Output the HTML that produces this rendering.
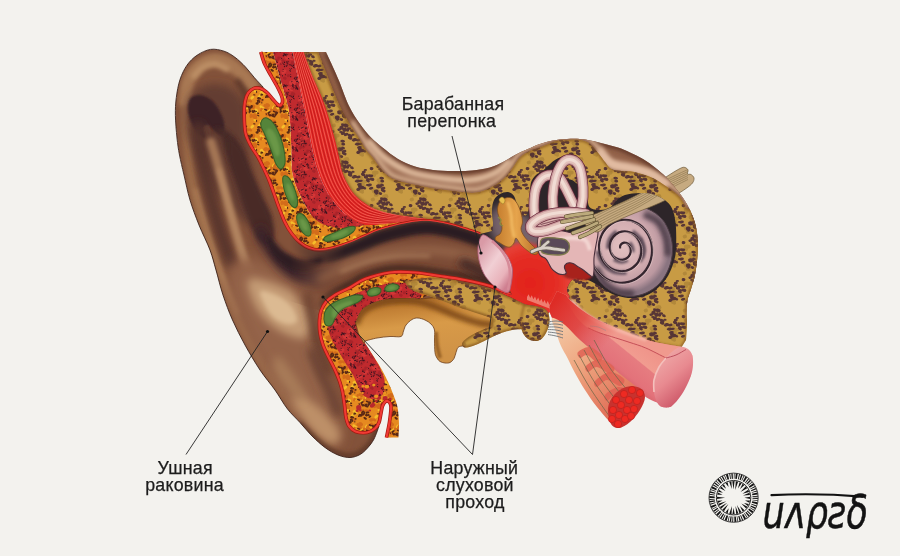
<!DOCTYPE html>
<html lang="ru"><head><meta charset="utf-8"><title>Строение уха</title>
<style>
html,body{margin:0;padding:0;background:#f3f2ee;}
body{width:900px;height:556px;overflow:hidden;position:relative;font-family:"Liberation Sans",sans-serif;}
svg{position:absolute;left:0;top:0;display:block}
text{font-family:"Liberation Sans",sans-serif;fill:#1b1b1b}
</style></head><body>
<svg width="900" height="556" viewBox="0 0 900 556">
<defs>
<filter id="b1" filterUnits="userSpaceOnUse" x="0" y="0" width="900" height="556"><feGaussianBlur stdDeviation="1"/></filter>
<filter id="b2" filterUnits="userSpaceOnUse" x="0" y="0" width="900" height="556"><feGaussianBlur stdDeviation="2.2"/></filter>
<filter id="b4" filterUnits="userSpaceOnUse" x="0" y="0" width="900" height="556"><feGaussianBlur stdDeviation="4"/></filter>
<filter id="b7" filterUnits="userSpaceOnUse" x="0" y="0" width="900" height="556"><feGaussianBlur stdDeviation="7"/></filter>
<filter id="b05" filterUnits="userSpaceOnUse" x="0" y="0" width="900" height="556"><feGaussianBlur stdDeviation="0.5"/></filter>
<clipPath id="cAur"><path d="M263.5,87.5C262,85.9 257.5,81.2 254.5,77.8C251.5,74.4 248.8,70.5 245.5,67C242.2,63.5 238.3,59.7 234.7,57.1C231.1,54.5 228,52.5 224,51.2C220,49.9 215,48.7 210.5,49.4C206,50.1 200.9,52.7 197,55.3C193.1,57.9 189.8,61.2 187,65.2C184.2,69.2 181.8,74.2 180,79.6C178.2,85 177.1,91.6 176.3,97.6C175.5,103.6 175.3,108.8 175.4,115.5C175.5,122.2 176.3,131.4 177,138C177.7,144.6 178.3,148.8 179.5,155C180.7,161.2 182.2,167.5 184,175C185.8,182.5 187.5,191.7 190,200C192.5,208.3 195.7,216.7 199,225C202.3,233.3 207.2,242.5 210,250C212.8,257.5 213.8,262.5 216,270C218.2,277.5 220.2,286.7 223,295C225.8,303.3 228.8,311.7 232.5,320C236.2,328.3 240.4,336.7 245,345C249.6,353.3 255,362.5 260,370C265,377.5 270.4,383.5 275,390C279.6,396.5 283.3,403.6 287.5,409C291.7,414.4 295.9,418 300,422.5C304.1,427 307.8,431.8 312,436C316.2,440.2 320.7,444.3 325,447.5C329.3,450.7 333.8,453.3 338,455C342.2,456.7 346.3,457.6 350,457.5C353.7,457.4 357.1,456.1 360,454.5C362.9,452.9 365.2,450.6 367.5,448C369.8,445.4 372.1,442.7 374,439C375.9,435.3 378.2,428.2 379,426L372,420 L350,400 L340,300 L525,300 L525,215 L300,215 L262,150 L258,100Z"/></clipPath>
<pattern id="pBone" width="39" height="37" patternUnits="userSpaceOnUse"><rect width="39" height="37" fill="#c89b44"/><path d="M7.1,1.7a2,1.3 -10 1,0 4,-0.7a2,1.3 -10 1,0 -4,0.7zM7.1,38.7a2,1.3 -10 1,0 4,-0.7a2,1.3 -10 1,0 -4,0.7zM9.4,0.5a2.8,1.9 13 1,0 5.4,1.3a2.8,1.9 13 1,0 -5.4,-1.3zM9.4,37.5a2.8,1.9 13 1,0 5.4,1.3a2.8,1.9 13 1,0 -5.4,-1.3zM-7.9,12.1a3.2,2.3 -9 1,0 6.3,-1.1a3.2,2.3 -9 1,0 -6.3,1.1zM31.1,12.1a3.2,2.3 -9 1,0 6.3,-1.1a3.2,2.3 -9 1,0 -6.3,1.1zM19.1,28.5a3,2 -16 1,0 5.8,-1.7a3,2 -16 1,0 -5.8,1.7zM20.9,24.5a3.4,2.1 2 1,0 6.8,0.3a3.4,2.1 2 1,0 -6.8,-0.3zM11.2,-3.2a2.6,1.7 -3 1,0 5.2,-0.3a2.6,1.7 -3 1,0 -5.2,0.3zM11.2,33.8a2.6,1.7 -3 1,0 5.2,-0.3a2.6,1.7 -3 1,0 -5.2,0.3zM6.7,-3.3a3.2,2.4 -22 1,0 5.9,-2.5a3.2,2.4 -22 1,0 -5.9,2.5zM6.7,33.7a3.2,2.4 -22 1,0 5.9,-2.5a3.2,2.4 -22 1,0 -5.9,2.5zM22.8,7.2a3,2.3 20 1,0 5.6,2.1a3,2.3 20 1,0 -5.6,-2.1zM23,9.8a2.3,1.5 4 1,0 4.5,0.4a2.3,1.5 4 1,0 -4.5,-0.4zM20,4.5a2.3,1.5 5 1,0 4.7,0.5a2.3,1.5 5 1,0 -4.7,-0.5zM20,41.5a2.3,1.5 5 1,0 4.7,0.5a2.3,1.5 5 1,0 -4.7,-0.5zM21.1,7.2a2.3,1.5 -22 1,0 4.2,-1.8a2.3,1.5 -22 1,0 -4.2,1.8zM21.1,44.2a2.3,1.5 -22 1,0 4.2,-1.8a2.3,1.5 -22 1,0 -4.2,1.8zM26.7,-1.9a2,1.4 23 1,0 3.7,1.6a2,1.4 23 1,0 -3.7,-1.6zM26.7,35.1a2,1.4 23 1,0 3.7,1.6a2,1.4 23 1,0 -3.7,-1.6zM25.6,-5.3a3.4,2.2 15 1,0 6.6,1.9a3.4,2.2 15 1,0 -6.6,-1.9zM25.6,31.7a3.4,2.2 15 1,0 6.6,1.9a3.4,2.2 15 1,0 -6.6,-1.9zM7.3,5.4a2.9,2.1 3 1,0 5.8,0.4a2.9,2.1 3 1,0 -5.8,-0.4zM7.3,42.4a2.9,2.1 3 1,0 5.8,0.4a2.9,2.1 3 1,0 -5.8,-0.4zM8.3,5.7a2.5,1.6 24 1,0 4.6,2.1a2.5,1.6 24 1,0 -4.6,-2.1zM8.3,42.7a2.5,1.6 24 1,0 4.6,2.1a2.5,1.6 24 1,0 -4.6,-2.1zM19.8,15.1a2.1,1.6 -16 1,0 4,-1.2a2.1,1.6 -16 1,0 -4,1.2zM24.3,5.3a2.5,1.9 16 1,0 4.8,1.4a2.5,1.9 16 1,0 -4.8,-1.4zM24.3,42.3a2.5,1.9 16 1,0 4.8,1.4a2.5,1.9 16 1,0 -4.8,-1.4zM8.7,-1.5a2.6,2 -3 1,0 5.2,-0.4a2.6,2 -3 1,0 -5.2,0.4zM8.7,35.5a2.6,2 -3 1,0 5.2,-0.4a2.6,2 -3 1,0 -5.2,0.4zM7.4,-6.3a2.4,1.7 -14 1,0 4.6,-1.2a2.4,1.7 -14 1,0 -4.6,1.2zM7.4,30.7a2.4,1.7 -14 1,0 4.6,-1.2a2.4,1.7 -14 1,0 -4.6,1.2z" fill="#a98036" opacity="0.7"/><path d="M29.4,-4.2a1.9,1.2 11 1,0 3.7,0.7a1.9,1.2 11 1,0 -3.7,-0.7zM29.4,32.8a1.9,1.2 11 1,0 3.7,0.7a1.9,1.2 11 1,0 -3.7,-0.7zM8.3,-4.1a1.7,0.9 -3 1,0 3.3,-0.2a1.7,0.9 -3 1,0 -3.3,0.2zM8.3,32.9a1.7,0.9 -3 1,0 3.3,-0.2a1.7,0.9 -3 1,0 -3.3,0.2zM8.7,2.4a1.9,1.4 14 1,0 3.7,0.9a1.9,1.4 14 1,0 -3.7,-0.9zM8.7,39.4a1.9,1.4 14 1,0 3.7,0.9a1.9,1.4 14 1,0 -3.7,-0.9zM9.2,2.4a2.1,1.1 -6 1,0 4.2,-0.5a2.1,1.1 -6 1,0 -4.2,0.5zM9.2,39.4a2.1,1.1 -6 1,0 4.2,-0.5a2.1,1.1 -6 1,0 -4.2,0.5zM25.5,19a2.1,1.1 -16 1,0 4,-1.1a2.1,1.1 -16 1,0 -4,1.1zM27.4,16a2.1,1.5 14 1,0 4.1,1.1a2.1,1.5 14 1,0 -4.1,-1.1zM28.1,16.1a2,1.2 -20 1,0 3.8,-1.4a2,1.2 -20 1,0 -3.8,1.4zM12.7,21.9a1.7,0.9 2 1,0 3.4,0.1a1.7,0.9 2 1,0 -3.4,-0.1zM18.8,20.4a1.8,1.3 5 1,0 3.5,0.4a1.8,1.3 5 1,0 -3.5,-0.4zM10.9,24.6a2,1.3 -17 1,0 3.8,-1.2a2,1.3 -17 1,0 -3.8,1.2zM24.2,9.1a1.6,1 -23 1,0 3,-1.3a1.6,1 -23 1,0 -3,1.3zM30,4.7a2.4,1.3 22 1,0 4.4,1.8a2.4,1.3 22 1,0 -4.4,-1.8zM14.9,32.6a2.2,1.4 -23 1,0 4.1,-1.8a2.2,1.4 -23 1,0 -4.1,1.8zM16.5,0.4a2.2,1.4 -10 1,0 4.3,-0.8a2.2,1.4 -10 1,0 -4.3,0.8zM16.5,37.4a2.2,1.4 -10 1,0 4.3,-0.8a2.2,1.4 -10 1,0 -4.3,0.8zM14.8,0a2.1,1.2 2 1,0 4.2,0.2a2.1,1.2 2 1,0 -4.2,-0.2zM14.8,37a2.1,1.2 2 1,0 4.2,0.2a2.1,1.2 2 1,0 -4.2,-0.2zM11.5,2.6a1.9,1 15 1,0 3.6,1a1.9,1 15 1,0 -3.6,-1zM11.5,39.6a1.9,1 15 1,0 3.6,1a1.9,1 15 1,0 -3.6,-1zM28.3,30a2.3,1.3 2 1,0 4.6,0.2a2.3,1.3 2 1,0 -4.6,-0.2zM32,24.3a2.3,1.3 -22 1,0 4.2,-1.7a2.3,1.3 -22 1,0 -4.2,1.7zM7.3,0.7a2.3,1.5 22 1,0 4.2,1.7a2.3,1.5 22 1,0 -4.2,-1.7zM7.3,37.7a2.3,1.5 22 1,0 4.2,1.7a2.3,1.5 22 1,0 -4.2,-1.7zM-3,23.7a2.4,1.3 24 1,0 4.3,2a2.4,1.3 24 1,0 -4.3,-2zM36,23.7a2.4,1.3 24 1,0 4.3,2a2.4,1.3 24 1,0 -4.3,-2zM-0.8,18.8a1.6,0.8 12 1,0 3.2,0.7a1.6,0.8 12 1,0 -3.2,-0.7zM38.2,18.8a1.6,0.8 12 1,0 3.2,0.7a1.6,0.8 12 1,0 -3.2,-0.7zM0.5,23.4a1.6,0.9 12 1,0 3.2,0.7a1.6,0.9 12 1,0 -3.2,-0.7zM39.5,23.4a1.6,0.9 12 1,0 3.2,0.7a1.6,0.9 12 1,0 -3.2,-0.7zM-4,17.4a2,1.2 1 1,0 4.1,0.1a2,1.2 1 1,0 -4.1,-0.1zM35,17.4a2,1.2 1 1,0 4.1,0.1a2,1.2 1 1,0 -4.1,-0.1zM-5.4,19a1.7,0.9 18 1,0 3.2,1a1.7,0.9 18 1,0 -3.2,-1zM33.6,19a1.7,0.9 18 1,0 3.2,1a1.7,0.9 18 1,0 -3.2,-1zM16.9,27.3a2.1,1.4 15 1,0 4.1,1.1a2.1,1.4 15 1,0 -4.1,-1.1zM15.5,-4.5a1.7,1.3 19 1,0 3.3,1.1a1.7,1.3 19 1,0 -3.3,-1.1zM15.5,32.5a1.7,1.3 19 1,0 3.3,1.1a1.7,1.3 19 1,0 -3.3,-1.1zM18.8,30.9a2.3,1.4 9 1,0 4.5,0.8a2.3,1.4 9 1,0 -4.5,-0.8zM13,29a2,1.4 3 1,0 3.9,0.2a2,1.4 3 1,0 -3.9,-0.2zM17.9,27.9a2.2,1.3 -1 1,0 4.4,-0.1a2.2,1.3 -1 1,0 -4.4,0.1zM14.6,27.4a1.8,1 6 1,0 3.5,0.4a1.8,1 6 1,0 -3.5,-0.4zM27.7,7.8a1.8,1.4 20 1,0 3.4,1.3a1.8,1.4 20 1,0 -3.4,-1.3zM29.7,4a2.4,1.2 -15 1,0 4.6,-1.3a2.4,1.2 -15 1,0 -4.6,1.3zM29.7,41a2.4,1.2 -15 1,0 4.6,-1.3a2.4,1.2 -15 1,0 -4.6,1.3zM23.9,7.8a1.7,0.9 -1 1,0 3.4,-0.1a1.7,0.9 -1 1,0 -3.4,0.1zM28.9,22.8a2.1,1.4 -18 1,0 3.9,-1.3a2.1,1.4 -18 1,0 -3.9,1.3zM6.1,-0.5a2.2,1.5 4 1,0 4.4,0.3a2.2,1.5 4 1,0 -4.4,-0.3zM6.1,36.5a2.2,1.5 4 1,0 4.4,0.3a2.2,1.5 4 1,0 -4.4,-0.3zM-3.1,26.2a2.3,1.5 19 1,0 4.4,1.5a2.3,1.5 19 1,0 -4.4,-1.5zM35.9,26.2a2.3,1.5 19 1,0 4.4,1.5a2.3,1.5 19 1,0 -4.4,-1.5zM0.8,29a1.7,1.1 13 1,0 3.3,0.8a1.7,1.1 13 1,0 -3.3,-0.8zM39.8,29a1.7,1.1 13 1,0 3.3,0.8a1.7,1.1 13 1,0 -3.3,-0.8zM-0.9,19.5a1.9,1.1 12 1,0 3.7,0.9a1.9,1.1 12 1,0 -3.7,-0.9zM38.1,19.5a1.9,1.1 12 1,0 3.7,0.9a1.9,1.1 12 1,0 -3.7,-0.9zM18,3.8a2.2,1.3 -16 1,0 4.2,-1.3a2.2,1.3 -16 1,0 -4.2,1.3zM18,40.8a2.2,1.3 -16 1,0 4.2,-1.3a2.2,1.3 -16 1,0 -4.2,1.3zM22.9,6.9a2.4,1.8 -10 1,0 4.7,-0.8a2.4,1.8 -10 1,0 -4.7,0.8zM30.7,19.6a2,1.2 -3 1,0 4.1,-0.3a2,1.2 -3 1,0 -4.1,0.3zM30.6,19.1a2.4,1.4 -3 1,0 4.8,-0.3a2.4,1.4 -3 1,0 -4.8,0.3zM1.6,28.9a2.2,1.4 -7 1,0 4.3,-0.6a2.2,1.4 -7 1,0 -4.3,0.6zM40.6,28.9a2.2,1.4 -7 1,0 4.3,-0.6a2.2,1.4 -7 1,0 -4.3,0.6zM4.5,-4.6a2.4,1.2 10 1,0 4.7,0.9a2.4,1.2 10 1,0 -4.7,-0.9zM4.5,32.4a2.4,1.2 10 1,0 4.7,0.9a2.4,1.2 10 1,0 -4.7,-0.9zM6.5,-0.8a2.2,1.1 -3 1,0 4.4,-0.3a2.2,1.1 -3 1,0 -4.4,0.3zM6.5,36.2a2.2,1.1 -3 1,0 4.4,-0.3a2.2,1.1 -3 1,0 -4.4,0.3zM5.4,5.1a2.2,1.6 -24 1,0 4.1,-1.8a2.2,1.6 -24 1,0 -4.1,1.8zM5.4,42.1a2.2,1.6 -24 1,0 4.1,-1.8a2.2,1.6 -24 1,0 -4.1,1.8zM3.7,-4a2.1,1.1 14 1,0 4.1,1a2.1,1.1 14 1,0 -4.1,-1zM3.7,33a2.1,1.1 14 1,0 4.1,1a2.1,1.1 14 1,0 -4.1,-1zM10.1,25.6a2.2,1.5 23 1,0 4.1,1.8a2.2,1.5 23 1,0 -4.1,-1.8zM5.4,29.6a2.1,1.1 -17 1,0 3.9,-1.2a2.1,1.1 -17 1,0 -3.9,1.2zM29.4,-0.7a1.8,1.3 22 1,0 3.4,1.4a1.8,1.3 22 1,0 -3.4,-1.4zM29.4,36.3a1.8,1.3 22 1,0 3.4,1.4a1.8,1.3 22 1,0 -3.4,-1.4zM25.3,1.4a2.4,1.8 -1 1,0 4.7,-0.1a2.4,1.8 -1 1,0 -4.7,0.1zM25.3,38.4a2.4,1.8 -1 1,0 4.7,-0.1a2.4,1.8 -1 1,0 -4.7,0.1zM29.4,30.5a1.8,1.1 -3 1,0 3.6,-0.2a1.8,1.1 -3 1,0 -3.6,0.2zM26.9,2.5a2.1,1.2 -18 1,0 4.1,-1.4a2.1,1.2 -18 1,0 -4.1,1.4zM26.9,39.5a2.1,1.2 -18 1,0 4.1,-1.4a2.1,1.2 -18 1,0 -4.1,1.4zM-7.1,13.9a2.4,1.8 15 1,0 4.6,1.3a2.4,1.8 15 1,0 -4.6,-1.3zM31.9,13.9a2.4,1.8 15 1,0 4.6,1.3a2.4,1.8 15 1,0 -4.6,-1.3zM-5.9,18.5a2.1,1.1 6 1,0 4.1,0.5a2.1,1.1 6 1,0 -4.1,-0.5zM33.1,18.5a2.1,1.1 6 1,0 4.1,0.5a2.1,1.1 6 1,0 -4.1,-0.5zM27.1,21a1.9,1.1 0 1,0 3.8,0a1.9,1.1 0 1,0 -3.8,-0zM29,13a2.1,1.2 16 1,0 4.1,1.2a2.1,1.2 16 1,0 -4.1,-1.2zM30.2,19.1a2.2,1.6 -18 1,0 4.3,-1.4a2.2,1.6 -18 1,0 -4.3,1.4z" fill="#4c2b34" opacity="0.9"/></pattern>
<pattern id="pFat" width="31" height="29" patternUnits="userSpaceOnUse"><rect width="31" height="29" fill="#e68a20"/><path d="M12.4,4.4a2.2,1.5 49 1,0 2.8,3.3a2.2,1.5 49 1,0 -2.8,-3.3zM-5.1,21.9a2.1,1.4 27 1,0 3.8,2a2.1,1.4 27 1,0 -3.8,-2zM25.9,21.9a2.1,1.4 27 1,0 3.8,2a2.1,1.4 27 1,0 -3.8,-2zM3.9,20.2a1.8,1.4 105 1,0 -1,3.5a1.8,1.4 105 1,0 1,-3.5zM34.9,20.2a1.8,1.4 105 1,0 -1,3.5a1.8,1.4 105 1,0 1,-3.5zM13,7.6a2,1.5 120 1,0 -2,3.5a2,1.5 120 1,0 2,-3.5zM9.6,9.9a2,1.2 9 1,0 3.9,0.7a2,1.2 9 1,0 -3.9,-0.7zM14.3,8.1a1.9,1.4 159 1,0 -3.5,1.3a1.9,1.4 159 1,0 3.5,-1.3zM25.4,6.2a1.2,0.8 154 1,0 -2.2,1a1.2,0.8 154 1,0 2.2,-1zM7.1,2a1.7,1 97 1,0 -0.4,3.3a1.7,1 97 1,0 0.4,-3.3zM7.1,31a1.7,1 97 1,0 -0.4,3.3a1.7,1 97 1,0 0.4,-3.3zM26.7,18.9a2,1.3 122 1,0 -2.2,3.3a2,1.3 122 1,0 2.2,-3.3zM0.2,20a2.3,1.4 161 1,0 -4.3,1.5a2.3,1.4 161 1,0 4.3,-1.5zM31.2,20a2.3,1.4 161 1,0 -4.3,1.5a2.3,1.4 161 1,0 4.3,-1.5zM11.8,18.7a2.1,1.3 43 1,0 3.1,2.9a2.1,1.3 43 1,0 -3.1,-2.9zM14.8,21.4a1.3,0.8 97 1,0 -0.3,2.6a1.3,0.8 97 1,0 0.3,-2.6zM17,19.1a1.6,1 145 1,0 -2.7,1.8a1.6,1 145 1,0 2.7,-1.8zM12.7,22.3a1.5,1 14 1,0 3,0.8a1.5,1 14 1,0 -3,-0.8zM15.8,5.8a1.3,0.9 102 1,0 -0.5,2.5a1.3,0.9 102 1,0 0.5,-2.5zM5.7,9.1a2.1,1.4 133 1,0 -2.9,3.1a2.1,1.4 133 1,0 2.9,-3.1zM36.7,9.1a2.1,1.4 133 1,0 -2.9,3.1a2.1,1.4 133 1,0 2.9,-3.1zM8.9,-6.6a2.1,1.6 106 1,0 -1.2,4a2.1,1.6 106 1,0 1.2,-4zM8.9,22.4a2.1,1.6 106 1,0 -1.2,4a2.1,1.6 106 1,0 1.2,-4zM6.7,22.2a1.8,1.1 31 1,0 3,1.9a1.8,1.1 31 1,0 -3,-1.9zM19.7,21.7a2,1.4 71 1,0 1.2,3.7a2,1.4 71 1,0 -1.2,-3.7z" fill="#f6be2a"/><path d="M18.8,-2.7a1.6,1 98 1,0 -0.5,3.2a1.6,1 98 1,0 0.5,-3.2zM18.8,26.3a1.6,1 98 1,0 -0.5,3.2a1.6,1 98 1,0 0.5,-3.2zM20.8,-3.1a1.6,1.2 108 1,0 -1,3a1.6,1.2 108 1,0 1,-3zM20.8,25.9a1.6,1.2 108 1,0 -1,3a1.6,1.2 108 1,0 1,-3zM15.5,19.3a2.1,1.3 1 1,0 4.3,0.1a2.1,1.3 1 1,0 -4.3,-0.1zM20.8,21.5a1.9,1.4 172 1,0 -3.7,0.5a1.9,1.4 172 1,0 3.7,-0.5zM17.1,17.2a1.6,1 108 1,0 -1,3a1.6,1 108 1,0 1,-3zM23.8,21.8a1.6,1.1 113 1,0 -1.2,2.9a1.6,1.1 113 1,0 1.2,-2.9zM-3.2,19a1.7,1.3 119 1,0 -1.7,3a1.7,1.3 119 1,0 1.7,-3zM27.8,19a1.7,1.3 119 1,0 -1.7,3a1.7,1.3 119 1,0 1.7,-3zM-5.5,21.3a2.4,1.5 68 1,0 1.8,4.5a2.4,1.5 68 1,0 -1.8,-4.5zM25.5,21.3a2.4,1.5 68 1,0 1.8,4.5a2.4,1.5 68 1,0 -1.8,-4.5zM14.2,21.1a1.8,1.1 116 1,0 -1.6,3.2a1.8,1.1 116 1,0 1.6,-3.2zM18.6,3.3a1.8,1.1 123 1,0 -2,3a1.8,1.1 123 1,0 2,-3zM18.6,32.3a1.8,1.1 123 1,0 -2,3a1.8,1.1 123 1,0 2,-3zM19.5,2.8a2.3,1.8 147 1,0 -4,2.5a2.3,1.8 147 1,0 4,-2.5zM19.5,31.8a2.3,1.8 147 1,0 -4,2.5a2.3,1.8 147 1,0 4,-2.5zM20.7,2.9a1.6,0.9 102 1,0 -0.7,3.1a1.6,0.9 102 1,0 0.7,-3.1zM20.7,31.9a1.6,0.9 102 1,0 -0.7,3.1a1.6,0.9 102 1,0 0.7,-3.1zM20.3,6.8a2,1.4 44 1,0 2.9,2.8a2,1.4 44 1,0 -2.9,-2.8zM21.9,2.9a2.1,1.3 71 1,0 1.3,4.1a2.1,1.3 71 1,0 -1.3,-4.1zM21.9,31.9a2.1,1.3 71 1,0 1.3,4.1a2.1,1.3 71 1,0 -1.3,-4.1zM4.6,0a2.4,1.8 28 1,0 4.3,2.4a2.4,1.8 28 1,0 -4.3,-2.4zM4.6,29a2.4,1.8 28 1,0 4.3,2.4a2.4,1.8 28 1,0 -4.3,-2.4zM7.5,-1.5a1.9,1.3 84 1,0 0.4,3.8a1.9,1.3 84 1,0 -0.4,-3.8zM7.5,27.5a1.9,1.3 84 1,0 0.4,3.8a1.9,1.3 84 1,0 -0.4,-3.8zM3.2,-0.7a2.5,1.6 20 1,0 4.7,1.8a2.5,1.6 20 1,0 -4.7,-1.8zM3.2,28.3a2.5,1.6 20 1,0 4.7,1.8a2.5,1.6 20 1,0 -4.7,-1.8zM-3.3,19.5a1.7,1.3 129 1,0 -2.2,2.6a1.7,1.3 129 1,0 2.2,-2.6zM27.7,19.5a1.7,1.3 129 1,0 -2.2,2.6a1.7,1.3 129 1,0 2.2,-2.6zM-4.7,-5.6a2.3,1.6 19 1,0 4.4,1.5a2.3,1.6 19 1,0 -4.4,-1.5zM-4.7,23.4a2.3,1.6 19 1,0 4.4,1.5a2.3,1.6 19 1,0 -4.4,-1.5zM26.3,-5.6a2.3,1.6 19 1,0 4.4,1.5a2.3,1.6 19 1,0 -4.4,-1.5zM26.3,23.4a2.3,1.6 19 1,0 4.4,1.5a2.3,1.6 19 1,0 -4.4,-1.5zM-3.7,21.6a2.1,1.5 67 1,0 1.6,3.8a2.1,1.5 67 1,0 -1.6,-3.8zM27.3,21.6a2.1,1.5 67 1,0 1.6,3.8a2.1,1.5 67 1,0 -1.6,-3.8zM6.3,-2.7a2,1.5 65 1,0 1.7,3.7a2,1.5 65 1,0 -1.7,-3.7zM6.3,26.3a2,1.5 65 1,0 1.7,3.7a2,1.5 65 1,0 -1.7,-3.7zM7.8,-1.5a1.8,1.3 102 1,0 -0.7,3.4a1.8,1.3 102 1,0 0.7,-3.4zM7.8,27.5a1.8,1.3 102 1,0 -0.7,3.4a1.8,1.3 102 1,0 0.7,-3.4zM3.1,-2.6a2.4,1.4 95 1,0 -0.5,4.8a2.4,1.4 95 1,0 0.5,-4.8zM3.1,26.4a2.4,1.4 95 1,0 -0.5,4.8a2.4,1.4 95 1,0 0.5,-4.8zM34.1,-2.6a2.4,1.4 95 1,0 -0.5,4.8a2.4,1.4 95 1,0 0.5,-4.8zM34.1,26.4a2.4,1.4 95 1,0 -0.5,4.8a2.4,1.4 95 1,0 0.5,-4.8zM4.3,18.8a2.2,1.3 167 1,0 -4.2,1a2.2,1.3 167 1,0 4.2,-1zM35.3,18.8a2.2,1.3 167 1,0 -4.2,1a2.2,1.3 167 1,0 4.2,-1zM6.3,18.1a2.3,1.6 120 1,0 -2.3,3.9a2.3,1.6 120 1,0 2.3,-3.9zM37.3,18.1a2.3,1.6 120 1,0 -2.3,3.9a2.3,1.6 120 1,0 2.3,-3.9zM1.3,20.7a2,1.4 11 1,0 3.9,0.8a2,1.4 11 1,0 -3.9,-0.8zM32.3,20.7a2,1.4 11 1,0 3.9,0.8a2,1.4 11 1,0 -3.9,-0.8zM1.4,13.3a2.2,1.6 162 1,0 -4.2,1.3a2.2,1.6 162 1,0 4.2,-1.3zM32.4,13.3a2.2,1.6 162 1,0 -4.2,1.3a2.2,1.6 162 1,0 4.2,-1.3zM1.1,12.8a1.8,1.1 38 1,0 2.8,2.2a1.8,1.1 38 1,0 -2.8,-2.2zM32.1,12.8a1.8,1.1 38 1,0 2.8,2.2a1.8,1.1 38 1,0 -2.8,-2.2zM0.5,16.9a2.1,1.4 141 1,0 -3.3,2.7a2.1,1.4 141 1,0 3.3,-2.7zM31.5,16.9a2.1,1.4 141 1,0 -3.3,2.7a2.1,1.4 141 1,0 3.3,-2.7zM-7.1,4.5a2,1.2 9 1,0 3.8,0.7a2,1.2 9 1,0 -3.8,-0.7zM-7.1,33.5a2,1.2 9 1,0 3.8,0.7a2,1.2 9 1,0 -3.8,-0.7zM23.9,4.5a2,1.2 9 1,0 3.8,0.7a2,1.2 9 1,0 -3.8,-0.7zM23.9,33.5a2,1.2 9 1,0 3.8,0.7a2,1.2 9 1,0 -3.8,-0.7zM17.7,16.6a2.4,1.7 34 1,0 4,2.8a2.4,1.7 34 1,0 -4,-2.8zM15.1,13.4a1.6,1 154 1,0 -2.8,1.4a1.6,1 154 1,0 2.8,-1.4zM9.9,12.4a2.1,1.6 16 1,0 4,1.2a2.1,1.6 16 1,0 -4,-1.2z" fill="#d36c1a"/><path d="M4.1,18a1.6,1.2 107 1,0 -1,3.1a1.6,1.2 107 1,0 1,-3.1zM35.1,18a1.6,1.2 107 1,0 -1,3.1a1.6,1.2 107 1,0 1,-3.1zM3.3,20a1.5,0.8 170 1,0 -3,0.5a1.5,0.8 170 1,0 3,-0.5zM34.3,20a1.5,0.8 170 1,0 -3,0.5a1.5,0.8 170 1,0 3,-0.5zM24.1,-0.1a1.7,1 17 1,0 3.3,1a1.7,1 17 1,0 -3.3,-1zM24.1,28.9a1.7,1 17 1,0 3.3,1a1.7,1 17 1,0 -3.3,-1zM-3.4,-3.1a1.7,0.9 91 1,0 -0.1,3.4a1.7,0.9 91 1,0 0.1,-3.4zM-3.4,25.9a1.7,0.9 91 1,0 -0.1,3.4a1.7,0.9 91 1,0 0.1,-3.4zM27.6,-3.1a1.7,0.9 91 1,0 -0.1,3.4a1.7,0.9 91 1,0 0.1,-3.4zM27.6,25.9a1.7,0.9 91 1,0 -0.1,3.4a1.7,0.9 91 1,0 0.1,-3.4zM-2.1,-2.3a1,0.8 169 1,0 -2.1,0.4a1,0.8 169 1,0 2.1,-0.4zM-2.1,26.7a1,0.8 169 1,0 -2.1,0.4a1,0.8 169 1,0 2.1,-0.4zM28.9,-2.3a1,0.8 169 1,0 -2.1,0.4a1,0.8 169 1,0 2.1,-0.4zM28.9,26.7a1,0.8 169 1,0 -2.1,0.4a1,0.8 169 1,0 2.1,-0.4zM27.9,6.2a1.8,0.9 167 1,0 -3.5,0.7a1.8,0.9 167 1,0 3.5,-0.7zM28.4,6a1.6,0.7 161 1,0 -3,1a1.6,0.7 161 1,0 3,-1zM10.9,13a1.1,0.6 157 1,0 -2,0.8a1.1,0.6 157 1,0 2,-0.8zM10.7,16.5a1.6,1.2 178 1,0 -3.2,0.1a1.6,1.2 178 1,0 3.2,-0.1zM10.4,12.6a1.8,0.9 65 1,0 1.5,3.3a1.8,0.9 65 1,0 -1.5,-3.3zM9.3,14a1.4,0.6 64 1,0 1.2,2.5a1.4,0.6 64 1,0 -1.2,-2.5zM18,-3.1a1.1,0.6 79 1,0 0.4,2.2a1.1,0.6 79 1,0 -0.4,-2.2zM18,25.9a1.1,0.6 79 1,0 0.4,2.2a1.1,0.6 79 1,0 -0.4,-2.2zM15.9,22.1a1.8,0.8 22 1,0 3.4,1.4a1.8,0.8 22 1,0 -3.4,-1.4zM20.3,-2.7a1.8,0.8 60 1,0 1.8,3.2a1.8,0.8 60 1,0 -1.8,-3.2zM20.3,26.3a1.8,0.8 60 1,0 1.8,3.2a1.8,0.8 60 1,0 -1.8,-3.2zM22.7,-4.5a1.8,0.9 151 1,0 -3.3,1.7a1.8,0.9 151 1,0 3.3,-1.7zM22.7,24.5a1.8,0.9 151 1,0 -3.3,1.7a1.8,0.9 151 1,0 3.3,-1.7zM22.7,11.3a1.8,0.9 34 1,0 2.9,2a1.8,0.9 34 1,0 -2.9,-2zM-0.9,9.8a1.5,0.9 144 1,0 -2.5,1.8a1.5,0.9 144 1,0 2.5,-1.8zM30.1,9.8a1.5,0.9 144 1,0 -2.5,1.8a1.5,0.9 144 1,0 2.5,-1.8zM24.8,8a1.5,0.7 33 1,0 2.5,1.7a1.5,0.7 33 1,0 -2.5,-1.7zM-3.8,7.8a1.2,0.7 62 1,0 1.1,2.1a1.2,0.7 62 1,0 -1.1,-2.1zM27.2,7.8a1.2,0.7 62 1,0 1.1,2.1a1.2,0.7 62 1,0 -1.1,-2.1zM22.8,-1.8a1.1,0.8 98 1,0 -0.3,2.1a1.1,0.8 98 1,0 0.3,-2.1zM22.8,27.2a1.1,0.8 98 1,0 -0.3,2.1a1.1,0.8 98 1,0 0.3,-2.1zM26.5,-0.8a1.8,0.8 171 1,0 -3.6,0.6a1.8,0.8 171 1,0 3.6,-0.6zM26.5,28.2a1.8,0.8 171 1,0 -3.6,0.6a1.8,0.8 171 1,0 3.6,-0.6zM23.5,-2.3a1.1,0.5 27 1,0 2,1a1.1,0.5 27 1,0 -2,-1zM23.5,26.7a1.1,0.5 27 1,0 2,1a1.1,0.5 27 1,0 -2,-1zM-0.6,19.1a1.3,0.9 33 1,0 2.2,1.5a1.3,0.9 33 1,0 -2.2,-1.5zM30.4,19.1a1.3,0.9 33 1,0 2.2,1.5a1.3,0.9 33 1,0 -2.2,-1.5zM-3.1,18.6a1.5,0.8 27 1,0 2.6,1.4a1.5,0.8 27 1,0 -2.6,-1.4zM27.9,18.6a1.5,0.8 27 1,0 2.6,1.4a1.5,0.8 27 1,0 -2.6,-1.4zM5.1,7.6a1.2,0.6 13 1,0 2.4,0.6a1.2,0.6 13 1,0 -2.4,-0.6zM8.5,3.8a1.2,0.6 85 1,0 0.2,2.4a1.2,0.6 85 1,0 -0.2,-2.4zM21.4,9.2a1.9,1.1 173 1,0 -3.7,0.4a1.9,1.1 173 1,0 3.7,-0.4zM20.8,6.8a1.5,0.8 78 1,0 0.6,2.9a1.5,0.8 78 1,0 -0.6,-2.9zM22.5,4.9a1.6,0.8 130 1,0 -2,2.4a1.6,0.8 130 1,0 2,-2.4zM18.7,8.1a1.6,0.7 114 1,0 -1.3,2.9a1.6,0.7 114 1,0 1.3,-2.9zM1.4,23.3a1.5,0.7 92 1,0 -0.2,3.1a1.5,0.7 92 1,0 0.2,-3.1zM32.4,23.3a1.5,0.7 92 1,0 -0.2,3.1a1.5,0.7 92 1,0 0.2,-3.1zM0.8,21a1.4,0.9 61 1,0 1.4,2.5a1.4,0.9 61 1,0 -1.4,-2.5zM31.8,21a1.4,0.9 61 1,0 1.4,2.5a1.4,0.9 61 1,0 -1.4,-2.5zM2,20.1a1.1,0.5 64 1,0 1,2a1.1,0.5 64 1,0 -1,-2zM33,20.1a1.1,0.5 64 1,0 1,2a1.1,0.5 64 1,0 -1,-2zM1.1,22.5a1.6,0.9 55 1,0 1.8,2.7a1.6,0.9 55 1,0 -1.8,-2.7zM32.1,22.5a1.6,0.9 55 1,0 1.8,2.7a1.6,0.9 55 1,0 -1.8,-2.7zM22.2,4.7a1.4,0.6 52 1,0 1.7,2.2a1.4,0.6 52 1,0 -1.7,-2.2zM24.3,8.6a1.3,0.9 28 1,0 2.2,1.2a1.3,0.9 28 1,0 -2.2,-1.2zM23.8,6.6a1.6,0.8 128 1,0 -1.9,2.5a1.6,0.8 128 1,0 1.9,-2.5zM9.1,24a1.2,0.5 151 1,0 -2.2,1.2a1.2,0.5 151 1,0 2.2,-1.2zM7.2,23.2a1.7,1.1 136 1,0 -2.5,2.4a1.7,1.1 136 1,0 2.5,-2.4zM4,23a1.6,0.9 67 1,0 1.2,3a1.6,0.9 67 1,0 -1.2,-3zM13.8,14.7a1,0.5 86 1,0 0.1,2a1,0.5 86 1,0 -0.1,-2zM9.8,10.8a1.7,0.9 15 1,0 3.2,0.9a1.7,0.9 15 1,0 -3.2,-0.9zM13.4,12.9a1.1,0.8 1 1,0 2.3,0.1a1.1,0.8 1 1,0 -2.3,-0.1zM9.3,-1.2a1.2,0.6 36 1,0 1.9,1.4a1.2,0.6 36 1,0 -1.9,-1.4zM9.3,27.8a1.2,0.6 36 1,0 1.9,1.4a1.2,0.6 36 1,0 -1.9,-1.4zM9,-3a1.1,0.5 15 1,0 2,0.5a1.1,0.5 15 1,0 -2,-0.5zM9,26a1.1,0.5 15 1,0 2,0.5a1.1,0.5 15 1,0 -2,-0.5zM24.9,24.1a1.4,0.6 17 1,0 2.6,0.8a1.4,0.6 17 1,0 -2.6,-0.8zM26.4,-2.3a1.5,0.6 143 1,0 -2.3,1.7a1.5,0.6 143 1,0 2.3,-1.7zM26.4,26.7a1.5,0.6 143 1,0 -2.3,1.7a1.5,0.6 143 1,0 2.3,-1.7zM-3.5,-4a1.4,0.9 30 1,0 2.3,1.4a1.4,0.9 30 1,0 -2.3,-1.4zM-3.5,25a1.4,0.9 30 1,0 2.3,1.4a1.4,0.9 30 1,0 -2.3,-1.4zM27.5,-4a1.4,0.9 30 1,0 2.3,1.4a1.4,0.9 30 1,0 -2.3,-1.4zM27.5,25a1.4,0.9 30 1,0 2.3,1.4a1.4,0.9 30 1,0 -2.3,-1.4zM-1.3,-3.3a1.5,0.6 127 1,0 -1.8,2.4a1.5,0.6 127 1,0 1.8,-2.4zM-1.3,25.7a1.5,0.6 127 1,0 -1.8,2.4a1.5,0.6 127 1,0 1.8,-2.4zM29.7,-3.3a1.5,0.6 127 1,0 -1.8,2.4a1.5,0.6 127 1,0 1.8,-2.4zM29.7,25.7a1.5,0.6 127 1,0 -1.8,2.4a1.5,0.6 127 1,0 1.8,-2.4zM13,6.6a1.4,0.6 87 1,0 0.1,2.8a1.4,0.6 87 1,0 -0.1,-2.8zM10.4,10.1a1.1,0.9 104 1,0 -0.6,2.2a1.1,0.9 104 1,0 0.6,-2.2zM12.7,7a1.4,0.8 22 1,0 2.6,1.1a1.4,0.8 22 1,0 -2.6,-1.1z" fill="#5a2814"/></pattern>
<pattern id="pMus" width="29" height="31" patternUnits="userSpaceOnUse"><rect width="29" height="31" fill="#c02a2e"/><path d="M8.3,16.9a2.7,2 156 1,0 -5,2.2a2.7,2 156 1,0 5,-2.2zM37.3,16.9a2.7,2 156 1,0 -5,2.2a2.7,2 156 1,0 5,-2.2zM19.3,13.5a3,2 177 1,0 -6,0.3a3,2 177 1,0 6,-0.3zM19.2,11a1.9,1.3 146 1,0 -3.2,2.1a1.9,1.3 146 1,0 3.2,-2.1zM7,18.7a2.8,1.8 137 1,0 -4.1,3.8a2.8,1.8 137 1,0 4.1,-3.8zM36,18.7a2.8,1.8 137 1,0 -4.1,3.8a2.8,1.8 137 1,0 4.1,-3.8zM1.1,21a1.8,1.3 10 1,0 3.4,0.7a1.8,1.3 10 1,0 -3.4,-0.7zM30.1,21a1.8,1.3 10 1,0 3.4,0.7a1.8,1.3 10 1,0 -3.4,-0.7zM1,-6.3a2.2,1.7 78 1,0 0.9,4.3a2.2,1.7 78 1,0 -0.9,-4.3zM1,24.7a2.2,1.7 78 1,0 0.9,4.3a2.2,1.7 78 1,0 -0.9,-4.3zM30,-6.3a2.2,1.7 78 1,0 0.9,4.3a2.2,1.7 78 1,0 -0.9,-4.3zM30,24.7a2.2,1.7 78 1,0 0.9,4.3a2.2,1.7 78 1,0 -0.9,-4.3zM9.1,6.1a2.3,1.7 64 1,0 2,4.2a2.3,1.7 64 1,0 -2,-4.2zM14.4,4.2a2.6,1.7 176 1,0 -5.3,0.3a2.6,1.7 176 1,0 5.3,-0.3zM14.4,35.2a2.6,1.7 176 1,0 -5.3,0.3a2.6,1.7 176 1,0 5.3,-0.3zM-0.8,-7.2a2.3,1.5 146 1,0 -3.9,2.5a2.3,1.5 146 1,0 3.9,-2.5zM-0.8,23.8a2.3,1.5 146 1,0 -3.9,2.5a2.3,1.5 146 1,0 3.9,-2.5zM28.2,-7.2a2.3,1.5 146 1,0 -3.9,2.5a2.3,1.5 146 1,0 3.9,-2.5zM28.2,23.8a2.3,1.5 146 1,0 -3.9,2.5a2.3,1.5 146 1,0 3.9,-2.5zM-3.5,-7.7a2.8,2.1 75 1,0 1.4,5.3a2.8,2.1 75 1,0 -1.4,-5.3zM-3.5,23.3a2.8,2.1 75 1,0 1.4,5.3a2.8,2.1 75 1,0 -1.4,-5.3zM25.5,-7.7a2.8,2.1 75 1,0 1.4,5.3a2.8,2.1 75 1,0 -1.4,-5.3zM25.5,23.3a2.8,2.1 75 1,0 1.4,5.3a2.8,2.1 75 1,0 -1.4,-5.3zM3.3,18.2a1.8,1.2 105 1,0 -1,3.5a1.8,1.2 105 1,0 1,-3.5zM32.3,18.2a1.8,1.2 105 1,0 -1,3.5a1.8,1.2 105 1,0 1,-3.5zM1.3,19a1.6,1.1 96 1,0 -0.4,3.1a1.6,1.1 96 1,0 0.4,-3.1zM30.3,19a1.6,1.1 96 1,0 -0.4,3.1a1.6,1.1 96 1,0 0.4,-3.1zM20.1,-3.6a2.2,1.6 115 1,0 -1.9,4a2.2,1.6 115 1,0 1.9,-4zM20.1,27.4a2.2,1.6 115 1,0 -1.9,4a2.2,1.6 115 1,0 1.9,-4zM18.5,0.7a1.7,1.1 172 1,0 -3.3,0.4a1.7,1.1 172 1,0 3.3,-0.4zM18.5,31.7a1.7,1.1 172 1,0 -3.3,0.4a1.7,1.1 172 1,0 3.3,-0.4zM0,19a2.3,1.3 50 1,0 2.8,3.5a2.3,1.3 50 1,0 -2.8,-3.5zM29,19a2.3,1.3 50 1,0 2.8,3.5a2.3,1.3 50 1,0 -2.8,-3.5zM-1.2,21.2a2.6,1.7 3 1,0 5.2,0.3a2.6,1.7 3 1,0 -5.2,-0.3zM27.8,21.2a2.6,1.7 3 1,0 5.2,0.3a2.6,1.7 3 1,0 -5.2,-0.3zM22.5,8.4a2.1,1.5 102 1,0 -0.9,4.1a2.1,1.5 102 1,0 0.9,-4.1zM-4.1,7.9a2.3,1.6 133 1,0 -3.2,3.4a2.3,1.6 133 1,0 3.2,-3.4zM24.9,7.9a2.3,1.6 133 1,0 -3.2,3.4a2.3,1.6 133 1,0 3.2,-3.4zM9.6,16.1a2.9,1.8 46 1,0 4,4.3a2.9,1.8 46 1,0 -4,-4.3zM10.3,13.5a2,1.2 52 1,0 2.4,3.1a2,1.2 52 1,0 -2.4,-3.1z" fill="#d93a38" opacity="0.8"/><path d="M17.6,-5.5a2.1,1.4 81 1,0 0.6,4.1a2.1,1.4 81 1,0 -0.6,-4.1zM17.6,25.5a2.1,1.4 81 1,0 0.6,4.1a2.1,1.4 81 1,0 -0.6,-4.1zM14.5,-3.3a2.3,1.4 61 1,0 2.2,4a2.3,1.4 61 1,0 -2.2,-4zM14.5,27.7a2.3,1.4 61 1,0 2.2,4a2.3,1.4 61 1,0 -2.2,-4zM0.6,-5.1a1.7,1.2 24 1,0 3.1,1.5a1.7,1.2 24 1,0 -3.1,-1.5zM0.6,25.9a1.7,1.2 24 1,0 3.1,1.5a1.7,1.2 24 1,0 -3.1,-1.5zM29.6,-5.1a1.7,1.2 24 1,0 3.1,1.5a1.7,1.2 24 1,0 -3.1,-1.5zM29.6,25.9a1.7,1.2 24 1,0 3.1,1.5a1.7,1.2 24 1,0 -3.1,-1.5zM12.7,18.5a2.3,1.6 27 1,0 4.1,2.2a2.3,1.6 27 1,0 -4.1,-2.2zM16.9,18.9a1.7,1 118 1,0 -1.6,2.9a1.7,1 118 1,0 1.6,-2.9zM1,-0.2a2.3,1.7 25 1,0 4.2,2.1a2.3,1.7 25 1,0 -4.2,-2.1zM1,30.8a2.3,1.7 25 1,0 4.2,2.1a2.3,1.7 25 1,0 -4.2,-2.1zM30,-0.2a2.3,1.7 25 1,0 4.2,2.1a2.3,1.7 25 1,0 -4.2,-2.1zM30,30.8a2.3,1.7 25 1,0 4.2,2.1a2.3,1.7 25 1,0 -4.2,-2.1zM2,0.3a2.2,1.7 86 1,0 0.3,4.4a2.2,1.7 86 1,0 -0.3,-4.4zM2,31.3a2.2,1.7 86 1,0 0.3,4.4a2.2,1.7 86 1,0 -0.3,-4.4zM31,0.3a2.2,1.7 86 1,0 0.3,4.4a2.2,1.7 86 1,0 -0.3,-4.4zM31,31.3a2.2,1.7 86 1,0 0.3,4.4a2.2,1.7 86 1,0 -0.3,-4.4zM11.5,9.6a2.2,1.6 176 1,0 -4.4,0.3a2.2,1.6 176 1,0 4.4,-0.3zM7.5,10.1a2.3,1.7 36 1,0 3.8,2.7a2.3,1.7 36 1,0 -3.8,-2.7zM6.1,20.9a1.6,0.9 71 1,0 1,3a1.6,0.9 71 1,0 -1,-3zM12.1,21.9a2.3,1.7 138 1,0 -3.4,3.1a2.3,1.7 138 1,0 3.4,-3.1zM22.2,15.2a1.9,1.4 32 1,0 3.2,2a1.9,1.4 32 1,0 -3.2,-2zM-0.1,13a1.7,1.3 157 1,0 -3.1,1.3a1.7,1.3 157 1,0 3.1,-1.3zM28.9,13a1.7,1.3 157 1,0 -3.1,1.3a1.7,1.3 157 1,0 3.1,-1.3zM6.2,13.8a2.2,1.4 85 1,0 0.4,4.3a2.2,1.4 85 1,0 -0.4,-4.3zM7.3,18.5a1.6,0.9 32 1,0 2.7,1.7a1.6,0.9 32 1,0 -2.7,-1.7zM15.1,22a1.7,1 135 1,0 -2.5,2.4a1.7,1 135 1,0 2.5,-2.4zM11.3,15.8a1.7,1 108 1,0 -1.1,3.2a1.7,1 108 1,0 1.1,-3.2zM11.9,13.5a1.7,1.1 90 1,0 -0,3.4a1.7,1.1 90 1,0 0,-3.4zM-0.8,-0.9a1.9,1.4 150 1,0 -3.3,1.9a1.9,1.4 150 1,0 3.3,-1.9zM-0.8,30.1a1.9,1.4 150 1,0 -3.3,1.9a1.9,1.4 150 1,0 3.3,-1.9zM28.2,-0.9a1.9,1.4 150 1,0 -3.3,1.9a1.9,1.4 150 1,0 3.3,-1.9zM28.2,30.1a1.9,1.4 150 1,0 -3.3,1.9a1.9,1.4 150 1,0 3.3,-1.9zM2.9,-0.9a1.9,1.1 117 1,0 -1.7,3.3a1.9,1.1 117 1,0 1.7,-3.3zM2.9,30.1a1.9,1.1 117 1,0 -1.7,3.3a1.9,1.1 117 1,0 1.7,-3.3zM31.9,-0.9a1.9,1.1 117 1,0 -1.7,3.3a1.9,1.1 117 1,0 1.7,-3.3zM31.9,30.1a1.9,1.1 117 1,0 -1.7,3.3a1.9,1.1 117 1,0 1.7,-3.3zM16.5,12.7a2.1,1.4 0 1,0 4.3,0.1a2.1,1.4 0 1,0 -4.3,-0.1zM21,-1.2a1.8,1.2 10 1,0 3.6,0.7a1.8,1.2 10 1,0 -3.6,-0.7zM21,29.8a1.8,1.2 10 1,0 3.6,0.7a1.8,1.2 10 1,0 -3.6,-0.7zM19.7,-3.3a2.1,1.5 37 1,0 3.3,2.6a2.1,1.5 37 1,0 -3.3,-2.6zM19.7,27.7a2.1,1.5 37 1,0 3.3,2.6a2.1,1.5 37 1,0 -3.3,-2.6z" fill="#8e1a24" opacity="0.45"/><path d="M-1.1,2.5a0.5,0.4 25 1,0 1,0.5a0.5,0.4 25 1,0 -1,-0.5zM27.9,2.5a0.5,0.4 25 1,0 1,0.5a0.5,0.4 25 1,0 -1,-0.5zM0.7,1.9a0.7,0.4 79 1,0 0.3,1.4a0.7,0.4 79 1,0 -0.3,-1.4zM29.7,1.9a0.7,0.4 79 1,0 0.3,1.4a0.7,0.4 79 1,0 -0.3,-1.4zM26.4,1.5a0.6,0.4 28 1,0 1,0.6a0.6,0.4 28 1,0 -1,-0.6zM15.5,18.9a0.7,0.4 161 1,0 -1.4,0.5a0.7,0.4 161 1,0 1.4,-0.5zM15.4,18.9a0.7,0.4 97 1,0 -0.2,1.3a0.7,0.4 97 1,0 0.2,-1.3zM4.6,15a0.5,0.3 76 1,0 0.3,1a0.5,0.3 76 1,0 -0.3,-1zM3.8,16.4a0.6,0.5 36 1,0 1,0.8a0.6,0.5 36 1,0 -1,-0.8zM5.1,15.8a0.5,0.3 137 1,0 -0.7,0.6a0.5,0.3 137 1,0 0.7,-0.6zM2.3,19.3a0.6,0.4 133 1,0 -0.8,0.8a0.6,0.4 133 1,0 0.8,-0.8zM23,4a0.8,0.5 43 1,0 1.1,1.1a0.8,0.5 43 1,0 -1.1,-1.1zM19.6,26.6a0.4,0.3 26 1,0 0.8,0.4a0.4,0.3 26 1,0 -0.8,-0.4zM20,27.5a0.5,0.4 7 1,0 1.1,0.1a0.5,0.4 7 1,0 -1.1,-0.1zM15.3,3.9a0.7,0.6 54 1,0 0.9,1.2a0.7,0.6 54 1,0 -0.9,-1.2zM16,3.8a0.5,0.3 16 1,0 0.9,0.3a0.5,0.3 16 1,0 -0.9,-0.3zM15.2,3.7a0.7,0.5 34 1,0 1.1,0.8a0.7,0.5 34 1,0 -1.1,-0.8zM2.2,21.8a0.7,0.4 41 1,0 1,0.9a0.7,0.4 41 1,0 -1,-0.9zM3.8,22.6a0.5,0.4 122 1,0 -0.6,0.9a0.5,0.4 122 1,0 0.6,-0.9zM5.9,15.1a0.7,0.5 65 1,0 0.6,1.3a0.7,0.5 65 1,0 -0.6,-1.3zM7.9,15.5a0.6,0.5 174 1,0 -1.2,0.1a0.6,0.5 174 1,0 1.2,-0.1zM7,14.8a0.8,0.6 10 1,0 1.6,0.3a0.8,0.6 10 1,0 -1.6,-0.3zM21.7,13.1a0.7,0.4 109 1,0 -0.5,1.3a0.7,0.4 109 1,0 0.5,-1.3zM2.4,22.8a0.4,0.3 37 1,0 0.6,0.5a0.4,0.3 37 1,0 -0.6,-0.5zM1.7,23.7a0.5,0.3 25 1,0 0.9,0.4a0.5,0.3 25 1,0 -0.9,-0.4zM3.1,2.8a0.6,0.4 93 1,0 -0.1,1.2a0.6,0.4 93 1,0 0.1,-1.2zM2.9,5.3a0.8,0.6 4 1,0 1.6,0.1a0.8,0.6 4 1,0 -1.6,-0.1zM2.9,4.1a0.5,0.4 141 1,0 -0.8,0.6a0.5,0.4 141 1,0 0.8,-0.6zM23.4,-0.3a0.7,0.5 76 1,0 0.3,1.3a0.7,0.5 76 1,0 -0.3,-1.3zM23.4,30.7a0.7,0.5 76 1,0 0.3,1.3a0.7,0.5 76 1,0 -0.3,-1.3zM5.9,26.3a0.7,0.5 84 1,0 0.1,1.4a0.7,0.5 84 1,0 -0.1,-1.4zM8,26.1a0.8,0.5 144 1,0 -1.2,0.9a0.8,0.5 144 1,0 1.2,-0.9zM6.2,24.8a0.8,0.6 55 1,0 0.9,1.3a0.8,0.6 55 1,0 -0.9,-1.3zM13.5,15.9a0.7,0.5 28 1,0 1.3,0.7a0.7,0.5 28 1,0 -1.3,-0.7zM14,17.8a0.7,0.4 0 1,0 1.4,0a0.7,0.4 0 1,0 -1.4,-0zM13.8,17.2a0.8,0.5 31 1,0 1.3,0.8a0.8,0.5 31 1,0 -1.3,-0.8zM6.4,25.7a0.6,0.4 22 1,0 1.1,0.5a0.6,0.4 22 1,0 -1.1,-0.5zM6.7,25.4a0.4,0.3 53 1,0 0.5,0.7a0.4,0.3 53 1,0 -0.5,-0.7zM6.3,24.7a0.5,0.3 54 1,0 0.5,0.8a0.5,0.3 54 1,0 -0.5,-0.8zM26.3,-0.6a0.5,0.4 156 1,0 -0.9,0.4a0.5,0.4 156 1,0 0.9,-0.4zM26.3,30.4a0.5,0.4 156 1,0 -0.9,0.4a0.5,0.4 156 1,0 0.9,-0.4zM6.7,19.1a0.8,0.5 19 1,0 1.5,0.5a0.8,0.5 19 1,0 -1.5,-0.5zM6,16.4a0.6,0.3 71 1,0 0.4,1.1a0.6,0.3 71 1,0 -0.4,-1.1zM6.6,18.9a0.7,0.5 92 1,0 -0.1,1.4a0.7,0.5 92 1,0 0.1,-1.4zM4,25a0.7,0.4 103 1,0 -0.3,1.3a0.7,0.4 103 1,0 0.3,-1.3zM3.6,23.9a0.8,0.5 141 1,0 -1.2,1a0.8,0.5 141 1,0 1.2,-1zM1.9,23.3a0.6,0.4 52 1,0 0.8,1a0.6,0.4 52 1,0 -0.8,-1zM12.8,16.2a0.4,0.3 166 1,0 -0.8,0.2a0.4,0.3 166 1,0 0.8,-0.2zM11.1,17.1a0.7,0.4 11 1,0 1.4,0.3a0.7,0.4 11 1,0 -1.4,-0.3zM0.5,12a0.5,0.3 55 1,0 0.5,0.8a0.5,0.3 55 1,0 -0.5,-0.8zM29.5,12a0.5,0.3 55 1,0 0.5,0.8a0.5,0.3 55 1,0 -0.5,-0.8zM1.2,14.3a0.5,0.3 177 1,0 -1,0a0.5,0.3 177 1,0 1,-0zM30.2,14.3a0.5,0.3 177 1,0 -1,0a0.5,0.3 177 1,0 1,-0zM0,14.7a0.7,0.4 9 1,0 1.3,0.2a0.7,0.4 9 1,0 -1.3,-0.2zM29,14.7a0.7,0.4 9 1,0 1.3,0.2a0.7,0.4 9 1,0 -1.3,-0.2zM13.8,26a0.4,0.3 133 1,0 -0.6,0.7a0.4,0.3 133 1,0 0.6,-0.7zM7.1,27a0.7,0.5 38 1,0 1.1,0.9a0.7,0.5 38 1,0 -1.1,-0.9zM13.1,2.5a0.6,0.4 75 1,0 0.3,1.2a0.6,0.4 75 1,0 -0.3,-1.2zM15.1,-1.5a0.8,0.6 103 1,0 -0.4,1.5a0.8,0.6 103 1,0 0.4,-1.5zM15.1,29.5a0.8,0.6 103 1,0 -0.4,1.5a0.8,0.6 103 1,0 0.4,-1.5zM16.5,-0.3a0.7,0.5 106 1,0 -0.4,1.4a0.7,0.5 106 1,0 0.4,-1.4zM16.5,30.7a0.7,0.5 106 1,0 -0.4,1.4a0.7,0.5 106 1,0 0.4,-1.4zM5.4,24.3a0.4,0.3 40 1,0 0.6,0.5a0.4,0.3 40 1,0 -0.6,-0.5zM12.4,9.9a0.7,0.4 40 1,0 1,0.9a0.7,0.4 40 1,0 -1,-0.9zM13.8,10.1a0.7,0.5 123 1,0 -0.8,1.2a0.7,0.5 123 1,0 0.8,-1.2zM15.3,11.4a0.7,0.4 176 1,0 -1.3,0.1a0.7,0.4 176 1,0 1.3,-0.1zM15.1,6.5a0.7,0.4 87 1,0 0.1,1.4a0.7,0.4 87 1,0 -0.1,-1.4zM16.8,8.8a0.7,0.5 100 1,0 -0.3,1.4a0.7,0.5 100 1,0 0.3,-1.4zM27.8,27.3a0.5,0.3 144 1,0 -0.8,0.5a0.5,0.3 144 1,0 0.8,-0.5zM-1.3,27.1a0.4,0.3 67 1,0 0.3,0.8a0.4,0.3 67 1,0 -0.3,-0.8zM27.7,27.1a0.4,0.3 67 1,0 0.3,0.8a0.4,0.3 67 1,0 -0.3,-0.8zM2.7,4.2a0.4,0.3 147 1,0 -0.7,0.5a0.4,0.3 147 1,0 0.7,-0.5zM0.6,3.4a0.7,0.5 23 1,0 1.3,0.6a0.7,0.5 23 1,0 -1.3,-0.6zM29.6,3.4a0.7,0.5 23 1,0 1.3,0.6a0.7,0.5 23 1,0 -1.3,-0.6zM3.6,2.7a0.8,0.5 101 1,0 -0.3,1.5a0.8,0.5 101 1,0 0.3,-1.5zM23.3,2.5a0.7,0.4 39 1,0 1.1,0.9a0.7,0.4 39 1,0 -1.1,-0.9zM9.7,18.7a0.4,0.3 179 1,0 -0.9,0a0.4,0.3 179 1,0 0.9,-0zM6.7,18.9a0.4,0.3 17 1,0 0.8,0.2a0.4,0.3 17 1,0 -0.8,-0.2zM8.8,19.7a0.8,0.5 77 1,0 0.3,1.5a0.8,0.5 77 1,0 -0.3,-1.5zM-0.3,7.8a0.5,0.3 93 1,0 -0.1,1.1a0.5,0.3 93 1,0 0.1,-1.1zM28.7,7.8a0.5,0.3 93 1,0 -0.1,1.1a0.5,0.3 93 1,0 0.1,-1.1zM-0.1,6.6a0.4,0.3 166 1,0 -0.8,0.2a0.4,0.3 166 1,0 0.8,-0.2zM28.9,6.6a0.4,0.3 166 1,0 -0.8,0.2a0.4,0.3 166 1,0 0.8,-0.2zM0.7,8.5a0.7,0.4 118 1,0 -0.6,1.2a0.7,0.4 118 1,0 0.6,-1.2zM29.7,8.5a0.7,0.4 118 1,0 -0.6,1.2a0.7,0.4 118 1,0 0.6,-1.2zM22.7,1.6a0.6,0.4 93 1,0 -0.1,1.1a0.6,0.4 93 1,0 0.1,-1.1zM21.8,0.3a0.7,0.4 90 1,0 -0,1.4a0.7,0.4 90 1,0 0,-1.4zM21.8,31.3a0.7,0.4 90 1,0 -0,1.4a0.7,0.4 90 1,0 0,-1.4zM19.3,1.8a0.6,0.4 22 1,0 1.2,0.5a0.6,0.4 22 1,0 -1.2,-0.5zM27.4,23.8a0.6,0.3 167 1,0 -1.1,0.2a0.6,0.3 167 1,0 1.1,-0.2zM5.9,16.8a0.5,0.3 16 1,0 0.9,0.3a0.5,0.3 16 1,0 -0.9,-0.3zM5.1,17.4a0.7,0.5 34 1,0 1.2,0.9a0.7,0.5 34 1,0 -1.2,-0.9zM4.6,15.9a0.4,0.3 11 1,0 0.8,0.2a0.4,0.3 11 1,0 -0.8,-0.2zM17.7,9a0.7,0.5 80 1,0 0.2,1.4a0.7,0.5 80 1,0 -0.2,-1.4zM17.3,8a0.7,0.4 84 1,0 0.1,1.5a0.7,0.4 84 1,0 -0.1,-1.5zM18.5,10.4a0.8,0.5 138 1,0 -1.2,1a0.8,0.5 138 1,0 1.2,-1zM9.9,5.1a0.5,0.3 144 1,0 -0.7,0.5a0.5,0.3 144 1,0 0.7,-0.5zM10.7,3.7a0.7,0.5 27 1,0 1.2,0.6a0.7,0.5 27 1,0 -1.2,-0.6zM8.6,2.8a0.5,0.4 61 1,0 0.5,0.8a0.5,0.4 61 1,0 -0.5,-0.8zM25.3,22.6a0.6,0.5 103 1,0 -0.3,1.2a0.6,0.5 103 1,0 0.3,-1.2zM26.1,23.1a0.5,0.3 62 1,0 0.5,0.9a0.5,0.3 62 1,0 -0.5,-0.9zM25.4,23.2a0.8,0.5 110 1,0 -0.5,1.4a0.8,0.5 110 1,0 0.5,-1.4zM24.8,24.5a0.5,0.4 52 1,0 0.7,0.9a0.5,0.4 52 1,0 -0.7,-0.9zM22.4,24.2a0.6,0.3 10 1,0 1.1,0.2a0.6,0.3 10 1,0 -1.1,-0.2zM18,9.7a0.6,0.4 16 1,0 1.2,0.3a0.6,0.4 16 1,0 -1.2,-0.3zM17.3,9.5a0.4,0.3 51 1,0 0.5,0.6a0.4,0.3 51 1,0 -0.5,-0.6zM11.6,8.4a0.7,0.5 120 1,0 -0.7,1.2a0.7,0.5 120 1,0 0.7,-1.2zM6.6,11.8a0.8,0.5 12 1,0 1.5,0.3a0.8,0.5 12 1,0 -1.5,-0.3zM9.6,15.3a0.5,0.3 52 1,0 0.6,0.7a0.5,0.3 52 1,0 -0.6,-0.7zM9.3,13.6a0.5,0.4 42 1,0 0.8,0.7a0.5,0.4 42 1,0 -0.8,-0.7zM26.6,3.4a0.7,0.5 177 1,0 -1.4,0.1a0.7,0.5 177 1,0 1.4,-0.1zM26.5,2.9a0.7,0.4 145 1,0 -1.1,0.7a0.7,0.4 145 1,0 1.1,-0.7zM25.8,3.8a0.6,0.4 110 1,0 -0.4,1.1a0.6,0.4 110 1,0 0.4,-1.1zM26.6,0.6a0.6,0.4 152 1,0 -1.1,0.6a0.6,0.4 152 1,0 1.1,-0.6zM26.6,31.6a0.6,0.4 152 1,0 -1.1,0.6a0.6,0.4 152 1,0 1.1,-0.6zM25.8,0.2a0.7,0.5 72 1,0 0.4,1.3a0.7,0.5 72 1,0 -0.4,-1.3zM25.8,31.2a0.7,0.5 72 1,0 0.4,1.3a0.7,0.5 72 1,0 -0.4,-1.3zM27.3,-0.9a0.4,0.3 101 1,0 -0.2,0.9a0.4,0.3 101 1,0 0.2,-0.9zM27.3,30.1a0.4,0.3 101 1,0 -0.2,0.9a0.4,0.3 101 1,0 0.2,-0.9zM12.7,19.8a0.6,0.4 169 1,0 -1.2,0.2a0.6,0.4 169 1,0 1.2,-0.2zM13.1,20.8a0.4,0.3 51 1,0 0.6,0.7a0.4,0.3 51 1,0 -0.6,-0.7zM11.8,20.4a0.6,0.4 100 1,0 -0.2,1.1a0.6,0.4 100 1,0 0.2,-1.1zM0.1,6.9a0.5,0.3 66 1,0 0.4,1a0.5,0.3 66 1,0 -0.4,-1zM29.1,6.9a0.5,0.3 66 1,0 0.4,1a0.5,0.3 66 1,0 -0.4,-1zM0.9,6.5a0.6,0.3 23 1,0 1,0.4a0.6,0.3 23 1,0 -1,-0.4zM29.9,6.5a0.6,0.3 23 1,0 1,0.4a0.6,0.3 23 1,0 -1,-0.4zM23.2,25a0.7,0.4 168 1,0 -1.4,0.3a0.7,0.4 168 1,0 1.4,-0.3zM22.9,22.2a0.8,0.5 67 1,0 0.6,1.4a0.8,0.5 67 1,0 -0.6,-1.4zM22.4,24a0.6,0.3 120 1,0 -0.6,1a0.6,0.3 120 1,0 0.6,-1zM23.8,12.5a0.6,0.5 20 1,0 1.2,0.5a0.6,0.5 20 1,0 -1.2,-0.5zM23.1,22.6a0.5,0.3 145 1,0 -0.8,0.5a0.5,0.3 145 1,0 0.8,-0.5zM24.7,23.1a0.8,0.6 119 1,0 -0.8,1.3a0.8,0.6 119 1,0 0.8,-1.3zM23.5,22.8a0.4,0.3 175 1,0 -0.9,0.1a0.4,0.3 175 1,0 0.9,-0.1zM19.8,20.7a0.6,0.4 143 1,0 -1,0.7a0.6,0.4 143 1,0 1,-0.7zM11.6,3.4a0.6,0.4 139 1,0 -0.9,0.8a0.6,0.4 139 1,0 0.9,-0.8zM12.5,3a0.6,0.3 80 1,0 0.2,1.1a0.6,0.3 80 1,0 -0.2,-1.1zM12.7,22.2a0.5,0.3 20 1,0 1,0.4a0.5,0.3 20 1,0 -1,-0.4zM11.8,19.8a0.7,0.4 171 1,0 -1.4,0.2a0.7,0.4 171 1,0 1.4,-0.2zM12.5,19.2a0.7,0.4 28 1,0 1.3,0.7a0.7,0.4 28 1,0 -1.3,-0.7zM4.5,6.1a0.4,0.3 167 1,0 -0.8,0.2a0.4,0.3 167 1,0 0.8,-0.2zM19.1,13.1a0.4,0.3 131 1,0 -0.6,0.6a0.4,0.3 131 1,0 0.6,-0.6zM19.3,12a0.7,0.5 165 1,0 -1.4,0.4a0.7,0.5 165 1,0 1.4,-0.4zM21.6,8.7a0.6,0.4 54 1,0 0.7,1a0.6,0.4 54 1,0 -0.7,-1zM21.9,6.7a0.7,0.4 76 1,0 0.4,1.4a0.7,0.4 76 1,0 -0.4,-1.4zM14.8,19.6a0.4,0.3 4 1,0 0.8,0.1a0.4,0.3 4 1,0 -0.8,-0.1zM6.5,25.3a0.8,0.5 133 1,0 -1.1,1.1a0.8,0.5 133 1,0 1.1,-1.1zM5.5,23.7a0.6,0.4 24 1,0 1.2,0.5a0.6,0.4 24 1,0 -1.2,-0.5zM4.7,23.5a0.5,0.3 19 1,0 0.9,0.3a0.5,0.3 19 1,0 -0.9,-0.3zM15.7,19.1a0.6,0.4 8 1,0 1.1,0.2a0.6,0.4 8 1,0 -1.1,-0.2z" fill="#32101c" opacity="0.9"/></pattern>
<linearGradient id="gScalp" x1="0" y1="0" x2="1" y2="0"><stop offset="0" stop-color="#c09070"/><stop offset="1" stop-color="#7a4a34"/></linearGradient>
<clipPath id="cHead"><path d="M300,52 L326,52C327,54.2 329.8,60 332,65C334.2,70 336.7,75.2 339.5,82C342.3,88.8 345.6,99 349,106C352.4,113 356.3,118.8 360,124C363.7,129.2 367.2,133.6 371,137.5C374.8,141.4 378,143.9 382.5,147.5C387,151.1 392.6,155.8 398,159C403.4,162.2 409.2,164.7 415,166.5C420.8,168.3 426.8,169.2 433,170C439.2,170.8 446,170.9 452.5,171C459,171.1 465.8,171.1 472,170.5C478.2,169.9 484.8,168.9 490,167.5C495.2,166.1 498.8,164.1 503,162C507.2,159.9 510.8,157.2 515,155C519.2,152.8 523.8,150.8 528,149C532.2,147.2 535.8,145.4 540,144C544.2,142.6 548.5,141.3 553,140.5C557.5,139.7 562.5,139.2 567,139C571.5,138.8 575.7,138.7 580,139C584.3,139.3 588.8,140.2 593,141C597.2,141.8 600.8,142.9 605,144C609.2,145.1 613.8,146.1 618,147.5C622.2,148.9 625.8,150.6 630,152.5C634.2,154.4 638.8,156.5 643,159C647.2,161.5 651.2,164.5 655,167.5C658.8,170.5 662.7,173.7 666,177C669.3,180.3 672.2,184 675,187.5C677.8,191 680.5,194.2 683,198C685.5,201.8 688,205.8 690,210C692,214.2 693.8,218.4 695,223C696.2,227.6 697.1,232.2 697.5,237.5C697.9,242.8 697.9,248.8 697.5,255C697.1,261.2 696.1,269.3 695,275C693.9,280.7 692.2,284.8 691,289C689.8,293.2 688.2,296.2 687.5,300C686.8,303.8 686.6,307.8 686.5,312C686.4,316.2 686.9,322.8 687,325L680,340 L570,300 L512,295 L480,234 L440,220 L330,200Z"/></clipPath>
<clipPath id="cBoneU"><path d="M318,52C319.5,55.8 324.2,67.8 327,75C329.8,82.2 332.9,89.8 335,95C337.1,100.2 337.4,101.3 339.7,106C342,110.7 345.6,117.3 349,123C352.4,128.7 357.2,135.5 360,140C362.8,144.5 363.9,147.1 366,150C368.1,152.9 370,154.3 372.5,157.5C375,160.7 378.1,165.7 381,169C383.9,172.3 386.5,175.3 390,177.5C393.5,179.7 397.8,180.8 402,182C406.2,183.2 409.8,183.9 415,185C420.2,186.1 426.8,187.5 433,188.5C439.2,189.5 447.2,190.3 452.5,191C457.8,191.7 460.8,192.2 465,192.5C469.2,192.8 473.3,193.2 477.5,192.5C481.7,191.8 485.8,190.1 490,188C494.2,185.9 498.8,183.2 502.5,180C506.2,176.8 509.1,172.8 512,169C514.9,165.2 517,160.5 520,157.5C523,154.5 526.7,152.7 530,151C533.3,149.3 535.8,149.1 540,147.5C544.2,145.9 550.5,142.8 555,141.5C559.5,140.2 562.8,140.2 567,140C571.2,139.8 576.5,139.6 580,140C583.5,140.4 585.8,141.3 588,142.5C590.2,143.7 591.2,145.1 593,147C594.8,148.9 596.8,151.3 598.8,153.8C600.8,156.3 602.9,159.5 605,162C607.1,164.5 608.6,167.5 611.4,169C614.2,170.5 618.4,170.5 622,171C625.6,171.5 628.2,170.8 633,171.8C637.8,172.8 645.3,174.7 651,177.2C656.7,179.7 662.4,183.7 667.2,187C672,190.3 676.7,193.5 679.8,197C682.9,200.5 685,206.2 686,208L690,210C690.8,212.2 693.8,218.4 695,223C696.2,227.6 697.1,232.2 697.5,237.5C697.9,242.8 697.9,248.8 697.5,255C697.1,261.2 696.1,269.3 695,275C693.9,280.7 692.2,284.8 691,289C689.8,293.2 688.2,296.2 687.5,300C686.8,303.8 686.6,307.8 686.5,312C686.4,316.2 686.9,322.8 687,325L687,325 L686,340 L681,348 L662,345 L640.8,340 L618,331 L598,322 L584,313.5 L572,304 L570,297 L512,295 L480,234 L440,220.5C435.8,220 422.5,218.5 415,217.5C407.5,216.5 401.2,215.8 395,214.5C388.8,213.2 382.3,211.8 377.5,210C372.7,208.2 369.8,206.5 366,204C362.2,201.5 358.2,198.5 355,195C351.8,191.5 349.2,187 347,183C344.8,179 343.3,175.3 342,171C340.7,166.7 340.2,162.2 339,157C337.8,151.8 336.5,145.8 335,140C333.5,134.2 331.7,127.7 330,122C328.3,116.3 326.7,110.8 325,106C323.3,101.2 322.2,98.2 320,93C317.8,87.8 314.7,81.8 312,75C309.3,68.2 305.1,55.8 303.7,52Z"/></clipPath>
<clipPath id="cFib"><path d="M303.7,52C305.1,55.8 309.3,68.2 312,75C314.7,81.8 317.8,87.8 320,93C322.2,98.2 323.3,101.2 325,106C326.7,110.8 328.3,116.3 330,122C331.7,127.7 333.5,134.2 335,140C336.5,145.8 337.8,151.8 339,157C340.2,162.2 340.7,166.7 342,171C343.3,175.3 344.8,179 347,183C349.2,187 351.8,191.5 355,195C358.2,198.5 362.2,201.5 366,204C369.8,206.5 372.7,208.2 377.5,210C382.3,211.8 388.8,213.2 395,214.5C401.2,215.8 407.5,216.5 415,217.5C422.5,218.5 435.8,220 440,220.5C435.8,220.6 423.3,220.5 415,221C406.7,221.5 396.7,222.8 390,223.5C383.3,224.2 379.2,224.8 375,225C370.8,225.2 366.7,225 365,225C363.3,224.3 358.7,223.2 355,221C351.3,218.8 346.8,215.5 343,212C339.2,208.5 335.7,204.3 332.5,200C329.3,195.7 326.4,190.8 324,186C321.6,181.2 319.7,175.8 318,171C316.3,166.2 315.3,162.2 314,157C312.7,151.8 311.6,145.8 310.4,140C309.2,134.2 308.1,127.7 307,122C305.9,116.3 305.2,113.3 303.7,106C302.2,98.7 299.9,87 298,78C296.1,69 293.4,56.3 292.5,52Z"/></clipPath>
<clipPath id="cMus"><path d="M292.5,52C293.4,56.3 296.1,69 298,78C299.9,87 302.2,98.7 303.7,106C305.2,113.3 305.9,116.3 307,122C308.1,127.7 309.2,134.2 310.4,140C311.6,145.8 312.7,151.8 314,157C315.3,162.2 316.3,166.2 318,171C319.7,175.8 321.6,181.2 324,186C326.4,190.8 329.3,195.7 332.5,200C335.7,204.3 339.2,208.5 343,212C346.8,215.5 351.3,218.8 355,221C358.7,223.2 363.3,224.3 365,225C363.3,225.3 359.2,226.5 355,227C350.8,227.5 345,228.3 340,228C335,227.7 329,226.3 325,225C321,223.7 318.7,222.2 316,220C313.3,217.8 311.2,215.3 309,212C306.8,208.7 304.7,204.3 302.5,200C300.3,195.7 297.8,190.8 296,186C294.2,181.2 292.8,175.8 292,171C291.2,166.2 291.7,162.2 291.5,157C291.3,151.8 291.2,145.8 291,140C290.8,134.2 290.5,127.7 290,122C289.5,116.3 289.7,113.3 288,106C286.3,98.7 282.5,87 280,78C277.5,69 274.2,56.3 273,52Z"/></clipPath>
<clipPath id="cFatU"><path d="M260.8,52C261.4,54 262.8,59.8 264.6,63.9C266.4,68 269.2,72.3 271.5,76.5C273.8,80.7 276.7,85.4 278.5,89C280.3,92.6 281.6,95.7 282.2,97.9C282.8,100.2 282.4,101.7 282.4,102.5C282.1,103 281.3,104.8 280.6,105.2C279.9,105.6 279.3,105.8 278,104.8C276.7,103.8 274.7,101.3 272.8,99.2C270.9,97.1 268.6,93.8 266.5,92C264.4,90.2 262.3,88.9 260.2,88.3C258.1,87.7 255.9,87.5 253.9,88.3C251.9,89.1 249.7,90.7 248.2,92.9C246.7,95.1 245.7,98 245,101.7C244.3,105.4 244.1,109.8 244.2,115C244.3,120.2 244.4,127.8 245.5,133C246.6,138.2 248.9,142 251,146C253.1,150 255.8,153.2 258,157C260.2,160.8 262,164.8 264,169C266,173.2 267.7,176.5 270,182.5C272.3,188.5 275.5,198.3 278,205C280.5,211.7 282.7,217.7 285,222.5C287.3,227.3 289.5,230.7 292,234C294.5,237.3 297.2,240.2 300,242.5C302.8,244.8 305.7,246.8 309,248C312.3,249.2 315.7,250.1 320,250C324.3,249.9 330,248.8 335,247.5C340,246.2 345,244.4 350,242.5C355,240.6 360.4,238 365,236C369.6,234 372.5,232.2 377.5,230.5C382.5,228.8 388.8,227 395,225.5C401.2,224 409.2,222.2 415,221.5C420.8,220.8 424.6,220.6 430,221C435.4,221.4 441.7,222.7 447.5,224C453.3,225.3 459.6,227.3 465,229C470.4,230.7 477.5,233.2 480,234L440,221 L415,221 L390,223.5 L375,225 L365,225C363.3,225.3 359.2,226.5 355,227C350.8,227.5 345,228.3 340,228C335,227.7 329,226.3 325,225C321,223.7 318.7,222.2 316,220C313.3,217.8 311.2,215.3 309,212C306.8,208.7 304.7,204.3 302.5,200C300.3,195.7 297.8,190.8 296,186C294.2,181.2 292.8,175.8 292,171C291.2,166.2 291.7,162.2 291.5,157C291.3,151.8 291.2,145.8 291,140C290.8,134.2 290.5,127.7 290,122C289.5,116.3 289.7,113.3 288,106C286.3,98.7 282.5,87 280,78C277.5,69 274.2,56.3 273,52Z"/></clipPath>
<clipPath id="cCanal"><path d="M285,222.5C286.2,224.4 289.5,230.7 292,234C294.5,237.3 297.2,240.2 300,242.5C302.8,244.8 305.7,246.8 309,248C312.3,249.2 315.7,250.1 320,250C324.3,249.9 330,248.8 335,247.5C340,246.2 345,244.4 350,242.5C355,240.6 360.4,238 365,236C369.6,234 372.5,232.2 377.5,230.5C382.5,228.8 388.8,227 395,225.5C401.2,224 409.2,222.2 415,221.5C420.8,220.8 424.6,220.6 430,221C435.4,221.4 441.7,222.7 447.5,224C453.3,225.3 459.6,227.3 465,229C470.4,230.7 477.5,233.2 480,234L512,295C510,294.2 503.7,291.5 500,290C496.3,288.5 495.8,287.7 490,286C484.2,284.3 473.3,281.7 465,280C456.7,278.3 448.3,277.2 440,276C431.7,274.8 423.3,273.1 415,272.5C406.7,271.9 398.3,271.4 390,272.5C381.7,273.6 371.7,276.5 365,279C358.3,281.5 355,284.8 350,287.5C345,290.2 339,292.6 335,295C331,297.4 328.3,299.3 326,302C323.7,304.7 321.8,309.5 321,311L286,300Z"/></clipPath>
<linearGradient id="gCm" x1="290" y1="0" x2="345" y2="0" gradientUnits="userSpaceOnUse"><stop offset="0" stop-color="#fff" stop-opacity="0"/><stop offset="1" stop-color="#fff" stop-opacity="1"/></linearGradient><mask id="mCanal" maskUnits="userSpaceOnUse" x="280" y="200" width="260" height="120"><rect x="280" y="200" width="260" height="120" fill="url(#gCm)"/></mask>
<clipPath id="cLow"><path d="M440,276C435.8,275.4 423.3,273.1 415,272.5C406.7,271.9 398.3,271.4 390,272.5C381.7,273.6 371.7,276.5 365,279C358.3,281.5 355,284.8 350,287.5C345,290.2 339,292.6 335,295C331,297.4 328.3,299.3 326,302C323.7,304.7 322.1,308 321,311C319.9,314 319.7,316.3 319.5,320C319.3,323.7 319.4,328.8 320,333C320.6,337.2 321.6,341 323,345C324.4,349 326.5,352.8 328.5,357C330.5,361.2 333.2,366 335,370C336.8,374 338.2,377.3 339.5,381C340.8,384.7 341.7,388 342.5,392C343.3,396 343.9,400.8 344.5,405C345.1,409.2 345.2,414 346,417.5C346.8,421 347.4,423.7 349,426C350.6,428.3 352.5,430.4 355.5,431.5C358.5,432.6 363.8,433 367,432.5C370.2,432 373,430.2 375,428.5C377,426.8 378,425.1 379,422.5C380,419.9 380.4,415.8 381,413C381.6,410.2 381.8,407.8 382.5,406C383.2,404.2 384.2,402.8 385,402C385.8,401.2 386.7,400.8 387.5,401C388.3,401.2 389.4,401.8 390,403C390.6,404.2 391.1,404.8 391,408C390.9,411.2 390.2,417.1 389.5,422C388.8,426.9 387,434.9 386.5,437.5L398.5,437.5C398.6,435.8 399,430.8 399,427C399,423.2 398.8,418.7 398.5,415C398.2,411.3 397.8,408.3 397,405C396.2,401.7 394.9,398.7 393.5,395C392.1,391.3 390.4,387.2 388.5,383C386.6,378.8 384.4,374.3 382,370C379.6,365.7 376.8,361.5 374,357C371.2,352.5 367.5,346.8 365,343C362.5,339.2 360.5,337.4 359,334C357.5,330.6 356.5,324.4 356,322.5C356.7,320.9 358.5,315.5 360,313C361.5,310.5 362.3,309.3 365,307.5C367.7,305.7 371.8,303.4 376,302C380.2,300.6 385.2,299.6 390,299C394.8,298.4 400,298.5 405,298.5C410,298.5 417.5,298.9 420,299L440,290Z"/></clipPath>
<linearGradient id="gCart" x1="0" y1="0" x2="0.25" y2="1"><stop offset="0" stop-color="#8a5420"/><stop offset="0.2" stop-color="#bf7c32"/><stop offset="0.5" stop-color="#d89a48"/><stop offset="1" stop-color="#cf9246"/></linearGradient>
<clipPath id="cCart"><path d="M356,322.5C356.7,320.9 358.5,315.5 360,313C361.5,310.5 362.3,309.3 365,307.5C367.7,305.7 371.8,303.4 376,302C380.2,300.6 385.2,299.6 390,299C394.8,298.4 400,298.5 405,298.5C410,298.5 414.8,299.1 420,299C425.2,298.9 430.6,297.3 436,298C441.4,298.7 447.5,301.3 452.5,303C457.5,304.7 461.4,306.5 466,308C470.6,309.5 475.2,310.3 480,312C484.8,313.7 492.5,317 495,318L492,330 L470,345C468.7,345.2 464,345.6 462,346C460,346.4 459,346.4 458,347.5C457,348.6 456.7,350.7 456,352.5C455.3,354.3 455,356.8 454,358.5C453,360.2 451.5,361.8 450,362.5C448.5,363.2 446.7,363.2 445,363C443.3,362.8 441.3,362.3 440,361.5C438.7,360.7 437.8,359.5 437,358C436.2,356.5 435.4,355.5 435,352.5C434.6,349.5 434.6,343.8 434.5,340C434.4,336.2 435.1,332.7 434.5,330C433.9,327.3 432.6,325.7 431,324C429.4,322.3 427.2,321 425,320C422.8,319 420.2,318.1 418,318C415.8,317.9 414,318.3 412,319.5C410,320.7 407.4,323.1 406,325C404.6,326.9 404.3,329.1 403.5,331C402.7,332.9 403.2,335.6 401,336.5C398.8,337.4 394,336.2 390,336.5C386,336.8 381.2,337.2 377,338C372.8,338.8 367,340.5 365,341L364,343.5 L358.5,334 L355.5,322.5Z"/></clipPath>
<clipPath id="cLB"><path d="M405,281C407.5,280.6 414.2,279.1 420,278.5C425.8,277.9 434.2,277.2 440,277.5C445.8,277.8 449.8,278.9 455,280C460.2,281.1 466.3,282.8 471,284C475.7,285.2 479,285.9 483,287C487,288.1 490.5,288.8 495,290.5C499.5,292.2 505.1,294.8 510,297C514.9,299.2 520.7,302.6 524.5,304C528.3,305.4 530.4,305 533,305.5C535.6,306 538,306.4 540,307C542,307.6 543.6,308 545,309C546.4,310 547.9,312.3 548.5,313C548.7,314.2 549.5,317.7 549.5,320C549.5,322.3 549.1,324.8 548.5,327C547.9,329.2 547.1,331.1 546,333C544.9,334.9 543.5,337.2 542,338.5C540.5,339.8 538.7,340.7 537,341C535.3,341.3 533.6,340.9 532,340.5C530.4,340.1 528.9,339.6 527.5,338.5C526.1,337.4 524.5,335.6 523.5,334C522.5,332.4 521.8,329.8 521.5,329C519.9,329.2 515.2,329.4 512,330C508.8,330.6 506.2,331.2 502.5,332.5C498.8,333.8 493.9,336.2 490,338C486.1,339.8 482.2,342.1 479,343.5C475.8,344.9 473.3,345.8 471,346.5C468.7,347.2 466.5,347.8 465,347.5C463.5,347.2 462.2,346.1 462,345C461.8,343.9 462,342.6 463.5,341C465,339.4 468.1,337.2 471,335.5C473.9,333.8 477.6,332 481,330.5C484.4,329 489.8,327.2 491.5,326.5L491.5,318C489.4,317.3 483.1,315.3 479,314C474.9,312.7 470.9,311.3 467,310C463.1,308.7 460,307.7 455.5,306C451,304.3 445.1,301.9 440,300C434.9,298.1 429.3,296 425,294.5C420.7,293 416.8,292.2 414,291C411.2,289.8 409.5,288.7 408,287C406.5,285.3 405.5,282 405,281Z"/></clipPath>
<clipPath id="cCav"><path d="M492.5,231C492.6,229.5 493.1,225.5 493,222C492.9,218.5 491.8,213.7 492,210C492.2,206.3 492.7,202.7 494,200C495.3,197.3 497.7,195.3 500,194C502.3,192.7 505.7,191.7 508,192C510.3,192.3 512.5,193.8 514,196C515.5,198.2 516,202 517,205C518,208 518.5,212.2 520,214C521.5,215.8 524.5,217 526,216C527.5,215 528.3,211.5 529,208C529.7,204.5 529.7,199.2 530,195C530.3,190.8 530,185.8 531,182.5C532,179.2 534.1,176.9 536,175C537.9,173.1 540.3,172.7 542.5,171C544.7,169.3 546.9,166.8 549,165C551.1,163.2 551.9,161.7 555,160C558.1,158.3 563.3,155.2 567.5,155C571.7,154.8 576.9,155.7 580,159C583.1,162.3 584.8,168.6 586,175C587.2,181.4 586.8,192.1 587.5,197.5C588.2,202.9 587.9,205.4 590,207.5C592.1,209.6 596.7,210 600,210C603.3,210 607.2,209.2 610,207.5C612.8,205.8 614.5,202.1 617,200C619.5,197.9 621.2,196.2 625,195C628.8,193.8 635,193 640,193C645,193 650,193 655,195C660,197 666.6,200.4 670,205C673.4,209.6 674.5,215.2 675.5,222.5C676.5,229.8 676.3,242.3 676,249C675.7,255.7 674.8,258.2 673.5,262.5C672.2,266.8 670.6,271.2 668.5,275C666.4,278.8 663.8,282.1 661,285C658.2,287.9 655.3,290.5 652,292.5C648.7,294.5 645,296.1 641,297C637,297.9 632.3,298.3 628,298C623.7,297.7 618.8,296.3 615,295C611.2,293.7 607.9,291.7 605,290C602.1,288.3 600.3,286.7 597.5,285C594.7,283.3 590.9,281.2 588,280C585.1,278.8 582.3,277.7 580,277.5C577.7,277.3 575.7,278.2 574,279C572.3,279.8 571.2,280.7 570,282.5C568.8,284.3 567,287.6 567,290C567,292.4 569.5,295.8 570,297L548.5,313C547.9,312.3 546.4,310 545,309C543.6,308 542,307.6 540,307C538,306.4 535.6,306 533,305.5C530.4,305 528.3,305.4 524.5,304C520.7,302.6 514.9,299.2 510,297C505.1,294.8 497.5,291.6 495,290.5L512,295 L500,270 L480,234Z"/></clipPath>
<radialGradient id="gRed" cx="530" cy="283" r="52" gradientUnits="userSpaceOnUse"><stop offset="0" stop-color="#e2221a"/><stop offset="0.55" stop-color="#e42e26"/><stop offset="0.85" stop-color="#e84a3e"/><stop offset="1" stop-color="#ec6a5c"/></radialGradient>
<linearGradient id="gTube" x1="598" y1="372" x2="632" y2="330" gradientUnits="userSpaceOnUse"><stop offset="0" stop-color="#c9525e"/><stop offset="0.3" stop-color="#e3727a"/><stop offset="0.62" stop-color="#e67c80"/><stop offset="0.64" stop-color="#f19c90"/><stop offset="1" stop-color="#ef9288"/></linearGradient>
<linearGradient id="gTubeRed" x1="556" y1="300" x2="606" y2="345" gradientUnits="userSpaceOnUse"><stop offset="0" stop-color="#de2c26" stop-opacity="1"/><stop offset="0.5" stop-color="#de3a34" stop-opacity="0.75"/><stop offset="1" stop-color="#e0504c" stop-opacity="0"/></linearGradient>
<linearGradient id="gCap" x1="660" y1="360" x2="690" y2="395" gradientUnits="userSpaceOnUse"><stop offset="0" stop-color="#eea4a4"/><stop offset="0.45" stop-color="#e88a90"/><stop offset="1" stop-color="#cc5566"/></linearGradient>
<linearGradient id="gMsc" x1="555" y1="330" x2="625" y2="420" gradientUnits="userSpaceOnUse"><stop offset="0" stop-color="#f3c6a2"/><stop offset="0.4" stop-color="#eea47e"/><stop offset="1" stop-color="#de6450"/></linearGradient>
<radialGradient id="gCoch" cx="622" cy="246" r="48" gradientUnits="userSpaceOnUse"><stop offset="0" stop-color="#e2c0c0"/><stop offset="0.55" stop-color="#d2acb0"/><stop offset="0.85" stop-color="#bb98a0"/><stop offset="1" stop-color="#8a7480"/></radialGradient>
<clipPath id="cCoch"><path d="M631,206C637,205.8 642.8,206.8 648,209C653.2,211.2 658.3,214.8 662,219C665.7,223.2 668.2,228.7 670,234C671.8,239.3 672.7,245.3 672.5,251C672.3,256.7 671.1,262.7 669,268C666.9,273.3 663.8,278.8 660,283C656.2,287.2 651,290.8 646,293C641,295.2 635.2,296.5 630,296.5C624.8,296.5 619.7,295.1 615,293C610.3,290.9 605.7,287.8 602,284C598.3,280.2 595,275.3 593,270C591,264.7 590.2,257.7 590,252C589.8,246.3 590.5,241.2 592,236C593.5,230.8 595.7,225.3 599,221C602.3,216.7 606.7,212.5 612,210C617.3,207.5 625,206.2 631,206Z"/></clipPath>
<linearGradient id="gOss" x1="0" y1="0" x2="1" y2="0"><stop offset="0" stop-color="#c27a2c"/><stop offset="0.5" stop-color="#e6a44c"/><stop offset="1" stop-color="#b86f28"/></linearGradient>
<linearGradient id="gEd" x1="478" y1="250" x2="514" y2="275" gradientUnits="userSpaceOnUse"><stop offset="0" stop-color="#d99aa6"/><stop offset="0.45" stop-color="#f1cfd4"/><stop offset="0.8" stop-color="#e9b3bb"/><stop offset="1" stop-color="#cf7f90"/></linearGradient>
</defs>
<rect width="900" height="556" fill="#f3f2ee"/>
<g clip-path="url(#cAur)">
<path d="M263.5,87.5C262,85.9 257.5,81.2 254.5,77.8C251.5,74.4 248.8,70.5 245.5,67C242.2,63.5 238.3,59.7 234.7,57.1C231.1,54.5 228,52.5 224,51.2C220,49.9 215,48.7 210.5,49.4C206,50.1 200.9,52.7 197,55.3C193.1,57.9 189.8,61.2 187,65.2C184.2,69.2 181.8,74.2 180,79.6C178.2,85 177.1,91.6 176.3,97.6C175.5,103.6 175.3,108.8 175.4,115.5C175.5,122.2 176.3,131.4 177,138C177.7,144.6 178.3,148.8 179.5,155C180.7,161.2 182.2,167.5 184,175C185.8,182.5 187.5,191.7 190,200C192.5,208.3 195.7,216.7 199,225C202.3,233.3 207.2,242.5 210,250C212.8,257.5 213.8,262.5 216,270C218.2,277.5 220.2,286.7 223,295C225.8,303.3 228.8,311.7 232.5,320C236.2,328.3 240.4,336.7 245,345C249.6,353.3 255,362.5 260,370C265,377.5 270.4,383.5 275,390C279.6,396.5 283.3,403.6 287.5,409C291.7,414.4 295.9,418 300,422.5C304.1,427 307.8,431.8 312,436C316.2,440.2 320.7,444.3 325,447.5C329.3,450.7 333.8,453.3 338,455C342.2,456.7 346.3,457.6 350,457.5C353.7,457.4 357.1,456.1 360,454.5C362.9,452.9 365.2,450.6 367.5,448C369.8,445.4 372.1,442.7 374,439C375.9,435.3 378.2,428.2 379,426L372,420 L350,400 L340,300 L525,300 L525,215 L300,215 L262,150 L258,100Z" fill="#83523a"/>
<path d="M185,102C185.5,98.7 186,87.7 188,82C190,76.3 193.2,71.7 197,68C200.8,64.3 206.2,61 211,60C215.8,59 221.2,60 226,62C230.8,64 235.7,68.2 240,72C244.3,75.8 250,82.8 252,85" fill="none" stroke="#a87852" stroke-width="13" filter="url(#b2)" stroke-linecap="round"/>
<path d="M194,76C195.5,74.5 199.5,69 203,67C206.5,65 211,63.7 215,64C219,64.3 225,68.2 227,69" fill="none" stroke="#bd9066" stroke-width="6" filter="url(#b2)" stroke-linecap="round"/>
<path d="M186,110C186.3,116.7 186.3,135 188,150C189.7,165 192.3,184.2 196,200C199.7,215.8 205,230 210,245C215,260 220,275 226,290C232,305 238.7,320.8 246,335C253.3,349.2 261.7,362.8 270,375C278.3,387.2 291.7,402.5 296,408" fill="none" stroke="#9c6c49" stroke-width="9" filter="url(#b2)" stroke-linecap="round"/>
<path d="M196,190C198,197 203.7,217.8 208,232C212.3,246.2 217,261.7 222,275C227,288.3 235.3,305.8 238,312" fill="none" stroke="#b08058" stroke-width="4" filter="url(#b2)" stroke-linecap="round"/>
<path d="M200,88C196.2,90.3 191.3,93.3 189,98C186.7,102.7 186,109.3 186,116C186,122.7 187,130.7 189,138C191,145.3 194.5,152.2 198,160C201.5,167.8 205.3,177.5 210,185C214.7,192.5 220.3,198.8 226,205C231.7,211.2 238,216.8 244,222C250,227.2 257.3,235 262,236C266.7,237 271.3,233.2 272,228C272.7,222.8 268.7,213 266,205C263.3,197 258.7,188.3 256,180C253.3,171.7 251.5,163.3 250,155C248.5,146.7 247.7,137.8 247,130C246.3,122.2 247.5,114 246,108C244.5,102 241.3,97.7 238,94C234.7,90.3 230.3,87.7 226,86C221.7,84.3 216.3,83.7 212,84C207.7,84.3 203.8,85.7 200,88Z" fill="#633c32" filter="url(#b4)"/>
<path d="M238,82C239.3,84.3 244.3,90.3 246,96C247.7,101.7 247.7,112.7 248,116" fill="none" stroke="#5c372c" stroke-width="7" filter="url(#b2)" stroke-linecap="round" opacity="0.8"/>
<path d="M190,99C191.8,96.3 195.7,95 199,95C202.3,95 206.8,96.8 210,99C213.2,101.2 215.7,104.2 218,108C220.3,111.8 223.2,117.7 224,122C224.8,126.3 224.5,132.5 223,134C221.5,135.5 217.5,132.5 215,131C212.5,129.5 210,125.5 208,125C206,124.5 203.5,125.8 203,128C202.5,130.2 205.8,137 205,138C204.2,139 200.2,136.3 198,134C195.8,131.7 193.7,127.8 192,124C190.3,120.2 188.3,115.2 188,111C187.7,106.8 188.2,101.7 190,99Z" fill="#3d2325" filter="url(#b1)"/>
<path d="M214,128C213.3,129.3 220,134 222,138C224,142 224,146.7 226,152C228,157.3 230.7,163.3 234,170C237.3,176.7 242,185 246,192C250,199 254.7,206.7 258,212C261.3,217.3 264,223.3 266,224C268,224.7 271,220.7 270,216C269,211.3 263.3,203 260,196C256.7,189 252.8,181 250,174C247.2,167 245.3,159.7 243,154C240.7,148.3 238.8,144 236,140C233.2,136 229.7,132 226,130C222.3,128 214.7,126.7 214,128Z" fill="#472a28" filter="url(#b2)"/>
<path d="M198,128C198.7,133.3 200,148.8 202,160C204,171.2 207,183.3 210,195C213,206.7 216.5,218.8 220,230C223.5,241.2 229.2,256.7 231,262" fill="none" stroke="#553229" stroke-width="12" filter="url(#b4)" stroke-linecap="round"/>
<path d="M229,138C231,136 237.3,142.3 241,148C244.7,153.7 247.5,163.7 251,172C254.5,180.3 258.3,189.3 262,198C265.7,206.7 271.3,216.3 273,224C274.7,231.7 274.3,241.3 272,244C269.7,246.7 263.2,244.7 259,240C254.8,235.3 250.7,225 247,216C243.3,207 240,195.3 237,186C234,176.7 230.3,168 229,160C227.7,152 227,140 229,138Z" fill="#482928" filter="url(#b2)"/>
<path d="M211,142C212,145.3 214.7,153.7 217,162C219.3,170.3 222.3,182 225,192C227.7,202 230,211.3 233,222C236,232.7 239.3,245.7 243,256C246.7,266.3 253,279.3 255,284" fill="none" stroke="#a47655" stroke-width="9" filter="url(#b2)" stroke-linecap="round"/>
<path d="M219,170C220.3,175 224.3,190.3 227,200C229.7,209.7 232,218 235,228C238,238 243.3,254.7 245,260" fill="none" stroke="#b98c66" stroke-width="3.5" filter="url(#b2)" stroke-linecap="round"/>
<path d="M236,262C241.7,257.3 251.3,258.2 262,262C272.7,265.8 290,278.7 300,285C310,291.3 319,290.8 322,300C325,309.2 316.7,325.8 318,340C319.3,354.2 326,370 330,385C334,400 342,419.8 342,430C342,440.2 337,447.7 330,446C323,444.3 310,431 300,420C290,409 279,394.2 270,380C261,365.8 253,350 246,335C239,320 229.7,302.2 228,290C226.3,277.8 230.3,266.7 236,262Z" fill="#94644a" filter="url(#b7)"/>
<path d="M262,226C264.7,227.7 268,238.7 272,244C276,249.3 280.7,254.3 286,258C291.3,261.7 297.5,264.7 304,266C310.5,267.3 318.2,267.3 325,266C331.8,264.7 340.5,257.7 345,258C349.5,258.3 353.2,264.3 352,268C350.8,271.7 343.7,277 338,280C332.3,283 324.7,285.7 318,286C311.3,286.3 304.3,284.7 298,282C291.7,279.3 285.7,275.3 280,270C274.3,264.7 268,256 264,250C260,244 256.3,238 256,234C255.7,230 259.3,224.3 262,226Z" fill="#39222a" filter="url(#b4)"/>
<path d="M268,236C270.3,236.3 278,248 284,252C290,256 297.7,259 304,260C310.3,261 319.7,256.7 322,258C324.3,259.3 321.7,265.7 318,268C314.3,270.3 306,272.7 300,272C294,271.3 287,267.7 282,264C277,260.3 272.3,254.7 270,250C267.7,245.3 265.7,235.7 268,236Z" fill="#2e1c24" filter="url(#b2)"/>
<path d="M322,280C325.8,278.7 337,274.3 345,272C353,269.7 361.7,267.3 370,266C378.3,264.7 390.8,264.3 395,264" fill="none" stroke="#8b5b40" stroke-width="9" filter="url(#b4)" stroke-linecap="round"/>
<path d="M248,280C250,276.2 259.3,279.3 266,281C272.7,282.7 281.7,286.2 288,290C294.3,293.8 300,298.3 304,304C308,309.7 312,318.3 312,324C312,329.7 308.3,336.3 304,338C299.7,339.7 292,336.7 286,334C280,331.3 273.3,327 268,322C262.7,317 257.3,311 254,304C250.7,297 246,283.8 248,280Z" fill="#c49b74" filter="url(#b4)"/>
<path d="M260,292C260.8,288.7 270.8,292.7 276,295C281.2,297.3 287.5,301.7 291,306C294.5,310.3 297.8,318 297,321C296.2,324 290.3,325 286,324C281.7,323 275.3,320.3 271,315C266.7,309.7 259.2,295.3 260,292Z" fill="#dcba92" filter="url(#b2)"/>
<path d="M308,296C308.7,299.7 310.3,310 312,318C313.7,326 315.3,335 318,344C320.7,353 326.3,367.3 328,372" fill="none" stroke="#623a2c" stroke-width="8" filter="url(#b4)" stroke-linecap="round"/>
<path d="M296,392C299,391.7 306.7,398 312,402C317.3,406 323.3,410.7 328,416C332.7,421.3 339,429.3 340,434C341,438.7 337.7,443.7 334,444C330.3,444.3 323,440 318,436C313,432 308,425.3 304,420C300,414.7 295.3,408.7 294,404C292.7,399.3 293,392.3 296,392Z" fill="#bd9068" filter="url(#b4)"/>
<path d="M278,356C281,356.7 287.7,366 292,372C296.3,378 302.7,387.3 304,392C305.3,396.7 303,400.7 300,400C297,399.3 290.3,393.3 286,388C281.7,382.7 275.3,373.3 274,368C272.7,362.7 275,355.3 278,356Z" fill="#a87c58" filter="url(#b4)"/>
<path d="M312,352C313.3,355.3 317,365.3 320,372C323,378.7 327,385.3 330,392C333,398.7 336.7,408.7 338,412" fill="none" stroke="#684030" stroke-width="9" filter="url(#b4)" stroke-linecap="round"/>
<path d="M300,424C304.2,427.8 316.7,441.7 325,447C333.3,452.3 342.8,456.2 350,456C357.2,455.8 363.3,450.7 368,446C372.7,441.3 376.3,431 378,428" fill="none" stroke="#5e3828" stroke-width="5" filter="url(#b2)" stroke-linecap="round"/>
</g>
<path d="M263.5,87.5C262,85.9 257.5,81.2 254.5,77.8C251.5,74.4 248.8,70.5 245.5,67C242.2,63.5 238.3,59.7 234.7,57.1C231.1,54.5 228,52.5 224,51.2C220,49.9 215,48.7 210.5,49.4C206,50.1 200.9,52.7 197,55.3C193.1,57.9 189.8,61.2 187,65.2C184.2,69.2 181.8,74.2 180,79.6C178.2,85 177.1,91.6 176.3,97.6C175.5,103.6 175.3,108.8 175.4,115.5C175.5,122.2 176.3,131.4 177,138C177.7,144.6 178.3,148.8 179.5,155C180.7,161.2 182.2,167.5 184,175C185.8,182.5 187.5,191.7 190,200C192.5,208.3 195.7,216.7 199,225C202.3,233.3 207.2,242.5 210,250C212.8,257.5 213.8,262.5 216,270C218.2,277.5 220.2,286.7 223,295C225.8,303.3 228.8,311.7 232.5,320C236.2,328.3 240.4,336.7 245,345C249.6,353.3 255,362.5 260,370C265,377.5 270.4,383.5 275,390C279.6,396.5 283.3,403.6 287.5,409C291.7,414.4 295.9,418 300,422.5C304.1,427 307.8,431.8 312,436C316.2,440.2 320.7,444.3 325,447.5C329.3,450.7 333.8,453.3 338,455C342.2,456.7 346.3,457.6 350,457.5C353.7,457.4 357.1,456.1 360,454.5C362.9,452.9 365.2,450.6 367.5,448C369.8,445.4 372.1,442.7 374,439C375.9,435.3 378.2,428.2 379,426" fill="none" stroke="#3a2018" stroke-width="0.9"/>
<path d="M583,220C583.7,216.7 593,215.2 600,212C607,208.8 617,204.8 625,201C633,197.2 641.2,193 648,189C654.8,185 660.7,180.4 666,177C671.3,173.6 676.8,170.1 680,168.5C683.2,166.9 683.7,167.2 685,167.5C686.3,167.8 687.6,168.9 688,170C688.4,171.1 687,173.2 687.5,174C688,174.8 689.9,173.8 691,174.5C692.1,175.2 693.8,176.6 694,178C694.2,179.4 693.8,181.2 692.5,183C691.2,184.8 689.1,186.3 686,188.5C682.9,190.7 679.2,193.2 674,196C668.8,198.8 662.3,201.8 655,205C647.7,208.2 637.5,211.8 630,215C622.5,218.2 615.7,221.2 610,224C604.3,226.8 600.5,232.7 596,232C591.5,231.3 582.3,223.3 583,220Z" fill="#c6aa80" stroke="#6e5a3a" stroke-width="0.7"/>
<path d="M590,219C593.7,217.2 603.7,212 612,208C620.3,204 631,199.7 640,195C649,190.3 658,184.2 666,180C674,175.8 684.3,171.2 688,169.5" fill="none" stroke="#86704a" stroke-width="0.6"/>
<path d="M590,221.8C593.7,219.9 603.7,214.6 612,210.5C620.3,206.4 631,202 640,197.2C649,192.5 658,186.4 666,182.1C674,177.8 684.3,173.3 688,171.5" fill="none" stroke="#86704a" stroke-width="0.6"/>
<path d="M590,224.5C593.7,222.6 603.7,217.2 612,213C620.3,208.8 631,204.3 640,199.5C649,194.7 658,188.6 666,184.2C674,179.9 684.3,175.3 688,173.5" fill="none" stroke="#86704a" stroke-width="0.6"/>
<path d="M590,227.2C593.7,225.3 603.7,219.8 612,215.5C620.3,211.2 631,206.6 640,201.8C649,196.9 658,190.8 666,186.4C674,182 684.3,177.3 688,175.5" fill="none" stroke="#86704a" stroke-width="0.6"/>
<path d="M590,230C593.7,228 603.7,222.3 612,218C620.3,213.7 631,208.9 640,204C649,199.1 658,192.9 666,188.5C674,184.1 684.3,179.3 688,177.5" fill="none" stroke="#86704a" stroke-width="0.6"/>
<path d="M590,232.8C593.7,230.7 603.7,224.9 612,220.5C620.3,216.1 631,211.2 640,206.2C649,201.3 658,195.1 666,190.6C674,186.2 684.3,181.4 688,179.5" fill="none" stroke="#86704a" stroke-width="0.6"/>
<path d="M300,52 L326,52C327,54.2 329.8,60 332,65C334.2,70 336.7,75.2 339.5,82C342.3,88.8 345.6,99 349,106C352.4,113 356.3,118.8 360,124C363.7,129.2 367.2,133.6 371,137.5C374.8,141.4 378,143.9 382.5,147.5C387,151.1 392.6,155.8 398,159C403.4,162.2 409.2,164.7 415,166.5C420.8,168.3 426.8,169.2 433,170C439.2,170.8 446,170.9 452.5,171C459,171.1 465.8,171.1 472,170.5C478.2,169.9 484.8,168.9 490,167.5C495.2,166.1 498.8,164.1 503,162C507.2,159.9 510.8,157.2 515,155C519.2,152.8 523.8,150.8 528,149C532.2,147.2 535.8,145.4 540,144C544.2,142.6 548.5,141.3 553,140.5C557.5,139.7 562.5,139.2 567,139C571.5,138.8 575.7,138.7 580,139C584.3,139.3 588.8,140.2 593,141C597.2,141.8 600.8,142.9 605,144C609.2,145.1 613.8,146.1 618,147.5C622.2,148.9 625.8,150.6 630,152.5C634.2,154.4 638.8,156.5 643,159C647.2,161.5 651.2,164.5 655,167.5C658.8,170.5 662.7,173.7 666,177C669.3,180.3 672.2,184 675,187.5C677.8,191 680.5,194.2 683,198C685.5,201.8 688,205.8 690,210C692,214.2 693.8,218.4 695,223C696.2,227.6 697.1,232.2 697.5,237.5C697.9,242.8 697.9,248.8 697.5,255C697.1,261.2 696.1,269.3 695,275C693.9,280.7 692.2,284.8 691,289C689.8,293.2 688.2,296.2 687.5,300C686.8,303.8 686.6,307.8 686.5,312C686.4,316.2 686.9,322.8 687,325L680,340 L570,300 L512,295 L480,234 L440,220 L330,200Z" fill="#94634a"/>
<g clip-path="url(#cHead)">
<path d="M326,52C327,54.2 329.8,60 332,65C334.2,70 336.7,75.2 339.5,82C342.3,88.8 345.6,99 349,106C352.4,113 356.3,118.8 360,124C363.7,129.2 367.2,133.6 371,137.5C374.8,141.4 378,143.9 382.5,147.5C387,151.1 392.6,155.8 398,159C403.4,162.2 409.2,164.7 415,166.5C420.8,168.3 426.8,169.2 433,170C439.2,170.8 446,170.9 452.5,171C459,171.1 465.8,171.1 472,170.5C478.2,169.9 484.8,168.9 490,167.5C495.2,166.1 498.8,164.1 503,162C507.2,159.9 510.8,157.2 515,155C519.2,152.8 523.8,150.8 528,149C532.2,147.2 535.8,145.4 540,144C544.2,142.6 548.5,141.3 553,140.5C557.5,139.7 562.5,139.2 567,139C571.5,138.8 575.7,138.7 580,139C584.3,139.3 588.8,140.2 593,141C597.2,141.8 600.8,142.9 605,144C609.2,145.1 613.8,146.1 618,147.5C622.2,148.9 625.8,150.6 630,152.5C634.2,154.4 638.8,156.5 643,159C647.2,161.5 651.2,164.5 655,167.5C658.8,170.5 662.7,173.7 666,177C669.3,180.3 672.2,184 675,187.5C677.8,191 680.5,194.2 683,198C685.5,201.8 688,205.8 690,210C692,214.2 693.8,218.4 695,223C696.2,227.6 697.1,232.2 697.5,237.5C697.9,242.8 697.9,248.8 697.5,255C697.1,261.2 696.1,269.3 695,275C693.9,280.7 692.2,284.8 691,289C689.8,293.2 688.2,296.2 687.5,300C686.8,303.8 686.6,307.8 686.5,312C686.4,316.2 686.9,322.8 687,325" fill="none" stroke="#5e3626" stroke-width="5" filter="url(#b2)"/>
<path d="M349,123C350.8,125.8 357.2,135.5 360,140C362.8,144.5 363.9,147.1 366,150C368.1,152.9 370,154.3 372.5,157.5C375,160.7 378.1,165.7 381,169C383.9,172.3 386.5,175.3 390,177.5C393.5,179.7 397.8,180.8 402,182C406.2,183.2 409.8,183.9 415,185C420.2,186.1 426.8,187.5 433,188.5C439.2,189.5 447.2,190.3 452.5,191C457.8,191.7 460.8,192.2 465,192.5C469.2,192.8 473.3,193.2 477.5,192.5C481.7,191.8 485.8,190.1 490,188C494.2,185.9 498.8,183.2 502.5,180C506.2,176.8 509.1,172.8 512,169C514.9,165.2 517,160.5 520,157.5C523,154.5 526.7,152.7 530,151C533.3,149.3 535.8,149.1 540,147.5C544.2,145.9 550.5,142.8 555,141.5C559.5,140.2 562.8,140.2 567,140C571.2,139.8 576.5,139.6 580,140C583.5,140.4 585.8,141.3 588,142.5C590.2,143.7 591.2,145.1 593,147C594.8,148.9 596.8,151.3 598.8,153.8C600.8,156.3 602.9,159.5 605,162C607.1,164.5 608.6,167.5 611.4,169C614.2,170.5 618.4,170.5 622,171C625.6,171.5 628.2,170.8 633,171.8C637.8,172.8 645.3,174.7 651,177.2C656.7,179.7 662.4,183.7 667.2,187C672,190.3 676.7,193.5 679.8,197C682.9,200.5 685,206.2 686,208" fill="none" stroke="#caa284" stroke-width="12" filter="url(#b2)"/>
<path d="M318,52C319.5,55.8 324.2,67.8 327,75C329.8,82.2 332.9,89.8 335,95C337.1,100.2 337.4,101.3 339.7,106C342,110.7 345.6,117.3 349,123C352.4,128.7 357.2,135.5 360,140C362.8,144.5 363.9,147.1 366,150C368.1,152.9 370,154.3 372.5,157.5C375,160.7 378.1,165.7 381,169C383.9,172.3 386.5,175.3 390,177.5C393.5,179.7 397.8,180.8 402,182C406.2,183.2 409.8,183.9 415,185C420.2,186.1 426.8,187.5 433,188.5C439.2,189.5 447.2,190.3 452.5,191C457.8,191.7 460.8,192.2 465,192.5C469.2,192.8 473.3,193.2 477.5,192.5C481.7,191.8 485.8,190.1 490,188C494.2,185.9 498.8,183.2 502.5,180C506.2,176.8 509.1,172.8 512,169C514.9,165.2 517,160.5 520,157.5C523,154.5 526.7,152.7 530,151C533.3,149.3 535.8,149.1 540,147.5C544.2,145.9 550.5,142.8 555,141.5C559.5,140.2 562.8,140.2 567,140C571.2,139.8 576.5,139.6 580,140C583.5,140.4 585.8,141.3 588,142.5C590.2,143.7 591.2,145.1 593,147C594.8,148.9 596.8,151.3 598.8,153.8C600.8,156.3 602.9,159.5 605,162C607.1,164.5 608.6,167.5 611.4,169C614.2,170.5 618.4,170.5 622,171C625.6,171.5 628.2,170.8 633,171.8C637.8,172.8 645.3,174.7 651,177.2C656.7,179.7 662.4,183.7 667.2,187C672,190.3 676.7,193.5 679.8,197C682.9,200.5 685,206.2 686,208" fill="none" stroke="#7a4c34" stroke-width="3" filter="url(#b1)" opacity="0.8"/>
<path d="M368,140C370.8,143 378,152.7 385,158C392,163.3 400.8,168.7 410,172C419.2,175.3 430,176.7 440,178C450,179.3 460.8,180.8 470,180C479.2,179.2 488.3,176.3 495,173C501.7,169.7 507.5,162.2 510,160" fill="none" stroke="#e0bc9e" stroke-width="6" filter="url(#b2)"/>
<path d="M598,150C600,152.2 604.7,160 610,163C615.3,166 623.3,166.2 630,168C636.7,169.8 643.7,171 650,174C656.3,177 665,184 668,186" fill="none" stroke="#e2bca2" stroke-width="9" filter="url(#b2)"/>
</g>
<path d="M318,52C319.5,55.8 324.2,67.8 327,75C329.8,82.2 332.9,89.8 335,95C337.1,100.2 337.4,101.3 339.7,106C342,110.7 345.6,117.3 349,123C352.4,128.7 357.2,135.5 360,140C362.8,144.5 363.9,147.1 366,150C368.1,152.9 370,154.3 372.5,157.5C375,160.7 378.1,165.7 381,169C383.9,172.3 386.5,175.3 390,177.5C393.5,179.7 397.8,180.8 402,182C406.2,183.2 409.8,183.9 415,185C420.2,186.1 426.8,187.5 433,188.5C439.2,189.5 447.2,190.3 452.5,191C457.8,191.7 460.8,192.2 465,192.5C469.2,192.8 473.3,193.2 477.5,192.5C481.7,191.8 485.8,190.1 490,188C494.2,185.9 498.8,183.2 502.5,180C506.2,176.8 509.1,172.8 512,169C514.9,165.2 517,160.5 520,157.5C523,154.5 526.7,152.7 530,151C533.3,149.3 535.8,149.1 540,147.5C544.2,145.9 550.5,142.8 555,141.5C559.5,140.2 562.8,140.2 567,140C571.2,139.8 576.5,139.6 580,140C583.5,140.4 585.8,141.3 588,142.5C590.2,143.7 591.2,145.1 593,147C594.8,148.9 596.8,151.3 598.8,153.8C600.8,156.3 602.9,159.5 605,162C607.1,164.5 608.6,167.5 611.4,169C614.2,170.5 618.4,170.5 622,171C625.6,171.5 628.2,170.8 633,171.8C637.8,172.8 645.3,174.7 651,177.2C656.7,179.7 662.4,183.7 667.2,187C672,190.3 676.7,193.5 679.8,197C682.9,200.5 685,206.2 686,208L690,210C690.8,212.2 693.8,218.4 695,223C696.2,227.6 697.1,232.2 697.5,237.5C697.9,242.8 697.9,248.8 697.5,255C697.1,261.2 696.1,269.3 695,275C693.9,280.7 692.2,284.8 691,289C689.8,293.2 688.2,296.2 687.5,300C686.8,303.8 686.6,307.8 686.5,312C686.4,316.2 686.9,322.8 687,325L687,325 L686,340 L681,348 L662,345 L640.8,340 L618,331 L598,322 L584,313.5 L572,304 L570,297 L512,295 L480,234 L440,220.5C435.8,220 422.5,218.5 415,217.5C407.5,216.5 401.2,215.8 395,214.5C388.8,213.2 382.3,211.8 377.5,210C372.7,208.2 369.8,206.5 366,204C362.2,201.5 358.2,198.5 355,195C351.8,191.5 349.2,187 347,183C344.8,179 343.3,175.3 342,171C340.7,166.7 340.2,162.2 339,157C337.8,151.8 336.5,145.8 335,140C333.5,134.2 331.7,127.7 330,122C328.3,116.3 326.7,110.8 325,106C323.3,101.2 322.2,98.2 320,93C317.8,87.8 314.7,81.8 312,75C309.3,68.2 305.1,55.8 303.7,52Z" fill="url(#pBone)"/>
<g clip-path="url(#cBoneU)">
<path d="M318,52C319.5,55.8 324.2,67.8 327,75C329.8,82.2 332.9,89.8 335,95C337.1,100.2 337.4,101.3 339.7,106C342,110.7 345.6,117.3 349,123C352.4,128.7 357.2,135.5 360,140C362.8,144.5 363.9,147.1 366,150C368.1,152.9 370,154.3 372.5,157.5C375,160.7 378.1,165.7 381,169C383.9,172.3 386.5,175.3 390,177.5C393.5,179.7 397.8,180.8 402,182C406.2,183.2 409.8,183.9 415,185C420.2,186.1 426.8,187.5 433,188.5C439.2,189.5 447.2,190.3 452.5,191C457.8,191.7 460.8,192.2 465,192.5C469.2,192.8 473.3,193.2 477.5,192.5C481.7,191.8 485.8,190.1 490,188C494.2,185.9 498.8,183.2 502.5,180C506.2,176.8 509.1,172.8 512,169C514.9,165.2 517,160.5 520,157.5C523,154.5 526.7,152.7 530,151C533.3,149.3 535.8,149.1 540,147.5C544.2,145.9 550.5,142.8 555,141.5C559.5,140.2 562.8,140.2 567,140C571.2,139.8 576.5,139.6 580,140C583.5,140.4 585.8,141.3 588,142.5C590.2,143.7 591.2,145.1 593,147C594.8,148.9 596.8,151.3 598.8,153.8C600.8,156.3 602.9,159.5 605,162C607.1,164.5 608.6,167.5 611.4,169C614.2,170.5 618.4,170.5 622,171C625.6,171.5 628.2,170.8 633,171.8C637.8,172.8 645.3,174.7 651,177.2C656.7,179.7 662.4,183.7 667.2,187C672,190.3 676.7,193.5 679.8,197C682.9,200.5 685,206.2 686,208L690,210C690.8,212.2 693.8,218.4 695,223C696.2,227.6 697.1,232.2 697.5,237.5C697.9,242.8 697.9,248.8 697.5,255C697.1,261.2 696.1,269.3 695,275C693.9,280.7 692.2,284.8 691,289C689.8,293.2 688.2,296.2 687.5,300C686.8,303.8 686.6,307.8 686.5,312C686.4,316.2 686.9,322.8 687,325L687,325 L686,340 L681,348 L662,345 L640.8,340 L618,331 L598,322 L584,313.5 L572,304 L570,297 L512,295 L480,234 L440,220.5C435.8,220 422.5,218.5 415,217.5C407.5,216.5 401.2,215.8 395,214.5C388.8,213.2 382.3,211.8 377.5,210C372.7,208.2 369.8,206.5 366,204C362.2,201.5 358.2,198.5 355,195C351.8,191.5 349.2,187 347,183C344.8,179 343.3,175.3 342,171C340.7,166.7 340.2,162.2 339,157C337.8,151.8 336.5,145.8 335,140C333.5,134.2 331.7,127.7 330,122C328.3,116.3 326.7,110.8 325,106C323.3,101.2 322.2,98.2 320,93C317.8,87.8 314.7,81.8 312,75C309.3,68.2 305.1,55.8 303.7,52Z" fill="none" stroke="#8a5a22" stroke-width="3" filter="url(#b1)" opacity="0.8"/>
</g>
<path d="M303.7,52C305.1,55.8 309.3,68.2 312,75C314.7,81.8 317.8,87.8 320,93C322.2,98.2 323.3,101.2 325,106C326.7,110.8 328.3,116.3 330,122C331.7,127.7 333.5,134.2 335,140C336.5,145.8 337.8,151.8 339,157C340.2,162.2 340.7,166.7 342,171C343.3,175.3 344.8,179 347,183C349.2,187 351.8,191.5 355,195C358.2,198.5 362.2,201.5 366,204C369.8,206.5 372.7,208.2 377.5,210C382.3,211.8 388.8,213.2 395,214.5C401.2,215.8 407.5,216.5 415,217.5C422.5,218.5 435.8,220 440,220.5C435.8,220.6 423.3,220.5 415,221C406.7,221.5 396.7,222.8 390,223.5C383.3,224.2 379.2,224.8 375,225C370.8,225.2 366.7,225 365,225C363.3,224.3 358.7,223.2 355,221C351.3,218.8 346.8,215.5 343,212C339.2,208.5 335.7,204.3 332.5,200C329.3,195.7 326.4,190.8 324,186C321.6,181.2 319.7,175.8 318,171C316.3,166.2 315.3,162.2 314,157C312.7,151.8 311.6,145.8 310.4,140C309.2,134.2 308.1,127.7 307,122C305.9,116.3 305.2,113.3 303.7,106C302.2,98.7 299.9,87 298,78C296.1,69 293.4,56.3 292.5,52Z" fill="#e32624"/>
<g clip-path="url(#cFib)" fill="none">
<path d="M293.3,52C294,55.4 296.3,65.5 297.8,72.2C299.2,78.9 300.7,85.7 302.2,92.4C303.6,99.1 305.1,105.9 306.6,112.6C308,119.4 309.3,126.1 310.7,132.9C312.1,139.7 313.3,146.5 314.9,153.2C316.6,159.8 318.3,166.6 320.7,173C323.1,179.4 325.8,185.9 329.3,191.7C332.8,197.6 336.9,203.4 341.7,208.3C346.5,213.1 352,218.2 358,220.7C364.1,223.2 371.3,223.1 378,223.4C384.8,223.7 391.8,222.8 398.7,222.5C405.6,222.2 412.5,221.8 419.3,221.5C426.2,221.2 436.6,220.7 440,220.5" fill="none" stroke="#f56a5c" stroke-width="0.9" opacity="0.85"/>
<path d="M294.1,52C294.9,55.3 297.2,65.3 298.7,72C300.2,78.7 301.8,85.3 303.3,92C304.9,98.6 306.5,105.3 307.9,112C309.4,118.7 310.8,125.4 312.2,132.1C313.6,138.8 314.8,145.5 316.5,152.1C318.1,158.8 319.8,165.5 322.1,171.9C324.5,178.3 327.1,184.7 330.5,190.5C333.9,196.4 337.9,202.2 342.6,207C347.3,211.9 352.7,216.9 358.7,219.5C364.7,222 371.8,222.1 378.5,222.5C385.3,222.9 392.2,222.2 399,222C405.8,221.7 412.7,221.5 419.5,221.3C426.3,221 436.6,220.6 440,220.5" fill="none" stroke="#bd1a1a" stroke-width="0.9" opacity="0.85"/>
<path d="M294.9,52C295.7,55.3 298.1,65.2 299.7,71.8C301.3,78.4 302.9,85 304.5,91.6C306.1,98.1 307.8,104.7 309.3,111.3C310.8,117.9 312.2,124.6 313.7,131.2C315.1,137.9 316.4,144.6 318,151.1C319.7,157.7 321.3,164.4 323.6,170.8C325.8,177.1 328.3,183.5 331.6,189.4C335,195.2 338.8,201 343.5,205.8C348.1,210.6 353.5,215.6 359.5,218.2C365.4,220.9 372.4,221.1 379.1,221.6C385.7,222.1 392.6,221.5 399.3,221.4C406.1,221.3 412.9,221.2 419.7,221C426.4,220.8 436.6,220.6 440,220.5" fill="none" stroke="#f56a5c" stroke-width="0.9" opacity="0.85"/>
<path d="M295.7,52C296.5,55.3 298.9,65.1 300.6,71.6C302.3,78.1 304,84.6 305.7,91.1C307.3,97.6 309.1,104.1 310.7,110.7C312.2,117.2 313.7,123.8 315.2,130.4C316.6,137 317.9,143.6 319.6,150.1C321.2,156.7 322.8,163.3 325,169.6C327.2,176 329.5,182.3 332.8,188.2C336,194 339.8,199.8 344.4,204.6C348.9,209.4 354.3,214.3 360.2,217C366,219.7 373,220 379.6,220.7C386.1,221.3 392.9,220.9 399.7,220.9C406.4,220.9 413.1,220.8 419.8,220.8C426.5,220.7 436.6,220.5 440,220.5" fill="none" stroke="#bd1a1a" stroke-width="0.9" opacity="0.85"/>
<path d="M296.5,52C297.3,55.2 299.8,65 301.5,71.4C303.3,77.9 305.1,84.3 306.8,90.7C308.6,97.1 310.4,103.6 312,110C313.7,116.5 315.1,123 316.6,129.6C318.2,136.1 319.5,142.6 321.1,149.1C322.7,155.6 324.3,162.2 326.4,168.5C328.5,174.8 330.8,181.2 333.9,187C337.1,192.8 340.8,198.6 345.3,203.4C349.8,208.2 355.1,213 360.9,215.8C366.7,218.5 373.5,219 380.1,219.8C386.6,220.6 393.3,220.3 400,220.4C406.6,220.5 413.3,220.5 420,220.5C426.6,220.5 436.7,220.5 440,220.5" fill="none" stroke="#f56a5c" stroke-width="0.9" opacity="0.85"/>
<path d="M297.3,52C298.2,55.2 300.7,64.8 302.5,71.2C304.3,77.6 306.2,83.9 308,90.3C309.8,96.6 311.7,103 313.4,109.4C315.1,115.8 316.6,122.3 318.1,128.7C319.7,135.2 321,141.7 322.7,148.1C324.3,154.6 325.8,161.1 327.8,167.4C329.9,173.6 332,180 335.1,185.8C338.1,191.6 341.7,197.4 346.2,202.2C350.6,207 355.9,211.8 361.6,214.5C367.4,217.3 374.1,218 380.6,218.9C387,219.8 393.7,219.6 400.3,219.9C406.9,220.1 413.5,220.2 420.1,220.3C426.8,220.4 436.7,220.5 440,220.5" fill="none" stroke="#bd1a1a" stroke-width="0.9" opacity="0.85"/>
<path d="M298.1,52C299,55.2 301.6,64.7 303.4,71C305.3,77.3 307.3,83.6 309.1,89.9C311,96.1 313,102.4 314.8,108.7C316.5,115.1 318,121.5 319.6,127.9C321.2,134.3 322.6,140.7 324.2,147.1C325.8,153.5 327.3,160 329.3,166.2C331.3,172.5 333.2,178.8 336.2,184.6C339.2,190.4 342.7,196.2 347.1,201C351.4,205.8 356.7,210.5 362.3,213.3C368,216.2 374.7,217 381.1,218C387.4,219 394.1,219 400.6,219.3C407.2,219.7 413.7,219.8 420.3,220C426.9,220.2 436.7,220.4 440,220.5" fill="none" stroke="#f56a5c" stroke-width="0.9" opacity="0.85"/>
<path d="M298.9,52C299.8,55.1 302.5,64.6 304.4,70.8C306.3,77 308.4,83.2 310.3,89.4C312.3,95.6 314.3,101.8 316.1,108.1C317.9,114.4 319.5,120.7 321.1,127.1C322.7,133.4 324.2,139.8 325.8,146.1C327.4,152.5 328.8,158.9 330.7,165.1C332.6,171.3 334.5,177.6 337.3,183.4C340.2,189.2 343.7,195 348,199.8C352.3,204.6 357.5,209.2 363.1,212.1C368.7,215 375.3,216 381.6,217.1C387.9,218.3 394.5,218.4 400.9,218.8C407.4,219.3 413.9,219.5 420.5,219.8C427,220 436.7,220.4 440,220.5" fill="none" stroke="#bd1a1a" stroke-width="0.9" opacity="0.85"/>
<path d="M299.7,52C300.6,55.1 303.4,64.4 305.3,70.6C307.3,76.8 309.4,82.9 311.5,89C313.5,95.1 315.6,101.2 317.5,107.4C319.3,113.6 320.9,119.9 322.6,126.2C324.2,132.5 325.7,138.8 327.3,145.1C328.9,151.4 330.3,157.8 332.1,164C334,170.2 335.7,176.5 338.5,182.2C341.3,188 344.7,193.8 348.9,198.6C353.1,203.4 358.2,207.9 363.8,210.9C369.3,213.8 375.8,215 382.1,216.3C388.3,217.5 394.8,217.8 401.3,218.3C407.7,218.8 414.2,219.1 420.6,219.5C427.1,219.9 436.8,220.3 440,220.5" fill="none" stroke="#f56a5c" stroke-width="0.9" opacity="0.85"/>
<path d="M300.5,52C301.5,55.1 304.3,64.3 306.3,70.4C308.3,76.5 310.5,82.5 312.6,88.6C314.7,94.6 316.9,100.7 318.9,106.8C320.8,112.9 322.4,119.2 324.1,125.4C325.7,131.6 327.3,137.9 328.8,144.1C330.4,150.3 331.8,156.7 333.6,162.8C335.4,169 336.9,175.3 339.6,181.1C342.3,186.8 345.6,192.6 349.8,197.4C353.9,202.1 359,206.6 364.5,209.6C370,212.6 376.4,214 382.6,215.4C388.7,216.7 395.2,217.1 401.6,217.8C408,218.4 414.4,218.8 420.8,219.3C427.2,219.7 436.8,220.3 440,220.5" fill="none" stroke="#bd1a1a" stroke-width="0.9" opacity="0.85"/>
<path d="M301.3,52C302.3,55 305.1,64.2 307.2,70.2C309.3,76.2 311.6,82.2 313.8,88.1C316,94.1 318.3,100.1 320.2,106.2C322.2,112.2 323.9,118.4 325.6,124.5C327.3,130.7 328.8,136.9 330.4,143.1C332,149.3 333.3,155.6 335,161.7C336.7,167.8 338.2,174.1 340.8,179.9C343.4,185.6 346.6,191.4 350.7,196.2C354.7,200.9 359.8,205.4 365.2,208.4C370.6,211.5 377,213 383.1,214.5C389.2,216 395.6,216.5 401.9,217.2C408.2,218 414.6,218.5 420.9,219C427.3,219.6 436.8,220.3 440,220.5" fill="none" stroke="#f56a5c" stroke-width="0.9" opacity="0.85"/>
<path d="M302.1,52C303.1,55 306,64.1 308.2,70C310.3,76 312.7,81.8 315,87.7C317.2,93.6 319.6,99.5 321.6,105.5C323.6,111.5 325.3,117.6 327,123.7C328.8,129.8 330.4,136 331.9,142.1C333.5,148.2 334.8,154.5 336.4,160.6C338.1,166.7 339.4,172.9 341.9,178.7C344.4,184.4 347.6,190.2 351.6,195C355.6,199.7 360.6,204.1 365.9,207.2C371.3,210.3 377.5,212 383.6,213.6C389.6,215.2 396,215.9 402.2,216.7C408.5,217.6 414.8,218.1 421.1,218.8C427.4,219.4 436.8,220.2 440,220.5" fill="none" stroke="#bd1a1a" stroke-width="0.9" opacity="0.85"/>
<path d="M302.9,52C303.9,55 306.9,63.9 309.1,69.8C311.3,75.7 313.8,81.5 316.1,87.3C318.4,93.1 320.9,98.9 322.9,104.9C325,110.8 326.8,116.8 328.5,122.9C330.3,128.9 331.9,135 333.5,141.1C335,147.2 336.3,153.4 337.9,159.4C339.5,165.5 340.6,171.8 343.1,177.5C345.5,183.2 348.5,189 352.5,193.8C356.4,198.5 361.4,202.8 366.7,205.9C371.9,209.1 378.1,211 384.1,212.7C390.1,214.4 396.4,215.2 402.5,216.2C408.7,217.2 415,217.8 421.3,218.5C427.5,219.2 436.9,220.2 440,220.5" fill="none" stroke="#f56a5c" stroke-width="0.9" opacity="0.85"/>
</g>
<path d="M292.5,52C293.4,56.3 296.1,69 298,78C299.9,87 302.2,98.7 303.7,106C305.2,113.3 305.9,116.3 307,122C308.1,127.7 309.2,134.2 310.4,140C311.6,145.8 312.7,151.8 314,157C315.3,162.2 316.3,166.2 318,171C319.7,175.8 321.6,181.2 324,186C326.4,190.8 329.3,195.7 332.5,200C335.7,204.3 339.2,208.5 343,212C346.8,215.5 351.3,218.8 355,221C358.7,223.2 363.3,224.3 365,225C363.3,225.3 359.2,226.5 355,227C350.8,227.5 345,228.3 340,228C335,227.7 329,226.3 325,225C321,223.7 318.7,222.2 316,220C313.3,217.8 311.2,215.3 309,212C306.8,208.7 304.7,204.3 302.5,200C300.3,195.7 297.8,190.8 296,186C294.2,181.2 292.8,175.8 292,171C291.2,166.2 291.7,162.2 291.5,157C291.3,151.8 291.2,145.8 291,140C290.8,134.2 290.5,127.7 290,122C289.5,116.3 289.7,113.3 288,106C286.3,98.7 282.5,87 280,78C277.5,69 274.2,56.3 273,52Z" fill="url(#pMus)"/>
<g clip-path="url(#cMus)">
</g>
<path d="M260.8,52C261.4,54 262.8,59.8 264.6,63.9C266.4,68 269.2,72.3 271.5,76.5C273.8,80.7 276.7,85.4 278.5,89C280.3,92.6 281.6,95.7 282.2,97.9C282.8,100.2 282.4,101.7 282.4,102.5C282.1,103 281.3,104.8 280.6,105.2C279.9,105.6 279.3,105.8 278,104.8C276.7,103.8 274.7,101.3 272.8,99.2C270.9,97.1 268.6,93.8 266.5,92C264.4,90.2 262.3,88.9 260.2,88.3C258.1,87.7 255.9,87.5 253.9,88.3C251.9,89.1 249.7,90.7 248.2,92.9C246.7,95.1 245.7,98 245,101.7C244.3,105.4 244.1,109.8 244.2,115C244.3,120.2 244.4,127.8 245.5,133C246.6,138.2 248.9,142 251,146C253.1,150 255.8,153.2 258,157C260.2,160.8 262,164.8 264,169C266,173.2 267.7,176.5 270,182.5C272.3,188.5 275.5,198.3 278,205C280.5,211.7 282.7,217.7 285,222.5C287.3,227.3 289.5,230.7 292,234C294.5,237.3 297.2,240.2 300,242.5C302.8,244.8 305.7,246.8 309,248C312.3,249.2 315.7,250.1 320,250C324.3,249.9 330,248.8 335,247.5C340,246.2 345,244.4 350,242.5C355,240.6 360.4,238 365,236C369.6,234 372.5,232.2 377.5,230.5C382.5,228.8 388.8,227 395,225.5C401.2,224 409.2,222.2 415,221.5C420.8,220.8 424.6,220.6 430,221C435.4,221.4 441.7,222.7 447.5,224C453.3,225.3 459.6,227.3 465,229C470.4,230.7 477.5,233.2 480,234L440,221 L415,221 L390,223.5 L375,225 L365,225C363.3,225.3 359.2,226.5 355,227C350.8,227.5 345,228.3 340,228C335,227.7 329,226.3 325,225C321,223.7 318.7,222.2 316,220C313.3,217.8 311.2,215.3 309,212C306.8,208.7 304.7,204.3 302.5,200C300.3,195.7 297.8,190.8 296,186C294.2,181.2 292.8,175.8 292,171C291.2,166.2 291.7,162.2 291.5,157C291.3,151.8 291.2,145.8 291,140C290.8,134.2 290.5,127.7 290,122C289.5,116.3 289.7,113.3 288,106C286.3,98.7 282.5,87 280,78C277.5,69 274.2,56.3 273,52Z" fill="url(#pFat)"/>
<g clip-path="url(#cFatU)">
</g>
<path d="M262,120C263,118.7 265,117.3 267,118C269,118.7 271.8,121 274,124C276.2,127 278.3,131.7 280,136C281.7,140.3 283.2,145.5 284,150C284.8,154.5 285.5,159.8 285,163C284.5,166.2 282.5,168.8 281,169C279.5,169.2 277.7,167.2 276,164C274.3,160.8 272.8,154.8 271,150C269.2,145.2 266.7,139 265,135C263.3,131 261.5,128.5 261,126C260.5,123.5 261,121.3 262,120Z" fill="#55843a" stroke="#3a6028" stroke-width="1.1"/>
<path d="M267.1,129.6C267.6,128.9 268.7,128.1 269.8,128.5C270.9,128.9 272.5,130.2 273.7,131.8C274.9,133.5 276.1,136 277,138.4C277.9,140.8 278.7,143.6 279.2,146.1C279.6,148.6 280,151.5 279.7,153.3C279.4,155 278.3,156.5 277.5,156.6C276.7,156.7 275.7,155.6 274.8,153.8C273.9,152.1 273,148.8 272,146.1C271,143.5 269.6,140.1 268.7,137.9C267.8,135.7 266.8,134.3 266.5,132.9C266.2,131.5 266.5,130.3 267.1,129.6Z" fill="#6f9c4c" filter="url(#b1)" opacity="0.8"/>
<path d="M283,177C283.7,175 286.3,175.7 288,177C289.7,178.3 291.5,181.7 293,185C294.5,188.3 296.3,193.5 297,197C297.7,200.5 297.7,204.3 297,206C296.3,207.7 294.5,208 293,207C291.5,206 289.5,203 288,200C286.5,197 284.8,192.8 284,189C283.2,185.2 282.3,179 283,177Z" fill="#55843a" stroke="#3a6028" stroke-width="1.1"/>
<path d="M286.3,183.9C286.7,182.8 288.2,183.1 289.1,183.9C290,184.6 291,186.4 291.8,188.3C292.6,190.1 293.7,192.9 294,194.9C294.4,196.8 294.4,198.9 294,199.8C293.7,200.7 292.6,200.9 291.8,200.4C291,199.8 289.9,198.2 289.1,196.5C288.2,194.9 287.3,192.6 286.9,190.5C286.4,188.4 286,185 286.3,183.9Z" fill="#6f9c4c" filter="url(#b1)" opacity="0.8"/>
<path d="M297,215C297.7,213.3 300.2,213 302,214C303.8,215 306.5,218.2 308,221C309.5,223.8 310.8,228.5 311,231C311.2,233.5 310.3,235.7 309,236C307.7,236.3 304.8,235 303,233C301.2,231 299,227 298,224C297,221 296.3,216.7 297,215Z" fill="#55843a" stroke="#3a6028" stroke-width="1.1"/>
<path d="M300.1,219.4C300.5,218.5 301.9,218.3 302.9,218.9C303.9,219.4 305.4,221.2 306.2,222.7C307,224.3 307.8,226.9 307.9,228.2C307.9,229.6 307.5,230.8 306.8,231C306,231.2 304.5,230.4 303.4,229.3C302.4,228.2 301.2,226 300.7,224.4C300.1,222.7 299.8,220.4 300.1,219.4Z" fill="#6f9c4c" filter="url(#b1)" opacity="0.8"/>
<path d="M325,237C326.8,235.5 332.2,233.7 336,232C339.8,230.3 344.8,227.8 348,227C351.2,226.2 354.2,226.2 355,227C355.8,227.8 355,230.2 353,232C351,233.8 346.7,236.5 343,238C339.3,239.5 334,240.5 331,241C328,241.5 326,241.7 325,241C324,240.3 323.2,238.5 325,237Z" fill="#55843a" stroke="#3a6028" stroke-width="1.1"/>
<path d="M331.5,235.8C332.5,235 335.5,234 337.6,233.1C339.7,232.2 342.4,230.8 344.2,230.3C345.9,229.9 347.6,229.9 348,230.3C348.5,230.8 348,232.1 346.9,233.1C345.8,234.1 343.4,235.5 341.4,236.4C339.4,237.2 336.5,237.7 334.8,238C333.2,238.3 332.1,238.4 331.5,238C331,237.7 330.5,236.6 331.5,235.8Z" fill="#6f9c4c" filter="url(#b1)" opacity="0.8"/>
<path d="M260.8,52C261.4,54 262.8,59.8 264.6,63.9C266.4,68 269.2,72.3 271.5,76.5C273.8,80.7 276.7,85.4 278.5,89C280.3,92.6 281.6,95.7 282.2,97.9C282.8,100.2 282.4,101.7 282.4,102.5C282.1,103 281.3,104.8 280.6,105.2C279.9,105.6 279.3,105.8 278,104.8C276.7,103.8 274.7,101.3 272.8,99.2C270.9,97.1 268.6,93.8 266.5,92C264.4,90.2 262.3,88.9 260.2,88.3C258.1,87.7 255.9,87.5 253.9,88.3C251.9,89.1 249.7,90.7 248.2,92.9C246.7,95.1 245.7,98 245,101.7C244.3,105.4 244.1,109.8 244.2,115C244.3,120.2 244.4,127.8 245.5,133C246.6,138.2 248.9,142 251,146C253.1,150 255.8,153.2 258,157C260.2,160.8 262,164.8 264,169C266,173.2 267.7,176.5 270,182.5C272.3,188.5 275.5,198.3 278,205C280.5,211.7 282.7,217.7 285,222.5C287.3,227.3 289.5,230.7 292,234C294.5,237.3 297.2,240.2 300,242.5C302.8,244.8 305.7,246.8 309,248C312.3,249.2 315.7,250.1 320,250C324.3,249.9 330,248.8 335,247.5C340,246.2 345,244.4 350,242.5C355,240.6 360.4,238 365,236C369.6,234 372.5,232.2 377.5,230.5C382.5,228.8 388.8,227 395,225.5C401.2,224 409.2,222.2 415,221.5C420.8,220.8 424.6,220.6 430,221C435.4,221.4 441.7,222.7 447.5,224C453.3,225.3 459.6,227.3 465,229C470.4,230.7 477.5,233.2 480,234" fill="none" stroke="#a3180f" stroke-width="3.6" stroke-linejoin="round"/>
<path d="M260.8,52C261.4,54 262.8,59.8 264.6,63.9C266.4,68 269.2,72.3 271.5,76.5C273.8,80.7 276.7,85.4 278.5,89C280.3,92.6 281.6,95.7 282.2,97.9C282.8,100.2 282.4,101.7 282.4,102.5C282.1,103 281.3,104.8 280.6,105.2C279.9,105.6 279.3,105.8 278,104.8C276.7,103.8 274.7,101.3 272.8,99.2C270.9,97.1 268.6,93.8 266.5,92C264.4,90.2 262.3,88.9 260.2,88.3C258.1,87.7 255.9,87.5 253.9,88.3C251.9,89.1 249.7,90.7 248.2,92.9C246.7,95.1 245.7,98 245,101.7C244.3,105.4 244.1,109.8 244.2,115C244.3,120.2 244.4,127.8 245.5,133C246.6,138.2 248.9,142 251,146C253.1,150 255.8,153.2 258,157C260.2,160.8 262,164.8 264,169C266,173.2 267.7,176.5 270,182.5C272.3,188.5 275.5,198.3 278,205C280.5,211.7 282.7,217.7 285,222.5C287.3,227.3 289.5,230.7 292,234C294.5,237.3 297.2,240.2 300,242.5C302.8,244.8 305.7,246.8 309,248C312.3,249.2 315.7,250.1 320,250C324.3,249.9 330,248.8 335,247.5C340,246.2 345,244.4 350,242.5C355,240.6 360.4,238 365,236C369.6,234 372.5,232.2 377.5,230.5C382.5,228.8 388.8,227 395,225.5C401.2,224 409.2,222.2 415,221.5C420.8,220.8 424.6,220.6 430,221C435.4,221.4 441.7,222.7 447.5,224C453.3,225.3 459.6,227.3 465,229C470.4,230.7 477.5,233.2 480,234" fill="none" stroke="#f03a34" stroke-width="2.2" stroke-linejoin="round"/>
<g clip-path="url(#cCanal)"><g mask="url(#mCanal)">
<path d="M285,222.5C286.2,224.4 289.5,230.7 292,234C294.5,237.3 297.2,240.2 300,242.5C302.8,244.8 305.7,246.8 309,248C312.3,249.2 315.7,250.1 320,250C324.3,249.9 330,248.8 335,247.5C340,246.2 345,244.4 350,242.5C355,240.6 360.4,238 365,236C369.6,234 372.5,232.2 377.5,230.5C382.5,228.8 388.8,227 395,225.5C401.2,224 409.2,222.2 415,221.5C420.8,220.8 424.6,220.6 430,221C435.4,221.4 441.7,222.7 447.5,224C453.3,225.3 459.6,227.3 465,229C470.4,230.7 477.5,233.2 480,234L512,295C510,294.2 503.7,291.5 500,290C496.3,288.5 495.8,287.7 490,286C484.2,284.3 473.3,281.7 465,280C456.7,278.3 448.3,277.2 440,276C431.7,274.8 423.3,273.1 415,272.5C406.7,271.9 398.3,271.4 390,272.5C381.7,273.6 371.7,276.5 365,279C358.3,281.5 355,284.8 350,287.5C345,290.2 339,292.6 335,295C331,297.4 328.3,299.3 326,302C323.7,304.7 321.8,309.5 321,311L286,300Z" fill="#7a4a35"/>
<path d="M287,229.5C288.2,231.4 291.5,237.7 294,241C296.5,244.3 299.2,247.2 302,249.5C304.8,251.8 307.7,253.8 311,255C314.3,256.2 317.7,257.1 322,257C326.3,256.9 332,255.8 337,254.5C342,253.2 347,251.4 352,249.5C357,247.6 362.4,245 367,243C371.6,241 374.5,239.2 379.5,237.5C384.5,235.8 390.8,234 397,232.5C403.2,231 411.2,229.2 417,228.5C422.8,227.8 426.6,227.6 432,228C437.4,228.4 443.7,229.7 449.5,231C455.3,232.3 461.6,234.3 467,236C472.4,237.7 479.5,240.2 482,241" fill="none" stroke="#2b1b20" stroke-width="13" filter="url(#b2)"/>
<path d="M300,284C305,282 320,276 330,272C340,268 350,263.2 360,260C370,256.8 380,254.7 390,253C400,251.3 410,250.2 420,250C430,249.8 440.3,250.5 450,252C459.7,253.5 473.3,257.8 478,259" fill="none" stroke="#95654a" stroke-width="9" filter="url(#b4)"/>
<path d="M340,272C345,270.2 360,263.7 370,261C380,258.3 390,256.8 400,256C410,255.2 425,256 430,256" fill="none" stroke="#a67858" stroke-width="3" filter="url(#b2)"/>
<path d="M512,291C510,290.2 503.7,287.5 500,286C496.3,284.5 495.8,283.7 490,282C484.2,280.3 473.3,277.7 465,276C456.7,274.3 448.3,273.2 440,272C431.7,270.8 423.3,269.1 415,268.5C406.7,267.9 398.3,267.4 390,268.5C381.7,269.6 371.7,272.5 365,275C358.3,277.5 355,280.8 350,283.5C345,286.2 339,288.6 335,291C331,293.4 328.3,295.3 326,298C323.7,300.7 321.8,305.5 321,307" fill="none" stroke="#4a2a20" stroke-width="6" filter="url(#b2)"/>
<path d="M460,262C462,262.8 467.7,264.8 472,267C476.3,269.2 481.3,272 486,275C490.7,278 497.7,283.3 500,285" fill="none" stroke="#3a2020" stroke-width="9" filter="url(#b4)"/>
</g></g>
<path d="M440,276C435.8,275.4 423.3,273.1 415,272.5C406.7,271.9 398.3,271.4 390,272.5C381.7,273.6 371.7,276.5 365,279C358.3,281.5 355,284.8 350,287.5C345,290.2 339,292.6 335,295C331,297.4 328.3,299.3 326,302C323.7,304.7 322.1,308 321,311C319.9,314 319.7,316.3 319.5,320C319.3,323.7 319.4,328.8 320,333C320.6,337.2 321.6,341 323,345C324.4,349 326.5,352.8 328.5,357C330.5,361.2 333.2,366 335,370C336.8,374 338.2,377.3 339.5,381C340.8,384.7 341.7,388 342.5,392C343.3,396 343.9,400.8 344.5,405C345.1,409.2 345.2,414 346,417.5C346.8,421 347.4,423.7 349,426C350.6,428.3 352.5,430.4 355.5,431.5C358.5,432.6 363.8,433 367,432.5C370.2,432 373,430.2 375,428.5C377,426.8 378,425.1 379,422.5C380,419.9 380.4,415.8 381,413C381.6,410.2 381.8,407.8 382.5,406C383.2,404.2 384.2,402.8 385,402C385.8,401.2 386.7,400.8 387.5,401C388.3,401.2 389.4,401.8 390,403C390.6,404.2 391.1,404.8 391,408C390.9,411.2 390.2,417.1 389.5,422C388.8,426.9 387,434.9 386.5,437.5L398.5,437.5C398.6,435.8 399,430.8 399,427C399,423.2 398.8,418.7 398.5,415C398.2,411.3 397.8,408.3 397,405C396.2,401.7 394.9,398.7 393.5,395C392.1,391.3 390.4,387.2 388.5,383C386.6,378.8 384.4,374.3 382,370C379.6,365.7 376.8,361.5 374,357C371.2,352.5 367.5,346.8 365,343C362.5,339.2 360.5,337.4 359,334C357.5,330.6 356.5,324.4 356,322.5C356.7,320.9 358.5,315.5 360,313C361.5,310.5 362.3,309.3 365,307.5C367.7,305.7 371.8,303.4 376,302C380.2,300.6 385.2,299.6 390,299C394.8,298.4 400,298.5 405,298.5C410,298.5 417.5,298.9 420,299L440,290Z" fill="url(#pFat)"/>
<g clip-path="url(#cLow)">
<path d="M405,283C402.5,283 396.7,281.8 390,283C383.3,284.2 372,287.7 365,290C358,292.3 352.5,294.7 348,297C343.5,299.3 341,301.2 338,304C335,306.8 331.8,310.7 330,314C328.2,317.3 327.3,320 327.5,324C327.7,328 329.1,333.3 331,338C332.9,342.7 336.5,347.7 339,352C341.5,356.3 343.7,360.2 346,364C348.3,367.8 351,371.3 353,375C355,378.7 356.3,382.7 358,386C359.7,389.3 360.7,392.8 363,395C365.3,397.2 369,398.8 372,399C375,399.2 378.8,397.8 381,396C383.2,394.2 384.5,391 385,388C385.5,385 384.2,379.7 384,378C380.7,367.8 376.8,361.5 374,357C371.2,352.5 367.5,346.8 365,343C362.5,339.2 360.5,337.4 359,334C357.5,330.6 356.5,324.4 356,322.5C356.7,320.9 358.5,315.5 360,313C361.5,310.5 362.3,309.3 365,307.5C367.7,305.7 371.8,303.4 376,302C380.2,300.6 385.2,299.6 390,299C394.8,298.4 400,298.5 405,298.5C410,298.5 417.5,298.9 420,299L422,295 L405,283Z" fill="url(#pMus)"/>
<path d="M374.7,401.1a1.4,1.1 0 1,0 2.8,0a1.4,1.1 0 1,0 -2.8,0zM376.3,398a2.4,1.9 0 1,0 4.8,0a2.4,1.9 0 1,0 -4.8,0zM355.6,410.8a1.4,1.2 0 1,0 2.9,0a1.4,1.2 0 1,0 -2.9,0zM382.9,398.2a2.4,1.9 0 1,0 4.7,0a2.4,1.9 0 1,0 -4.7,0zM382.5,399a1.5,1.2 0 1,0 3,0a1.5,1.2 0 1,0 -3,0zM356.2,407.5a2.6,2.1 0 1,0 5.1,0a2.6,2.1 0 1,0 -5.1,0zM380.2,404.8a2.4,1.9 0 1,0 4.8,0a2.4,1.9 0 1,0 -4.8,0zM382.8,399.1a1.3,1.1 0 1,0 2.7,0a1.3,1.1 0 1,0 -2.7,0zM370,405.8a2,1.6 0 1,0 3.9,0a2,1.6 0 1,0 -3.9,0zM359.1,410.2a1.3,1 0 1,0 2.6,0a1.3,1 0 1,0 -2.6,0zM384.1,411.3a2.3,1.8 0 1,0 4.5,0a2.3,1.8 0 1,0 -4.5,0zM388.5,398.9a1.5,1.2 0 1,0 3,0a1.5,1.2 0 1,0 -3,0zM370.7,404.7a2.3,1.8 0 1,0 4.6,0a2.3,1.8 0 1,0 -4.6,0zM368.6,410.5a1.2,1 0 1,0 2.5,0a1.2,1 0 1,0 -2.5,0zM387.3,403.3a1.3,1 0 1,0 2.6,0a1.3,1 0 1,0 -2.6,0zM371.6,403.4a1.3,1.1 0 1,0 2.7,0a1.3,1.1 0 1,0 -2.7,0zM386.7,409.9a2.3,1.8 0 1,0 4.5,0a2.3,1.8 0 1,0 -4.5,0z" fill="#b8282c"/>
<path d="M383.2,393.1a1.5,1.2 0 1,0 3.1,0a1.5,1.2 0 1,0 -3.1,0zM383.7,387.2a1.9,1.5 0 1,0 3.7,0a1.9,1.5 0 1,0 -3.7,0zM361.3,393a1.3,1.1 0 1,0 2.6,0a1.3,1.1 0 1,0 -2.6,0zM361.4,386.3a1.5,1.2 0 1,0 3,0a1.5,1.2 0 1,0 -3,0zM374,396.3a2.2,1.7 0 1,0 4.4,0a2.2,1.7 0 1,0 -4.4,0zM358.1,396.9a1.3,1 0 1,0 2.6,0a1.3,1 0 1,0 -2.6,0zM372.1,385.1a1.7,1.4 0 1,0 3.4,0a1.7,1.4 0 1,0 -3.4,0zM389,387.3a2.6,2.1 0 1,0 5.2,0a2.6,2.1 0 1,0 -5.2,0zM364.4,386.6a2.4,1.9 0 1,0 4.8,0a2.4,1.9 0 1,0 -4.8,0z" fill="#ec9522"/>
</g>
<path d="M325,324C324.2,321.8 323.8,316 324.5,313C325.2,310 327.1,307.9 329,306C330.9,304.1 333.2,302.9 336,301.5C338.8,300.1 342.8,298.6 346,297.5C349.2,296.4 352.3,295.3 355,295C357.7,294.7 360.8,295 362,295.5C363.2,296 363.2,296.8 362.5,298C361.8,299.2 360.4,300.9 357.5,302.5C354.6,304.1 348.2,305.8 345,307.5C341.8,309.2 339.7,311.2 338,313C336.3,314.8 335.9,316.2 335,318C334.1,319.8 333.5,322.7 332.5,324C331.5,325.3 330.2,326 329,326C327.8,326 325.8,326.2 325,324Z" fill="#55843a" stroke="#3a6028" stroke-width="1.1"/>
<path d="M332.3,317.1C331.9,315.9 331.7,312.7 332,311.1C332.4,309.4 333.4,308.3 334.5,307.2C335.6,306.2 336.8,305.5 338.3,304.7C339.9,304 342.1,303.1 343.8,302.5C345.6,301.9 347.3,301.3 348.8,301.2C350.3,301 352,301.2 352.6,301.4C353.3,301.7 353.3,302.2 352.9,302.8C352.5,303.4 351.8,304.4 350.2,305.3C348.6,306.2 345.1,307.1 343.3,308C341.5,309 340.4,310.1 339.4,311.1C338.5,312 338.3,312.8 337.8,313.8C337.3,314.8 337,316.4 336.4,317.1C335.9,317.8 335.2,318.2 334.5,318.2C333.8,318.2 332.7,318.3 332.3,317.1Z" fill="#6f9c4c" filter="url(#b1)" opacity="0.8"/>
<path d="M367.5,292C367.9,290.8 369.4,289.2 371,288.5C372.6,287.8 375.3,287.3 377,287.5C378.7,287.7 380.7,288.4 381,289.5C381.3,290.6 380.3,292.9 379,294C377.7,295.1 374.8,295.8 373,296C371.2,296.2 369.4,296.2 368.5,295.5C367.6,294.8 367.1,293.2 367.5,292Z" fill="#55843a" stroke="#3a6028" stroke-width="1.1"/>
<path d="M370.4,291.9C370.6,291.3 371.4,290.4 372.3,290C373.2,289.6 374.7,289.4 375.6,289.5C376.5,289.6 377.6,290 377.8,290.6C378,291.2 377.4,292.4 376.7,293C376,293.6 374.3,294 373.4,294.1C372.4,294.3 371.4,294.2 370.9,293.9C370.4,293.5 370.1,292.6 370.4,291.9Z" fill="#6f9c4c" filter="url(#b1)" opacity="0.8"/>
<path d="M385,288C385.5,286.9 387.3,285.2 389,284.5C390.7,283.8 393.3,283.7 395,284C396.7,284.3 398.7,285.5 399,286.5C399.3,287.5 398.3,289.2 397,290C395.7,290.8 392.8,291.3 391,291.5C389.2,291.7 387,291.6 386,291C385,290.4 384.5,289.1 385,288Z" fill="#55843a" stroke="#3a6028" stroke-width="1.1"/>
<path d="M388,288C388.3,287.4 389.3,286.4 390.2,286C391.1,285.7 392.6,285.6 393.5,285.8C394.4,286 395.5,286.6 395.7,287.1C395.9,287.7 395.4,288.6 394.6,289.1C393.9,289.5 392.3,289.8 391.3,289.9C390.3,290 389.1,289.9 388.6,289.6C388,289.3 387.7,288.6 388,288Z" fill="#6f9c4c" filter="url(#b1)" opacity="0.8"/>
<path d="M356,322.5C356.7,320.9 358.5,315.5 360,313C361.5,310.5 362.3,309.3 365,307.5C367.7,305.7 371.8,303.4 376,302C380.2,300.6 385.2,299.6 390,299C394.8,298.4 400,298.5 405,298.5C410,298.5 414.8,299.1 420,299C425.2,298.9 430.6,297.3 436,298C441.4,298.7 447.5,301.3 452.5,303C457.5,304.7 461.4,306.5 466,308C470.6,309.5 475.2,310.3 480,312C484.8,313.7 492.5,317 495,318L492,330 L470,345C468.7,345.2 464,345.6 462,346C460,346.4 459,346.4 458,347.5C457,348.6 456.7,350.7 456,352.5C455.3,354.3 455,356.8 454,358.5C453,360.2 451.5,361.8 450,362.5C448.5,363.2 446.7,363.2 445,363C443.3,362.8 441.3,362.3 440,361.5C438.7,360.7 437.8,359.5 437,358C436.2,356.5 435.4,355.5 435,352.5C434.6,349.5 434.6,343.8 434.5,340C434.4,336.2 435.1,332.7 434.5,330C433.9,327.3 432.6,325.7 431,324C429.4,322.3 427.2,321 425,320C422.8,319 420.2,318.1 418,318C415.8,317.9 414,318.3 412,319.5C410,320.7 407.4,323.1 406,325C404.6,326.9 404.3,329.1 403.5,331C402.7,332.9 403.2,335.6 401,336.5C398.8,337.4 394,336.2 390,336.5C386,336.8 381.2,337.2 377,338C372.8,338.8 367,340.5 365,341L364,343.5 L358.5,334 L355.5,322.5Z" fill="url(#gCart)" stroke="#6b3c18" stroke-width="0.8"/>
<g clip-path="url(#cCart)">
<path d="M356,324C356.7,322.5 358.3,317.5 360,315C361.7,312.5 363.2,310.8 366,309C368.8,307.2 373,305.3 377,304C381,302.7 385.3,301.6 390,301C394.7,300.4 400,300.3 405,300.5C410,300.7 414.8,300.9 420,302C425.2,303.1 430.6,305 436,307C441.4,309 447.5,312 452.5,314C457.5,316 461.4,317.5 466,319C470.6,320.5 475.2,322 480,323C484.8,324 492.5,324.7 495,325" fill="none" stroke="#7a4618" stroke-width="7" filter="url(#b2)" opacity="0.85"/>
<path d="M436,332C436.2,334.2 436.3,340.7 437,345C437.7,349.3 439.5,355.8 440,358" fill="none" stroke="#9a6428" stroke-width="4" filter="url(#b1)"/>
</g>
<path d="M405,281C407.5,280.6 414.2,279.1 420,278.5C425.8,277.9 434.2,277.2 440,277.5C445.8,277.8 449.8,278.9 455,280C460.2,281.1 466.3,282.8 471,284C475.7,285.2 479,285.9 483,287C487,288.1 490.5,288.8 495,290.5C499.5,292.2 505.1,294.8 510,297C514.9,299.2 520.7,302.6 524.5,304C528.3,305.4 530.4,305 533,305.5C535.6,306 538,306.4 540,307C542,307.6 543.6,308 545,309C546.4,310 547.9,312.3 548.5,313C548.7,314.2 549.5,317.7 549.5,320C549.5,322.3 549.1,324.8 548.5,327C547.9,329.2 547.1,331.1 546,333C544.9,334.9 543.5,337.2 542,338.5C540.5,339.8 538.7,340.7 537,341C535.3,341.3 533.6,340.9 532,340.5C530.4,340.1 528.9,339.6 527.5,338.5C526.1,337.4 524.5,335.6 523.5,334C522.5,332.4 521.8,329.8 521.5,329C519.9,329.2 515.2,329.4 512,330C508.8,330.6 506.2,331.2 502.5,332.5C498.8,333.8 493.9,336.2 490,338C486.1,339.8 482.2,342.1 479,343.5C475.8,344.9 473.3,345.8 471,346.5C468.7,347.2 466.5,347.8 465,347.5C463.5,347.2 462.2,346.1 462,345C461.8,343.9 462,342.6 463.5,341C465,339.4 468.1,337.2 471,335.5C473.9,333.8 477.6,332 481,330.5C484.4,329 489.8,327.2 491.5,326.5L491.5,318C489.4,317.3 483.1,315.3 479,314C474.9,312.7 470.9,311.3 467,310C463.1,308.7 460,307.7 455.5,306C451,304.3 445.1,301.9 440,300C434.9,298.1 429.3,296 425,294.5C420.7,293 416.8,292.2 414,291C411.2,289.8 409.5,288.7 408,287C406.5,285.3 405.5,282 405,281Z" fill="url(#pBone)"/>
<g clip-path="url(#cLB)">
<path d="M405,281C407.5,280.6 414.2,279.1 420,278.5C425.8,277.9 434.2,277.2 440,277.5C445.8,277.8 449.8,278.9 455,280C460.2,281.1 466.3,282.8 471,284C475.7,285.2 479,285.9 483,287C487,288.1 490.5,288.8 495,290.5C499.5,292.2 505.1,294.8 510,297C514.9,299.2 520.7,302.6 524.5,304C528.3,305.4 530.4,305 533,305.5C535.6,306 538,306.4 540,307C542,307.6 543.6,308 545,309C546.4,310 547.9,312.3 548.5,313C548.7,314.2 549.5,317.7 549.5,320C549.5,322.3 549.1,324.8 548.5,327C547.9,329.2 547.1,331.1 546,333C544.9,334.9 543.5,337.2 542,338.5C540.5,339.8 538.7,340.7 537,341C535.3,341.3 533.6,340.9 532,340.5C530.4,340.1 528.9,339.6 527.5,338.5C526.1,337.4 524.5,335.6 523.5,334C522.5,332.4 521.8,329.8 521.5,329C519.9,329.2 515.2,329.4 512,330C508.8,330.6 506.2,331.2 502.5,332.5C498.8,333.8 493.9,336.2 490,338C486.1,339.8 482.2,342.1 479,343.5C475.8,344.9 473.3,345.8 471,346.5C468.7,347.2 466.5,347.8 465,347.5C463.5,347.2 462.2,346.1 462,345C461.8,343.9 462,342.6 463.5,341C465,339.4 468.1,337.2 471,335.5C473.9,333.8 477.6,332 481,330.5C484.4,329 489.8,327.2 491.5,326.5L491.5,318C489.4,317.3 483.1,315.3 479,314C474.9,312.7 470.9,311.3 467,310C463.1,308.7 460,307.7 455.5,306C451,304.3 445.1,301.9 440,300C434.9,298.1 429.3,296 425,294.5C420.7,293 416.8,292.2 414,291C411.2,289.8 409.5,288.7 408,287C406.5,285.3 405.5,282 405,281Z" fill="none" stroke="#8a5a22" stroke-width="3.5" filter="url(#b1)" opacity="0.85"/>
<path d="M524.5,304C524,306.2 522,312.5 521.5,317C521,321.5 521.5,328.7 521.5,331" fill="none" stroke="#8a5a22" stroke-width="2" filter="url(#b1)" opacity="0.7"/>
</g>
<path d="M512,295C510,294.2 503.7,291.5 500,290C496.3,288.5 495.8,287.7 490,286C484.2,284.3 473.3,281.7 465,280C456.7,278.3 448.3,277.2 440,276C431.7,274.8 423.3,273.1 415,272.5C406.7,271.9 398.3,271.4 390,272.5C381.7,273.6 371.7,276.5 365,279C358.3,281.5 355,284.8 350,287.5C345,290.2 339,292.6 335,295C331,297.4 328.3,299.3 326,302C323.7,304.7 322.1,308 321,311C319.9,314 319.7,316.3 319.5,320C319.3,323.7 319.4,328.8 320,333C320.6,337.2 321.6,341 323,345C324.4,349 326.5,352.8 328.5,357C330.5,361.2 333.2,366 335,370C336.8,374 338.2,377.3 339.5,381C340.8,384.7 341.7,388 342.5,392C343.3,396 343.9,400.8 344.5,405C345.1,409.2 345.2,414 346,417.5C346.8,421 347.4,423.7 349,426C350.6,428.3 352.5,430.4 355.5,431.5C358.5,432.6 363.8,433 367,432.5C370.2,432 373,430.2 375,428.5C377,426.8 378,425.1 379,422.5C380,419.9 380.4,415.8 381,413C381.6,410.2 381.8,407.8 382.5,406C383.2,404.2 384.2,402.8 385,402C385.8,401.2 386.7,400.8 387.5,401C388.3,401.2 389.4,401.8 390,403C390.6,404.2 391.1,404.8 391,408C390.9,411.2 390.2,417.1 389.5,422C388.8,426.9 387,434.9 386.5,437.5" fill="none" stroke="#a3180f" stroke-width="3.6" stroke-linejoin="round"/>
<path d="M512,295C510,294.2 503.7,291.5 500,290C496.3,288.5 495.8,287.7 490,286C484.2,284.3 473.3,281.7 465,280C456.7,278.3 448.3,277.2 440,276C431.7,274.8 423.3,273.1 415,272.5C406.7,271.9 398.3,271.4 390,272.5C381.7,273.6 371.7,276.5 365,279C358.3,281.5 355,284.8 350,287.5C345,290.2 339,292.6 335,295C331,297.4 328.3,299.3 326,302C323.7,304.7 322.1,308 321,311C319.9,314 319.7,316.3 319.5,320C319.3,323.7 319.4,328.8 320,333C320.6,337.2 321.6,341 323,345C324.4,349 326.5,352.8 328.5,357C330.5,361.2 333.2,366 335,370C336.8,374 338.2,377.3 339.5,381C340.8,384.7 341.7,388 342.5,392C343.3,396 343.9,400.8 344.5,405C345.1,409.2 345.2,414 346,417.5C346.8,421 347.4,423.7 349,426C350.6,428.3 352.5,430.4 355.5,431.5C358.5,432.6 363.8,433 367,432.5C370.2,432 373,430.2 375,428.5C377,426.8 378,425.1 379,422.5C380,419.9 380.4,415.8 381,413C381.6,410.2 381.8,407.8 382.5,406C383.2,404.2 384.2,402.8 385,402C385.8,401.2 386.7,400.8 387.5,401C388.3,401.2 389.4,401.8 390,403C390.6,404.2 391.1,404.8 391,408C390.9,411.2 390.2,417.1 389.5,422C388.8,426.9 387,434.9 386.5,437.5" fill="none" stroke="#f03a34" stroke-width="2.2" stroke-linejoin="round"/>
<path d="M492.5,231C492.6,229.5 493.1,225.5 493,222C492.9,218.5 491.8,213.7 492,210C492.2,206.3 492.7,202.7 494,200C495.3,197.3 497.7,195.3 500,194C502.3,192.7 505.7,191.7 508,192C510.3,192.3 512.5,193.8 514,196C515.5,198.2 516,202 517,205C518,208 518.5,212.2 520,214C521.5,215.8 524.5,217 526,216C527.5,215 528.3,211.5 529,208C529.7,204.5 529.7,199.2 530,195C530.3,190.8 530,185.8 531,182.5C532,179.2 534.1,176.9 536,175C537.9,173.1 540.3,172.7 542.5,171C544.7,169.3 546.9,166.8 549,165C551.1,163.2 551.9,161.7 555,160C558.1,158.3 563.3,155.2 567.5,155C571.7,154.8 576.9,155.7 580,159C583.1,162.3 584.8,168.6 586,175C587.2,181.4 586.8,192.1 587.5,197.5C588.2,202.9 587.9,205.4 590,207.5C592.1,209.6 596.7,210 600,210C603.3,210 607.2,209.2 610,207.5C612.8,205.8 614.5,202.1 617,200C619.5,197.9 621.2,196.2 625,195C628.8,193.8 635,193 640,193C645,193 650,193 655,195C660,197 666.6,200.4 670,205C673.4,209.6 674.5,215.2 675.5,222.5C676.5,229.8 676.3,242.3 676,249C675.7,255.7 674.8,258.2 673.5,262.5C672.2,266.8 670.6,271.2 668.5,275C666.4,278.8 663.8,282.1 661,285C658.2,287.9 655.3,290.5 652,292.5C648.7,294.5 645,296.1 641,297C637,297.9 632.3,298.3 628,298C623.7,297.7 618.8,296.3 615,295C611.2,293.7 607.9,291.7 605,290C602.1,288.3 600.3,286.7 597.5,285C594.7,283.3 590.9,281.2 588,280C585.1,278.8 582.3,277.7 580,277.5C577.7,277.3 575.7,278.2 574,279C572.3,279.8 571.2,280.7 570,282.5C568.8,284.3 567,287.6 567,290C567,292.4 569.5,295.8 570,297L548.5,313C547.9,312.3 546.4,310 545,309C543.6,308 542,307.6 540,307C538,306.4 535.6,306 533,305.5C530.4,305 528.3,305.4 524.5,304C520.7,302.6 514.9,299.2 510,297C505.1,294.8 497.5,291.6 495,290.5L512,295 L500,270 L480,234Z" fill="#2d2529"/>
<g clip-path="url(#cCav)">
<path d="M490,215C491.7,209.2 499.2,205 505,205C510.8,205 519.2,210.8 525,215C530.8,219.2 536.7,225 540,230C543.3,235 548.3,241.7 545,245C541.7,248.3 528.3,250.8 520,250C511.7,249.2 500,245.8 495,240C490,234.2 488.3,220.8 490,215Z" fill="#76626a" filter="url(#b4)"/>
<path d="M503,250C505.5,245.5 510.5,244.2 515,243C519.5,241.8 525,241.8 530,243C535,244.2 540.8,246.8 545,250C549.2,253.2 551.7,257.8 555,262C558.3,266.2 560.5,272 565,275C569.5,278 578.7,275.8 582,280C585.3,284.2 588.7,293.3 585,300C581.3,306.7 570.8,318.3 560,320C549.2,321.7 530.3,314.2 520,310C509.7,305.8 501.3,301.7 498,295C494.7,288.3 499.2,277.5 500,270C500.8,262.5 500.5,254.5 503,250Z" fill="url(#gRed)" filter="url(#b2)"/>
<path d="M527,297 L528.6,294.2 L530.2,298.1 L531.8,295.3 L533.4,299.3 L535,296.5 L536.6,300.4 L538.2,297.6 L539.8,301.6 L541.4,298.8 L543,302.8 L544.6,299.9 L546.2,303.9 L547.8,301.1 L549.4,305.1 L551,302.2 L552.6,306.2 L554.2,303.4 L555.8,307.4 L556,311 L527,300Z" fill="#f39a8a" opacity="0.75" filter="url(#b05)"/>
</g>
<path d="M566,295C567,296.2 569,299.2 572,302C575,304.8 579.7,308.5 584,311.5C588.3,314.5 592.3,317.1 598,320C603.7,322.9 610.9,326 618,329C625.1,332 633.5,335.5 640.8,337.9C648.1,340.3 655.3,342 662,343.5C668.7,345 677.8,346.2 681,346.7L692.4,355.5 L691,375.6 L671,407C656.2,403.2 650.1,399.6 645,396.5C639.9,393.4 634,390.1 628,385.7C622,381.3 615.3,375.4 609,370C602.7,364.6 596.6,359.1 590.4,353C584.2,346.9 576.9,338.4 572,333.5C567.1,328.6 564.2,325.9 561,323.5C557.8,321.1 553.9,319.8 552.5,319L550,313 L549.5,306 L557,291Z" fill="url(#gTube)"/>
<path d="M566,295C567,296.2 569,299.2 572,302C575,304.8 579.7,308.5 584,311.5C588.3,314.5 592.3,317.1 598,320C603.7,322.9 610.9,326 618,329C625.1,332 633.5,335.5 640.8,337.9C648.1,340.3 655.3,342 662,343.5C668.7,345 677.8,346.2 681,346.7L666,358C662.6,356.3 651.8,350.6 645.8,348C639.8,345.4 635,344.2 630,342.5C625,340.8 620.6,339.5 615.6,337.9C610.6,336.3 604.6,334.7 600,333C595.4,331.3 591.6,330.1 587.9,327.8C584.2,325.5 581,322.5 578,319C575,315.5 571.3,309 570,307Z" fill="#f09a8e"/>
<path d="M572,301C574,303 579.3,309.4 584,313C588.7,316.6 593.7,319.4 600,322.5C606.3,325.6 614.5,328.7 622,331.5C629.5,334.3 641.2,338.2 645,339.5" fill="none" stroke="#f6b6a6" stroke-width="3.5" filter="url(#b1)" stroke-linecap="round"/>
<path d="M666,358C662.6,356.3 651.8,350.6 645.8,348C639.8,345.4 635,344.2 630,342.5C625,340.8 620.6,339.5 615.6,337.9C610.6,336.3 604.6,334.7 600,333C595.4,331.3 589.9,328.7 587.9,327.8" fill="none" stroke="#c65058" stroke-width="1"/>
<path d="M590,326C591.3,326.2 595.3,326.2 598,327C600.7,327.8 604.7,329.9 606,330.5" fill="none" stroke="#9aa0a0" stroke-width="0.8"/>
<path d="M566,295C567,296.2 569,299.2 572,302C575,304.8 579.7,308.5 584,311.5C588.3,314.5 592.3,317.1 598,320C603.7,322.9 610.9,326 618,329C625.1,332 633.5,335.5 640.8,337.9C648.1,340.3 655.3,342 662,343.5C668.7,345 677.8,346.2 681,346.7L692.4,355.5 L691,375.6 L671,407C656.2,403.2 650.1,399.6 645,396.5C639.9,393.4 634,390.1 628,385.7C622,381.3 615.3,375.4 609,370C602.7,364.6 596.6,359.1 590.4,353C584.2,346.9 576.9,338.4 572,333.5C567.1,328.6 564.2,325.9 561,323.5C557.8,321.1 553.9,319.8 552.5,319L550,313 L549.5,306 L557,291Z" fill="url(#gTubeRed)"/>
<path d="M666,358C668.7,354.8 670.5,352.9 673,351C675.5,349.1 678.5,347 681,346.7C683.5,346.4 686.1,347.5 688,349C689.9,350.5 691.6,352.8 692.4,355.5C693.2,358.2 693.2,361.6 693,365C692.8,368.4 692.3,371.6 691,375.6C689.7,379.6 687.2,385 685,389C682.8,393 680.3,396.6 678,399.5C675.7,402.4 673.3,405.2 671,406.5C668.7,407.8 666.1,407.8 664,407.5C661.9,407.2 660,406.7 658.4,404.6C656.8,402.5 655.3,398.6 654.5,395C653.7,391.4 653,387.2 653.4,383C653.8,378.8 654.9,374.2 657,370C659.1,365.8 663.3,361.2 666,358Z" fill="url(#gCap)"/>
<path d="M654,392C654,390 653.2,384.2 654,380C654.8,375.8 657,370.7 659,367C661,363.3 664.8,359.5 666,358" fill="none" stroke="#f4c0bc" stroke-width="1.6" filter="url(#b05)"/>
<path d="M666,358C667.7,357.5 672.7,356.4 676,355C679.3,353.6 684.3,350.4 686,349.5" fill="none" stroke="#b84858" stroke-width="0.9"/>
<path d="M552,318C550.5,319.2 554.5,327.3 556,332C557.5,336.7 559.1,341.7 561,346C562.9,350.3 565.2,353.5 567.5,358C569.8,362.5 572.1,367.7 575,373C577.9,378.3 581.3,384.3 585,390C588.7,395.7 592.8,401.7 597,407C601.2,412.3 606.8,418.7 610,422C613.2,425.3 614,426.2 616,427C618,427.8 619.3,429 622,427C624.7,425 628.5,419.8 632,415C635.5,410.2 641.7,402.2 643,398C644.3,393.8 643.8,394 640,390C636.2,386 626.7,379.5 620,374C613.3,368.5 606.7,362.7 600,357C593.3,351.3 585.8,345.3 580,340C574.2,334.7 569.7,328.7 565,325C560.3,321.3 553.5,316.8 552,318Z" fill="url(#gMsc)"/>
<path d="M578,352C579.7,350.2 586,346.3 590,347C594,347.7 600.7,353.3 602,356C603.3,358.7 600.5,363.2 598,363C595.5,362.8 590,355.8 587,355C584,354.2 581.5,358.5 580,358C578.5,357.5 576.3,353.8 578,352Z" fill="#df6254" opacity="0.85"/>
<path d="M586,366C588,363.8 595.3,358.8 600,359C604.7,359.2 612.3,364.5 614,367C615.7,369.5 612.8,374 610,374C607.2,374 600.7,367.3 597,367C593.3,366.7 589.8,372.2 588,372C586.2,371.8 584,368.2 586,366Z" fill="#df6254" opacity="0.85"/>
<path d="M595,381C597.2,378.5 605.2,372.3 610,372C614.8,371.7 622.3,376.7 624,379C625.7,381.3 622.8,385.8 620,386C617.2,386.2 610.8,379.8 607,380C603.2,380.2 599,386.8 597,387C595,387.2 592.8,383.5 595,381Z" fill="#df6254" opacity="0.85"/>
<path d="M605,395C606.8,392.7 613.7,387.5 618,387C622.3,386.5 629.5,390 631,392C632.5,394 629.7,398.5 627,399C624.3,399.5 618.3,394.7 615,395C611.7,395.3 608.7,401 607,401C605.3,401 603.2,397.3 605,395Z" fill="#df6254" opacity="0.85"/>
<path d="M574,360C576.7,364.7 583.7,378 590,388C596.3,398 608.3,414.7 612,420" fill="none" stroke="#6a6446" stroke-width="0.8" opacity="0.9"/>
<path d="M579,355C581.7,359.7 588.7,373.2 595,383C601.3,392.8 613.3,408.8 617,414" fill="none" stroke="#6a6446" stroke-width="0.8" opacity="0.9"/>
<path d="M584,350C586.7,354.7 593.7,368.3 600,378C606.3,387.7 618.3,403 622,408" fill="none" stroke="#6a6446" stroke-width="0.8" opacity="0.9"/>
<path d="M589,345C591.7,349.7 598.7,363.5 605,373C611.3,382.5 623.3,397.2 627,402" fill="none" stroke="#6a6446" stroke-width="0.8" opacity="0.9"/>
<path d="M594,340C596.7,344.7 603.7,358.7 610,368C616.3,377.3 628.3,391.3 632,396" fill="none" stroke="#6a6446" stroke-width="0.8" opacity="0.9"/>
<path d="M608,408C608.5,403.2 611,398.5 614,395C617,391.5 621.7,388.2 626,387C630.3,385.8 636.8,386.3 640,388C643.2,389.7 645,393.3 645,397C645,400.7 642.5,405.8 640,410C637.5,414.2 633.5,419 630,422C626.5,425 622.2,427.7 619,428C615.8,428.3 612.8,427.3 611,424C609.2,420.7 607.5,412.8 608,408Z" fill="#c8322e"/>
<circle cx="616" cy="400" r="3.6" fill="#ee2a22" stroke="#b8201c" stroke-width="0.6"/>
<circle cx="624" cy="394" r="3.6" fill="#ee2a22" stroke="#b8201c" stroke-width="0.6"/>
<circle cx="632" cy="390" r="3.6" fill="#ee2a22" stroke="#b8201c" stroke-width="0.6"/>
<circle cx="640" cy="393" r="3.6" fill="#ee2a22" stroke="#b8201c" stroke-width="0.6"/>
<circle cx="613" cy="410" r="3.6" fill="#ee2a22" stroke="#b8201c" stroke-width="0.6"/>
<circle cx="621" cy="405" r="3.6" fill="#ee2a22" stroke="#b8201c" stroke-width="0.6"/>
<circle cx="629" cy="400" r="3.6" fill="#ee2a22" stroke="#b8201c" stroke-width="0.6"/>
<circle cx="637" cy="401" r="3.6" fill="#ee2a22" stroke="#b8201c" stroke-width="0.6"/>
<circle cx="612" cy="419" r="3.6" fill="#ee2a22" stroke="#b8201c" stroke-width="0.6"/>
<circle cx="619" cy="415" r="3.6" fill="#ee2a22" stroke="#b8201c" stroke-width="0.6"/>
<circle cx="627" cy="410" r="3.6" fill="#ee2a22" stroke="#b8201c" stroke-width="0.6"/>
<circle cx="634" cy="409" r="3.6" fill="#ee2a22" stroke="#b8201c" stroke-width="0.6"/>
<circle cx="618" cy="424" r="3.6" fill="#ee2a22" stroke="#b8201c" stroke-width="0.6"/>
<circle cx="625" cy="419" r="3.6" fill="#ee2a22" stroke="#b8201c" stroke-width="0.6"/>
<circle cx="631" cy="416" r="3.6" fill="#ee2a22" stroke="#b8201c" stroke-width="0.6"/>
<path d="M548,322C549.3,321.8 553.5,321 556,321C558.5,321 561.8,321.8 563,322" fill="none" stroke="#6e7478" stroke-width="0.9"/>
<path d="M548,324.5C549.3,324.4 553.5,323.9 556,324C558.5,324.1 561.8,325 563,325.2" fill="none" stroke="#6e7478" stroke-width="0.9"/>
<path d="M548,327C549.3,327 553.5,326.8 556,327C558.5,327.2 561.8,328.2 563,328.4" fill="none" stroke="#6e7478" stroke-width="0.9"/>
<path d="M548,329.5C549.3,329.6 553.5,329.6 556,330C558.5,330.4 561.8,331.3 563,331.6" fill="none" stroke="#6e7478" stroke-width="0.9"/>
<path d="M548,332C549.3,332.2 553.5,332.5 556,333C558.5,333.5 561.8,334.5 563,334.8" fill="none" stroke="#6e7478" stroke-width="0.9"/>
<path d="M548,334.5C549.3,334.8 553.5,335.4 556,336C558.5,336.6 561.8,337.7 563,338" fill="none" stroke="#6e7478" stroke-width="0.9"/>
<path d="M631,206C637,205.8 642.8,206.8 648,209C653.2,211.2 658.3,214.8 662,219C665.7,223.2 668.2,228.7 670,234C671.8,239.3 672.7,245.3 672.5,251C672.3,256.7 671.1,262.7 669,268C666.9,273.3 663.8,278.8 660,283C656.2,287.2 651,290.8 646,293C641,295.2 635.2,296.5 630,296.5C624.8,296.5 619.7,295.1 615,293C610.3,290.9 605.7,287.8 602,284C598.3,280.2 595,275.3 593,270C591,264.7 590.2,257.7 590,252C589.8,246.3 590.5,241.2 592,236C593.5,230.8 595.7,225.3 599,221C602.3,216.7 606.7,212.5 612,210C617.3,207.5 625,206.2 631,206Z" fill="url(#gCoch)" stroke="#4a3a42" stroke-width="1"/>
<g clip-path="url(#cCoch)" fill="none">
<path d="M596,268C597.3,270.5 600.3,279 604,283C607.7,287 613,290.2 618,292C623,293.8 631.3,293.7 634,294" fill="none" stroke="#4d3d48" stroke-width="8" filter="url(#b2)" opacity="0.9"/>
<path d="M644,214C646.3,215.3 654.3,218 658,222C661.7,226 664.3,232.3 666,238C667.7,243.7 667.7,253 668,256" fill="none" stroke="#4d3d48" stroke-width="7" filter="url(#b2)" opacity="0.9"/>
<path d="M640,238C640.7,240 644,246 644,250C644,254 640.7,260 640,262" fill="none" stroke="#5d4a55" stroke-width="4" filter="url(#b1)" opacity="0.8"/>
<path d="M618.8,246.8C618.8,246.7 618.8,246.1 618.9,245.8C619,245.4 619.1,245 619.3,244.7C619.4,244.3 619.6,244 619.9,243.6C620.1,243.3 620.4,243 620.8,242.7C621.1,242.4 621.4,242.2 621.8,242C622.2,241.8 622.6,241.6 623.1,241.5C623.5,241.4 624,241.3 624.5,241.3C625,241.3 625.5,241.3 626,241.4C626.5,241.5 627,241.7 627.5,241.9C628,242.1 628.5,242.4 628.9,242.8C629.4,243.1 629.8,243.5 630.2,244C630.6,244.4 630.9,245 631.2,245.5C631.5,246.1 631.8,246.7 632,247.4C632.2,248 632.3,248.7 632.4,249.4C632.4,250.1 632.4,250.9 632.3,251.6C632.2,252.3 632.1,253 631.8,253.7C631.6,254.4 631.3,255.2 630.9,255.8C630.5,256.5 630.1,257.1 629.5,257.7C629,258.3 628.4,258.8 627.8,259.3C627.2,259.7 626.5,260.1 625.8,260.4C625,260.8 624.2,261 623.5,261.2C622.7,261.3 621.8,261.4 621,261.4C620.2,261.4 619.3,261.2 618.5,261C617.6,260.8 616.8,260.5 616,260.1C615.2,259.7 614.4,259.2 613.7,258.6C613,258 612.3,257.3 611.7,256.5C611,255.8 610.5,254.9 610,254C609.6,253.1 609.2,252.1 608.9,251.1C608.6,250.1 608.4,249 608.4,247.9C608.3,246.8 608.3,245.7 608.5,244.6C608.6,243.5 608.8,242.4 609.2,241.3C609.6,240.2 610,239.2 610.6,238.2C611.2,237.2 611.8,236.2 612.6,235.4C613.4,234.5 614.2,233.7 615.1,233.1C616.1,232.4 617.1,231.8 618.1,231.3C619.2,230.8 620.3,230.5 621.5,230.2C622.6,230 623.8,229.9 625,229.9C626.2,229.9 627.4,230.1 628.6,230.4C629.8,230.7 631,231.1 632.1,231.6C633.2,232.2 634.3,232.9 635.3,233.7C636.4,234.5 637.3,235.5 638.2,236.5C639,237.5 639.8,238.7 640.5,239.9C641.1,241.2 641.7,242.5 642.1,243.9C642.5,245.3 642.8,246.7 642.9,248.2C643,249.7 643,251.2 642.9,252.7C642.7,254.2 642.4,255.7 642,257.1C641.5,258.6 640.9,260 640.2,261.3C639.5,262.7 638.6,263.9 637.6,265.1C636.7,266.3 635.6,267.4 634.4,268.3C633.2,269.2 631.9,270.1 630.5,270.7C629.1,271.4 627.7,271.9 626.2,272.3C624.7,272.6 623.1,272.8 621.6,272.8C620,272.9 618.4,272.7 616.9,272.4C615.4,272.1 613.8,271.6 612.3,270.9C610.9,270.2 609.4,269.4 608.1,268.4C606.8,267.4 605.5,266.2 604.4,264.9C603.2,263.6 602.2,262.2 601.3,260.6C600.4,259.1 599.7,257.4 599.1,255.7C598.6,254 598.1,252.1 597.9,250.3C597.7,248.5 597.6,246.5 597.8,244.7C597.9,242.8 598.2,240.9 598.7,239C599.2,237.2 599.9,235.4 600.7,233.7C601.6,232 602.6,230.3 603.7,228.8C604.9,227.3 606.3,225.9 607.7,224.7C609.1,223.5 610.7,222.4 612.4,221.5C614.1,220.6 615.8,219.9 617.7,219.4C619.5,218.9 621.4,218.5 623.3,218.4C625.2,218.3 627.2,218.4 629.1,218.8C631,219.1 632.9,219.6 634.7,220.4C636.5,221.1 638.3,222.1 640,223.2C641.7,224.4 643.3,225.7 644.7,227.2C646.1,228.8 647.5,230.5 648.6,232.3C649.7,234.1 650.7,236.1 651.5,238.2C652.2,240.2 652.8,242.4 653.2,244.6C653.5,246.8 653.7,249.1 653.6,251.4C653.6,253.7 653.3,256 652.8,258.2C652.3,260.4 651.5,262.7 650.6,264.7C649.7,266.8 648.5,268.9 647.2,270.7C645.9,272.6 644.3,274.3 642.7,275.9C641,277.4 639.1,278.8 637.2,280C635.3,281.1 633.2,282.1 631,282.8C628.9,283.5 626.6,284 624.4,284.2C622.1,284.4 619.8,284.4 617.5,284.1C615.3,283.9 613,283.3 610.8,282.5C608.6,281.8 606.4,280.7 604.4,279.4C602.4,278.2 600.4,276.7 598.7,275C596.9,273.3 595.3,271.3 593.9,269.3C592.4,267.2 591.2,264.9 590.2,262.5C589.2,260.2 588.4,257.6 587.9,255.1C587.3,252.5 587.2,248.5 587,247.1" fill="none" stroke="#5a4856" stroke-width="4.5" stroke-dasharray="0 14 10 9 14 12 20 16 30 22 40 200" filter="url(#b1)" opacity="0.85"/>
<path d="M620.2,247.4C620.2,247.3 620.1,246.9 620.2,246.6C620.2,246.3 620.2,246 620.3,245.7C620.4,245.5 620.5,245.2 620.7,244.9C620.9,244.6 621.1,244.4 621.3,244.1C621.5,243.9 621.8,243.7 622.1,243.5C622.4,243.3 622.7,243.1 623.1,243C623.4,242.9 623.8,242.8 624.2,242.8C624.6,242.7 625,242.7 625.4,242.8C625.8,242.9 626.2,243 626.6,243.1C627,243.3 627.4,243.5 627.8,243.8C628.2,244.1 628.6,244.4 628.9,244.8C629.3,245.2 629.6,245.6 629.8,246C630.1,246.5 630.3,247 630.5,247.6C630.7,248.1 630.8,248.7 630.9,249.3C630.9,249.9 630.9,250.5 630.9,251.1C630.8,251.7 630.7,252.4 630.5,253C630.4,253.6 630.1,254.2 629.8,254.8C629.5,255.4 629.1,255.9 628.7,256.5C628.2,257 627.7,257.5 627.2,257.9C626.7,258.3 626.1,258.7 625.4,259C624.8,259.3 624.1,259.5 623.4,259.7C622.7,259.8 622,259.9 621.2,259.9C620.5,259.9 619.7,259.8 619,259.6C618.2,259.4 617.5,259.2 616.8,258.8C616,258.4 615.3,258 614.7,257.5C614,256.9 613.4,256.3 612.9,255.7C612.3,255 611.8,254.2 611.4,253.4C611,252.6 610.6,251.7 610.4,250.8C610.1,249.9 609.9,248.9 609.9,248C609.8,247 609.8,246 609.9,245C610,244 610.2,243 610.5,242C610.8,241 611.2,240 611.7,239.1C612.2,238.2 612.9,237.4 613.5,236.6C614.2,235.8 615,235 615.8,234.4C616.7,233.8 617.6,233.2 618.5,232.7C619.5,232.3 620.5,231.9 621.6,231.7C622.6,231.5 623.7,231.4 624.8,231.4C625.9,231.4 627.1,231.5 628.1,231.8C629.2,232.1 630.3,232.4 631.4,233C632.4,233.5 633.4,234.1 634.4,234.9C635.3,235.6 636.2,236.5 637,237.4C637.8,238.4 638.5,239.5 639.1,240.6C639.7,241.7 640.2,243 640.6,244.2C641,245.5 641.3,246.9 641.4,248.2C641.5,249.6 641.5,251 641.4,252.4C641.3,253.7 641,255.1 640.6,256.5C640.2,257.8 639.7,259.2 639,260.4C638.4,261.7 637.6,262.9 636.7,264C635.8,265.1 634.7,266.1 633.6,267C632.5,267.9 631.3,268.7 630,269.3C628.7,269.9 627.4,270.4 626,270.8C624.6,271.1 623.1,271.3 621.7,271.4C620.2,271.4 618.7,271.2 617.3,270.9C615.8,270.6 614.4,270.2 613,269.5C611.6,268.9 610.2,268.1 609,267.2C607.7,266.2 606.5,265.1 605.5,263.9C604.4,262.7 603.4,261.3 602.6,259.9C601.8,258.5 601.1,256.9 600.6,255.3C600,253.6 599.6,251.9 599.4,250.2C599.2,248.5 599.1,246.7 599.2,244.9C599.3,243.1 599.6,241.3 600.1,239.6C600.5,237.9 601.2,236.1 602,234.5C602.7,232.9 603.7,231.3 604.8,229.9C605.9,228.5 607.1,227.1 608.5,226C609.9,224.8 611.4,223.8 612.9,222.9C614.5,222 616.2,221.3 617.9,220.8C619.7,220.4 621.5,220 623.3,219.9C625.1,219.8 626.9,219.9 628.8,220.2C630.6,220.5 632.4,221 634.1,221.8C635.9,222.5 637.6,223.4 639.2,224.5C640.7,225.6 642.3,226.9 643.6,228.3C645,229.7 646.3,231.4 647.3,233.1C648.4,234.8 649.3,236.7 650.1,238.7C650.8,240.6 651.4,242.7 651.7,244.8C652,246.9 652.2,249.1 652.1,251.3C652.1,253.4 651.8,255.6 651.3,257.7C650.9,259.9 650.2,262 649.3,264C648.4,266 647.3,267.9 646.1,269.7C644.8,271.5 643.4,273.2 641.8,274.7C640.2,276.1 638.4,277.5 636.6,278.6C634.7,279.7 632.7,280.6 630.7,281.3C628.6,282 626.5,282.5 624.3,282.7C622.2,282.9 619.9,282.9 617.8,282.6C615.6,282.4 613.4,281.9 611.3,281.1C609.2,280.4 607.1,279.4 605.2,278.2C603.2,277 601.4,275.5 599.7,273.9C598,272.2 596.4,270.4 595.1,268.4C593.7,266.4 592.5,264.2 591.6,261.9C590.6,259.7 589.9,257.2 589.3,254.8C588.8,252.3 588.7,248.5 588.5,247.2" fill="none" stroke="#35262f" stroke-width="2.4" stroke-linecap="round"/>
<path d="M621.4,248.6C621.4,248.5 621.3,248.1 621.4,247.8C621.4,247.5 621.4,247.2 621.5,246.9C621.6,246.7 621.7,246.4 621.9,246.1C622.1,245.8 622.3,245.6 622.5,245.3C622.7,245.1 623,244.9 623.3,244.7C623.6,244.5 623.9,244.3 624.3,244.2C624.6,244.1 625,244 625.4,244C625.8,243.9 626.2,243.9 626.6,244C627,244.1 627.4,244.2 627.8,244.3C628.2,244.5 628.6,244.7 629,245C629.4,245.3 629.8,245.6 630.1,246C630.5,246.4 630.8,246.8 631,247.2C631.3,247.7 631.5,248.2 631.7,248.8C631.9,249.3 632,249.9 632.1,250.5C632.1,251.1 632.1,251.7 632.1,252.3C632,252.9 631.9,253.6 631.7,254.2C631.6,254.8 631.3,255.4 631,256C630.7,256.6 630.3,257.1 629.9,257.7C629.4,258.2 628.9,258.7 628.4,259.1C627.9,259.5 627.3,259.9 626.6,260.2C626,260.5 625.3,260.7 624.6,260.9C623.9,261 623.2,261.1 622.4,261.1C621.7,261.1 620.9,261 620.2,260.8C619.4,260.6 618.7,260.4 618,260C617.2,259.6 616.5,259.2 615.9,258.7C615.2,258.1 614.6,257.5 614.1,256.9C613.5,256.2 613,255.4 612.6,254.6C612.2,253.8 611.8,252.9 611.6,252C611.3,251.1 611.1,250.1 611.1,249.2C611,248.2 611,247.2 611.1,246.2C611.2,245.2 611.4,244.2 611.7,243.2C612,242.2 612.4,241.2 612.9,240.3C613.4,239.4 614.1,238.6 614.7,237.8C615.4,237 616.2,236.2 617,235.6C617.9,235 618.8,234.4 619.7,233.9C620.7,233.5 621.7,233.1 622.8,232.9C623.8,232.7 624.9,232.6 626,232.6C627.1,232.6 628.3,232.7 629.3,233C630.4,233.3 631.5,233.6 632.6,234.2C633.6,234.7 634.6,235.3 635.6,236.1C636.5,236.8 637.4,237.7 638.2,238.6C639,239.6 639.7,240.7 640.3,241.8C640.9,242.9 641.4,244.2 641.8,245.4C642.2,246.7 642.5,248.1 642.6,249.4C642.7,250.8 642.7,252.2 642.6,253.6C642.5,254.9 642.2,256.3 641.8,257.7C641.4,259 640.9,260.4 640.2,261.6C639.6,262.9 638.8,264.1 637.9,265.2C637,266.3 635.9,267.3 634.8,268.2C633.7,269.1 632.5,269.9 631.2,270.5C629.9,271.1 628.6,271.6 627.2,272C625.8,272.3 624.3,272.5 622.9,272.6C621.4,272.6 619.9,272.4 618.5,272.1C617,271.8 615.6,271.4 614.2,270.7C612.8,270.1 611.4,269.3 610.2,268.4C608.9,267.4 607.7,266.3 606.7,265.1C605.6,263.9 604.6,262.5 603.8,261.1C603,259.7 602.3,258.1 601.8,256.5C601.2,254.8 600.8,253.1 600.6,251.4C600.4,249.7 600.3,247.9 600.4,246.1C600.5,244.3 600.8,242.5 601.3,240.8C601.7,239.1 602.4,237.3 603.2,235.7C603.9,234.1 604.9,232.5 606,231.1C607.1,229.7 608.3,228.3 609.7,227.2C611.1,226 612.6,225 614.1,224.1C615.7,223.2 617.4,222.5 619.1,222C620.9,221.6 622.7,221.2 624.5,221.1C626.3,221 628.1,221.1 630,221.4C631.8,221.7 633.6,222.2 635.3,223C637.1,223.7 638.8,224.6 640.4,225.7C641.9,226.8 643.5,228.1 644.8,229.5C646.2,230.9 647.5,232.6 648.5,234.3C649.6,236 650.5,237.9 651.3,239.9C652,241.8 652.6,243.9 652.9,246C653.2,248.1 653.4,250.3 653.3,252.5C653.3,254.6 653,256.8 652.5,258.9C652.1,261.1 651.4,263.2 650.5,265.2C649.6,267.2 648.5,269.1 647.3,270.9C646,272.7 644.6,274.4 643,275.9C641.4,277.3 639.6,278.7 637.8,279.8C635.9,280.9 633.9,281.8 631.9,282.5C629.8,283.2 627.7,283.7 625.5,283.9C623.4,284.1 621.1,284.1 619,283.8C616.8,283.6 614.6,283.1 612.5,282.3C610.4,281.6 608.3,280.6 606.4,279.4C604.4,278.2 602.6,276.7 600.9,275.1C599.2,273.4 597.6,271.6 596.3,269.6C594.9,267.6 593.7,265.4 592.8,263.1C591.8,260.9 591.1,258.4 590.5,256C590,253.5 589.9,249.7 589.7,248.4" fill="none" stroke="#ecd2d2" stroke-width="1.0" opacity="0.55"/>
</g>
<path d="M564,264C565,261.3 568.7,259.7 572,260C575.3,260.3 580.7,263.5 584,266C587.3,268.5 591.7,272.7 592,275C592.3,277.3 589,279.3 586,280C583,280.7 577.3,279.7 574,279C570.7,278.3 567.7,278.5 566,276C564.3,273.5 563,266.7 564,264Z" fill="#a8201c" filter="url(#b1)"/>
<path d="M545,232C547.2,230.8 549,229.2 552,229C555,228.8 559.2,230.3 563,231C566.8,231.7 571,233.3 575,233C579,232.7 583.8,230.5 587,229C590.2,227.5 592.2,223.5 594,224C595.8,224.5 597.7,228.5 598,232C598.3,235.5 596.7,240.7 596,245C595.3,249.3 594.3,253.8 594,258C593.7,262.2 594.2,266.9 594,270C593.8,273.1 593.5,275.8 592.8,276.6C592.1,277.4 591.1,276 589.6,275C588.1,274 585.9,271.9 584,270.5C582.1,269.1 580.1,268.1 578.3,266.9C576.5,265.7 574.6,264.2 573,263.5C571.4,262.8 569.8,262.6 568.5,262.9C567.2,263.1 565.7,264.1 565,265C564.3,265.9 564.3,266.6 564.5,268C564.7,269.4 566.8,272.3 566.1,273.4C565.4,274.5 562.3,274.6 560.5,274.4C558.7,274.2 557,273 555.5,272C554,271 552.8,270 551.6,268.5C550.4,267 549.5,264.6 548.5,263C547.5,261.4 547.1,260 545.9,258.8C544.6,257.6 542.2,257.1 541,256C539.8,254.9 539.2,254.4 538.6,252.4C538,250.4 537.5,246.7 537.5,244C537.5,241.3 537.2,238.2 538.5,236.2C539.8,234.2 542.8,233.2 545,232Z" fill="#e4b6b6" stroke="#4a2f3c" stroke-width="1.1"/>
<path d="M556,240C558.3,239.7 565.2,238 570,238C574.8,238 581.7,238 585,240C588.3,242 589.2,248.3 590,250" fill="none" stroke="#f3d6d2" stroke-width="4" filter="url(#b1)"/>
<path d="M541.5,239.5C542.8,238.1 544.9,237.8 548,237.6C551.1,237.4 556.9,238.1 560,238.6C563.1,239.1 564.9,239.3 566.5,240.5C568.1,241.7 569.2,244.1 569.4,246C569.6,247.9 568.9,250.5 567.5,252C566.1,253.5 564.2,254.4 561,254.8C557.8,255.2 551.2,254.7 548,254.3C544.8,253.9 543.3,253.7 542,252.3C540.7,250.9 540.3,248.1 540.2,246C540.1,243.9 540.2,240.9 541.5,239.5Z" fill="#5a4a58" stroke="#7d7a4a" stroke-width="1.3"/>
<path d="M562,170C562.5,167.5 566,164 568,163C570,162 572.3,162.5 574,164C575.7,165.5 577.2,168.7 578,172C578.8,175.3 580,182.7 579,184C578,185.3 574.3,181 572,180C569.7,179 566.7,179.7 565,178C563.3,176.3 561.5,172.5 562,170Z" fill="url(#pBone)"/>
<path d="M535.4,223C535.1,220 533.8,210.8 533.9,205C534,199.2 534.6,192.5 536,188C537.4,183.5 539.9,180.2 542.4,178C544.9,175.8 548,175.1 550.8,175C553.6,174.9 556.9,175.7 559.3,177.7C561.7,179.7 563.1,183.5 565,187C566.9,190.5 569,195 570.7,198.5C572.4,202 574.6,206.4 575.4,208" fill="none" stroke="#6b2a3c" stroke-width="10.8" stroke-linecap="round"/>
<path d="M535.4,223C535.1,220 533.8,210.8 533.9,205C534,199.2 534.6,192.5 536,188C537.4,183.5 539.9,180.2 542.4,178C544.9,175.8 548,175.1 550.8,175C553.6,174.9 556.9,175.7 559.3,177.7C561.7,179.7 563.1,183.5 565,187C566.9,190.5 569,195 570.7,198.5C572.4,202 574.6,206.4 575.4,208" fill="none" stroke="#c99a9c" stroke-width="9.4" stroke-linecap="round"/>
<path d="M535.4,223C535.1,220 533.8,210.8 533.9,205C534,199.2 534.6,192.5 536,188C537.4,183.5 539.9,180.2 542.4,178C544.9,175.8 548,175.1 550.8,175C553.6,174.9 556.9,175.7 559.3,177.7C561.7,179.7 563.1,183.5 565,187C566.9,190.5 569,195 570.7,198.5C572.4,202 574.6,206.4 575.4,208" fill="none" stroke="#e2c0ba" stroke-width="6.956" stroke-linecap="round"/>
<path d="M535.4,223C535.1,220 533.8,210.8 533.9,205C534,199.2 534.6,192.5 536,188C537.4,183.5 539.9,180.2 542.4,178C544.9,175.8 548,175.1 550.8,175C553.6,174.9 556.9,175.7 559.3,177.7C561.7,179.7 563.1,183.5 565,187C566.9,190.5 569,195 570.7,198.5C572.4,202 574.6,206.4 575.4,208" fill="none" stroke="#f1dcd4" stroke-width="3.196" stroke-linecap="round" filter="url(#b05)"/>
<path d="M553.7,213.6C553.5,210.8 552.4,202.6 552.7,196.6C553,190.6 554,183.2 555.6,177.7C557.2,172.2 559.9,166.5 562.2,163.5C564.6,160.5 567,159.3 569.7,159.5C572.4,159.7 576.2,161.5 578.2,164.5C580.2,167.5 581.2,172.3 582,177.7C582.8,183 583.3,190.9 583,196.6C582.7,202.3 580.5,209.2 580,211.7" fill="none" stroke="#6b2a3c" stroke-width="10.8" stroke-linecap="round"/>
<path d="M553.7,213.6C553.5,210.8 552.4,202.6 552.7,196.6C553,190.6 554,183.2 555.6,177.7C557.2,172.2 559.9,166.5 562.2,163.5C564.6,160.5 567,159.3 569.7,159.5C572.4,159.7 576.2,161.5 578.2,164.5C580.2,167.5 581.2,172.3 582,177.7C582.8,183 583.3,190.9 583,196.6C582.7,202.3 580.5,209.2 580,211.7" fill="none" stroke="#c99a9c" stroke-width="9.4" stroke-linecap="round"/>
<path d="M553.7,213.6C553.5,210.8 552.4,202.6 552.7,196.6C553,190.6 554,183.2 555.6,177.7C557.2,172.2 559.9,166.5 562.2,163.5C564.6,160.5 567,159.3 569.7,159.5C572.4,159.7 576.2,161.5 578.2,164.5C580.2,167.5 581.2,172.3 582,177.7C582.8,183 583.3,190.9 583,196.6C582.7,202.3 580.5,209.2 580,211.7" fill="none" stroke="#e2c0ba" stroke-width="6.956" stroke-linecap="round"/>
<path d="M553.7,213.6C553.5,210.8 552.4,202.6 552.7,196.6C553,190.6 554,183.2 555.6,177.7C557.2,172.2 559.9,166.5 562.2,163.5C564.6,160.5 567,159.3 569.7,159.5C572.4,159.7 576.2,161.5 578.2,164.5C580.2,167.5 581.2,172.3 582,177.7C582.8,183 583.3,190.9 583,196.6C582.7,202.3 580.5,209.2 580,211.7" fill="none" stroke="#f1dcd4" stroke-width="3.196" stroke-linecap="round" filter="url(#b05)"/>
<path d="M586,214C584.2,213.8 579.3,212.8 575,212.5C570.7,212.2 565,212 560,212.5C555,213 549.3,214 545,215.5C540.7,217 536.4,219.5 534,221.5C531.6,223.5 530.3,225.8 530.5,227.5C530.7,229.2 532.4,231 535,231.5C537.6,232 541.5,231.6 546,230.5C550.5,229.4 556.7,226.7 562,225C567.3,223.3 575.3,221.2 578,220.5Z" fill="#d9b0ac"/>
<path d="M586,214C584.2,213.8 579.3,212.8 575,212.5C570.7,212.2 565,212 560,212.5C555,213 549.3,214 545,215.5C540.7,217 536.4,219.5 534,221.5C531.6,223.5 530.3,225.8 530.5,227.5C530.7,229.2 532.4,231 535,231.5C537.6,232 541.5,231.6 546,230.5C550.5,229.4 556.7,226.7 562,225C567.3,223.3 575.3,221.2 578,220.5" fill="none" stroke="#6b2a3c" stroke-width="11.0" stroke-linecap="round"/>
<path d="M586,214C584.2,213.8 579.3,212.8 575,212.5C570.7,212.2 565,212 560,212.5C555,213 549.3,214 545,215.5C540.7,217 536.4,219.5 534,221.5C531.6,223.5 530.3,225.8 530.5,227.5C530.7,229.2 532.4,231 535,231.5C537.6,232 541.5,231.6 546,230.5C550.5,229.4 556.7,226.7 562,225C567.3,223.3 575.3,221.2 578,220.5" fill="none" stroke="#c99a9c" stroke-width="9.6" stroke-linecap="round"/>
<path d="M586,214C584.2,213.8 579.3,212.8 575,212.5C570.7,212.2 565,212 560,212.5C555,213 549.3,214 545,215.5C540.7,217 536.4,219.5 534,221.5C531.6,223.5 530.3,225.8 530.5,227.5C530.7,229.2 532.4,231 535,231.5C537.6,232 541.5,231.6 546,230.5C550.5,229.4 556.7,226.7 562,225C567.3,223.3 575.3,221.2 578,220.5" fill="none" stroke="#e2c0ba" stroke-width="7.104" stroke-linecap="round"/>
<path d="M586,214C584.2,213.8 579.3,212.8 575,212.5C570.7,212.2 565,212 560,212.5C555,213 549.3,214 545,215.5C540.7,217 536.4,219.5 534,221.5C531.6,223.5 530.3,225.8 530.5,227.5C530.7,229.2 532.4,231 535,231.5C537.6,232 541.5,231.6 546,230.5C550.5,229.4 556.7,226.7 562,225C567.3,223.3 575.3,221.2 578,220.5" fill="none" stroke="#f1dcd4" stroke-width="3.2640000000000002" stroke-linecap="round" filter="url(#b05)"/>
<path d="M541,224.5C542.5,224.1 546.8,222.8 550,222C553.2,221.2 558.3,219.9 560,219.5" fill="none" stroke="#8a5560" stroke-width="1.1" stroke-linecap="round"/>
<g clip-path="url(#cCav)">
<path d="M583,220C583.7,216.7 593,215.2 600,212C607,208.8 617,204.8 625,201C633,197.2 641.2,193 648,189C654.8,185 660.7,180.4 666,177C671.3,173.6 676.8,170.1 680,168.5C683.2,166.9 683.7,167.2 685,167.5C686.3,167.8 687.6,168.9 688,170C688.4,171.1 687,173.2 687.5,174C688,174.8 689.9,173.8 691,174.5C692.1,175.2 693.8,176.6 694,178C694.2,179.4 693.8,181.2 692.5,183C691.2,184.8 689.1,186.3 686,188.5C682.9,190.7 679.2,193.2 674,196C668.8,198.8 662.3,201.8 655,205C647.7,208.2 637.5,211.8 630,215C622.5,218.2 615.7,221.2 610,224C604.3,226.8 600.5,232.7 596,232C591.5,231.3 582.3,223.3 583,220Z" fill="#c6aa80" stroke="#6e5a3a" stroke-width="0.7"/>
<path d="M590,219C593.7,217.2 603.7,212 612,208C620.3,204 631,199.7 640,195C649,190.3 658,184.2 666,180C674,175.8 684.3,171.2 688,169.5" fill="none" stroke="#86704a" stroke-width="0.6"/>
<path d="M590,221.8C593.7,219.9 603.7,214.6 612,210.5C620.3,206.4 631,202 640,197.2C649,192.5 658,186.4 666,182.1C674,177.8 684.3,173.3 688,171.5" fill="none" stroke="#86704a" stroke-width="0.6"/>
<path d="M590,224.5C593.7,222.6 603.7,217.2 612,213C620.3,208.8 631,204.3 640,199.5C649,194.7 658,188.6 666,184.2C674,179.9 684.3,175.3 688,173.5" fill="none" stroke="#86704a" stroke-width="0.6"/>
<path d="M590,227.2C593.7,225.3 603.7,219.8 612,215.5C620.3,211.2 631,206.6 640,201.8C649,196.9 658,190.8 666,186.4C674,182 684.3,177.3 688,175.5" fill="none" stroke="#86704a" stroke-width="0.6"/>
<path d="M590,230C593.7,228 603.7,222.3 612,218C620.3,213.7 631,208.9 640,204C649,199.1 658,192.9 666,188.5C674,184.1 684.3,179.3 688,177.5" fill="none" stroke="#86704a" stroke-width="0.6"/>
<path d="M590,232.8C593.7,230.7 603.7,224.9 612,220.5C620.3,216.1 631,211.2 640,206.2C649,201.3 658,195.1 666,190.6C674,186.2 684.3,181.4 688,179.5" fill="none" stroke="#86704a" stroke-width="0.6"/>
</g>
<path d="M566,216.5C568,216.2 573.7,215.1 578,214.5C582.3,213.9 589.7,213.2 592,213" fill="none" stroke="#5e5030" stroke-width="4.2" stroke-linecap="round"/>
<path d="M566,216.5C568,216.2 573.7,215.1 578,214.5C582.3,213.9 589.7,213.2 592,213" fill="none" stroke="#bcaa7c" stroke-width="3" stroke-linecap="round"/>
<path d="M562,222C564.3,221.6 571,220.4 576,219.5C581,218.6 589.3,217 592,216.5" fill="none" stroke="#5e5030" stroke-width="4.2" stroke-linecap="round"/>
<path d="M562,222C564.3,221.6 571,220.4 576,219.5C581,218.6 589.3,217 592,216.5" fill="none" stroke="#bcaa7c" stroke-width="3" stroke-linecap="round"/>
<path d="M567,228.5C569.2,227.8 575.5,225.5 580,224C584.5,222.5 591.7,220.2 594,219.5" fill="none" stroke="#5e5030" stroke-width="4.2" stroke-linecap="round"/>
<path d="M567,228.5C569.2,227.8 575.5,225.5 580,224C584.5,222.5 591.7,220.2 594,219.5" fill="none" stroke="#bcaa7c" stroke-width="3" stroke-linecap="round"/>
<path d="M573,233C574.8,232.3 580,230.7 584,229C588,227.3 594.8,224 597,223" fill="none" stroke="#5e5030" stroke-width="4.2" stroke-linecap="round"/>
<path d="M573,233C574.8,232.3 580,230.7 584,229C588,227.3 594.8,224 597,223" fill="none" stroke="#bcaa7c" stroke-width="3" stroke-linecap="round"/>
<path d="M580,237C581.5,236.3 585.7,234.8 589,233C592.3,231.2 598.2,227.6 600,226.5" fill="none" stroke="#5e5030" stroke-width="4.2" stroke-linecap="round"/>
<path d="M580,237C581.5,236.3 585.7,234.8 589,233C592.3,231.2 598.2,227.6 600,226.5" fill="none" stroke="#bcaa7c" stroke-width="3" stroke-linecap="round"/>
<path d="M499,203C499.9,201 501.3,199.9 503,199C504.7,198.1 507.2,197.4 509,197.5C510.8,197.6 512.5,198.2 514,199.5C515.5,200.8 516.8,202.8 518,205C519.2,207.2 520.2,210.2 521,213C521.8,215.8 522.5,219.3 522.5,222C522.5,224.7 520.8,226.7 521,229C521.2,231.3 522.5,233.7 524,236C525.5,238.3 528,240.8 530,243C532,245.2 534.7,247.3 536,249C537.3,250.7 538.3,252.1 538,253C537.7,253.9 535.7,254.8 534,254.5C532.3,254.2 530.2,252.6 528,251C525.8,249.4 523,247.2 521,245C519,242.8 517.2,238.3 516,238C514.8,237.7 515,241.5 514,243C513,244.5 511.5,246.5 510,247C508.5,247.5 506.7,246.7 505,246C503.3,245.3 501.6,244 500,243C498.4,242 496.2,241.1 495.5,240C494.8,238.9 495.2,237.5 496,236.5C496.8,235.5 499,235.4 500,234C501,232.6 502,230.3 502,228C502,225.7 500.8,222.8 500,220C499.2,217.2 497.7,213.8 497.5,211C497.3,208.2 498.1,205 499,203Z" fill="url(#gOss)" stroke="#7a4a1c" stroke-width="0.7"/>
<path d="M508,203C508.5,204.8 510.3,210.2 511,214C511.7,217.8 511.5,222.3 512,226C512.5,229.7 513.7,234.3 514,236" fill="none" stroke="#f0b860" stroke-width="3" filter="url(#b1)" stroke-linecap="round"/>
<path d="M499,200C498.8,198.8 501,197 502,197C503,197 504.8,198.8 505,200C505.2,201.2 504,204 503,204C502,204 499.2,201.2 499,200Z" fill="#e8c050" stroke="#8a6a20" stroke-width="0.5"/>
<path d="M498,217C498.5,217.5 500.7,218.8 501,220C501.3,221.2 499.7,223 500,224C500.3,225 502.5,225.7 503,226" fill="none" stroke="#8a8a40" stroke-width="1.3"/>
<path d="M532,251.5C532.8,251.2 535.5,250 537,249.5C538.5,249 539.2,248.6 541,248.3C542.8,248.1 545.5,247.8 548,248C550.5,248.2 553.4,248.8 556,249.2C558.6,249.6 562.4,250 563.7,250.2" fill="none" stroke="#6a6258" stroke-width="4.4" stroke-linecap="round"/>
<path d="M541,248.3C541.6,247.8 543.3,246.1 544.5,245C545.7,243.9 547.7,242.3 548.3,241.8" fill="none" stroke="#6a6258" stroke-width="4.2" stroke-linecap="round"/>
<path d="M532,251.5C532.8,251.2 535.5,250 537,249.5C538.5,249 539.2,248.6 541,248.3C542.8,248.1 545.5,247.8 548,248C550.5,248.2 553.4,248.8 556,249.2C558.6,249.6 562.4,250 563.7,250.2" fill="none" stroke="#d8d0c6" stroke-width="2.8" stroke-linecap="round"/>
<path d="M541,248.3C541.6,247.8 543.3,246.1 544.5,245C545.7,243.9 547.7,242.3 548.3,241.8" fill="none" stroke="#d8d0c6" stroke-width="2.6" stroke-linecap="round"/>
<path d="M482.5,235C480.6,235.9 479.2,240.8 478.5,244C477.8,247.2 477.8,250.7 478,254C478.2,257.3 479,260.7 480,264C481,267.3 482.2,270.8 484,274C485.8,277.2 488.5,280.5 491,283C493.5,285.5 496.2,287.4 499,289C501.8,290.6 506,293.2 508,292.5C510,291.8 510.2,288.8 511,285C511.8,281.2 512.8,274.3 512.5,270C512.2,265.7 510.5,262.2 509,259C507.5,255.8 505.5,253.5 503.5,251C501.5,248.5 499.2,246.1 497,244C494.8,241.9 492.4,240 490,238.5C487.6,237 484.4,234.1 482.5,235Z" fill="url(#gEd)" stroke="#b0607a" stroke-width="0.8"/>
<path d="M492,241C493.5,242.5 498.3,246.5 501,250C503.7,253.5 506.5,257.7 508,262C509.5,266.3 510,271.3 510,276C510,280.7 508.3,287.7 508,290" fill="none" stroke="#d68a98" stroke-width="2.5"/>
<g stroke="#222" stroke-width="0.9" fill="none">
<path d="M452,136 L481,253"/>
<path d="M267.5,331.5 L186,454.5"/>
<path d="M323,297 L472.5,454.5 L495,287"/>
</g>
<g fill="#111"><circle cx="481" cy="253" r="1.6"/><circle cx="267.5" cy="331.5" r="1.6"/><circle cx="323" cy="297" r="1.6"/><circle cx="495" cy="287" r="1.6"/></g>
<g font-size="17.8" text-anchor="middle" letter-spacing="0.25" opacity="0.99" fill="#141414" stroke="#141414" stroke-width="0.25">
<text x="453" y="110.4">Барабанная</text><text x="451.8" y="127.3">перепонка</text>
<text x="185.2" y="473.6">Ушная</text><text x="184.5" y="490.6">раковина</text>
<text x="474.3" y="473.6">Наружный</text><text x="474.9" y="490.6">слуховой</text><text x="474.9" y="507.6">проход</text>
</g>
<g fill="none" stroke="#141414">
<circle cx="733.6" cy="497.7" r="21.6" stroke-width="5.4" stroke-dasharray="1.3 1.1 0.7 1.0 1.8 1.2 0.9 1.0"/>
<circle cx="733.6" cy="497.7" r="24.6" stroke-width="0.8"/>
<circle cx="733.6" cy="497.7" r="17.2" stroke-width="0.9"/>
</g>
<path d="M750.2,496.7L750.2,499L744.4,497.8ZM750,500.5L749.4,502.8L745,500.5ZM748.9,504.1L747.9,506.1L744,502.9ZM747.5,506.7L746.1,508.6L741.3,503.5ZM744.5,510.2L742.6,511.6L739.9,506ZM741.5,512.3L739.4,513.3L736.9,505ZM738.4,513.6L736.2,514.1L735.5,506.1ZM734.7,514.3L732.4,514.3L733.6,507.8ZM731.5,514.2L729.2,513.7L732,506ZM727.7,513.2L725.6,512.2L728.7,508.2ZM724,511.2L722.2,509.7L728.4,504ZM721.2,508.7L719.8,506.9L727.2,502.7ZM719.1,505.8L718.1,503.7L726.3,501.2ZM717.9,503L717.3,500.7L722.5,500.6ZM717.1,499.1L717,496.8L725.1,497.8ZM717.3,494.7L717.9,492.4L722.5,494.8ZM718.1,491.8L719.1,489.7L722.9,492.7ZM720,488.3L721.4,486.4L725.4,491.1ZM722.2,485.7L723.9,484.2L726.1,488.7ZM725.5,483.2L727.6,482.2L728.6,487ZM729.2,481.7L731.4,481.2L731.8,489ZM732.3,481.2L734.6,481.1L733.5,489.5ZM735.8,481.2L738.1,481.7L735.2,490.1ZM739.6,482.2L741.7,483.2L737.9,488.4ZM742.6,483.8L744.5,485.1L739.9,489.3ZM745.7,486.3L747.2,488.2L740.5,492.1ZM748.2,489.7L749.1,491.9L742.4,493.7ZM749.4,492.7L750,495L743,495.4Z" fill="#141414"/>
<path d="M771.5,495.2 Q815,492.8 862.5,496.6" stroke="#111" stroke-width="2.2" fill="none" stroke-linecap="round"/>
<text x="762.5" y="528" font-size="47" textLength="105.5" lengthAdjust="spacingAndGlyphs" style="font-family:'DejaVu Sans',sans-serif;font-style:oblique;fill:#111;stroke:#111;stroke-width:0.5px" opacity="0.99">uʌρƨδ</text>
</svg>
</body></html>
